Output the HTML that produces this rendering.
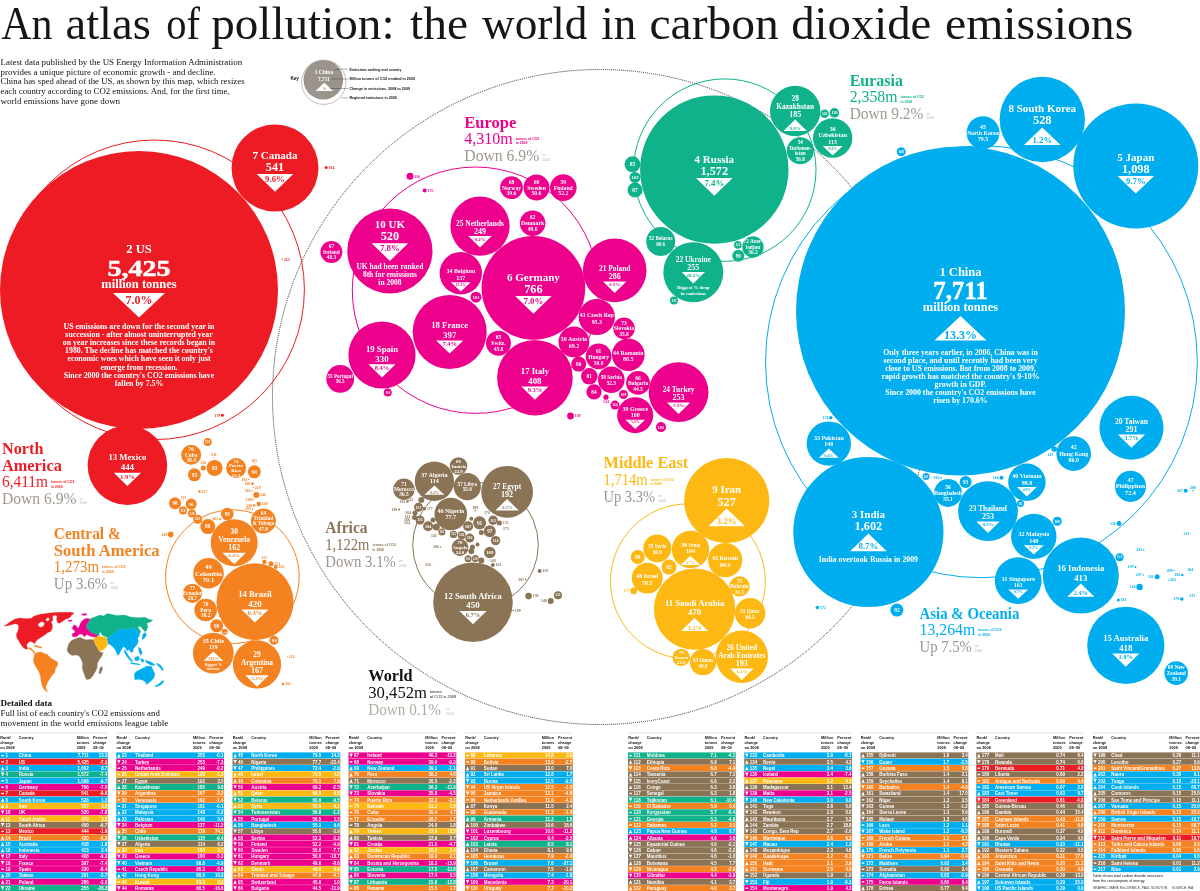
<!DOCTYPE html>
<html lang="en"><head><meta charset="utf-8"><title>An atlas of pollution: the world in carbon dioxide emissions</title>
<style>html,body{margin:0;padding:0;background:#fff}body{width:1200px;height:891px;overflow:hidden}svg{display:block;will-change:transform}text{font-family:"Liberation Serif",serif}.s text{font-family:"Liberation Sans",sans-serif}</style>
</head><body>
<svg width="1200" height="891" viewBox="0 0 1200 891">
<rect width="1200" height="891" fill="#fff"/>
<g fill="#fff">
<text y="38.7" font-size="47" fill="#161616"><tspan x="1.25" textLength="51.29" lengthAdjust="spacingAndGlyphs">An</tspan> <tspan x="65.5" textLength="85.28" lengthAdjust="spacingAndGlyphs">atlas</tspan> <tspan x="166.25" textLength="33.71" lengthAdjust="spacingAndGlyphs">of</tspan> <tspan x="211.25" textLength="183.24" lengthAdjust="spacingAndGlyphs">pollution:</tspan> <tspan x="410" textLength="58.02" lengthAdjust="spacingAndGlyphs">the</tspan> <tspan x="482" textLength="105.45" lengthAdjust="spacingAndGlyphs">world</tspan> <tspan x="601.25" textLength="34.96" lengthAdjust="spacingAndGlyphs">in</tspan> <tspan x="649.5" textLength="129.22" lengthAdjust="spacingAndGlyphs">carbon</tspan> <tspan x="791.25" textLength="139.98" lengthAdjust="spacingAndGlyphs">dioxide</tspan> <tspan x="945" textLength="188.31" lengthAdjust="spacingAndGlyphs">emissions</tspan></text>
<text x="0.6" y="65" font-size="8.9" fill="#111" textLength="241.5" lengthAdjust="spacingAndGlyphs">Latest data published by the US Energy Information Administration</text>
<text x="0.6" y="74.65" font-size="8.9" fill="#111" textLength="215" lengthAdjust="spacingAndGlyphs">provides a unique picture of economic growth - and decline.</text>
<text x="0.6" y="84.3" font-size="8.9" fill="#111" textLength="244" lengthAdjust="spacingAndGlyphs">China has sped ahead of the US, as shown by this map, which resizes</text>
<text x="0.6" y="93.95" font-size="8.9" fill="#111" textLength="229" lengthAdjust="spacingAndGlyphs">each country according to CO2 emissions. And, for the first time,</text>
<text x="0.6" y="103.6" font-size="8.9" fill="#111" textLength="119.5" lengthAdjust="spacingAndGlyphs">world emissions have gone down</text>
<circle cx="600" cy="397" r="327.5" fill="none" stroke="#111" stroke-width="0.95" stroke-dasharray="0.9 1.1"/>
<circle cx="154.6" cy="289.8" r="149.8" fill="none" stroke="#ed1c24" stroke-width="1"/>
<circle cx="475.5" cy="290.2" r="123.2" fill="none" stroke="#ec008c" stroke-width="1"/>
<circle cx="724.8" cy="170.1" r="91.2" fill="none" stroke="#10b28b" stroke-width="1"/>
<circle cx="981.4" cy="361.8" r="215.9" fill="none" stroke="#00aeef" stroke-width="1"/>
<circle cx="232.4" cy="576.7" r="66.8" fill="none" stroke="#f58220" stroke-width="1"/>
<circle cx="475.5" cy="545" r="62.8" fill="none" stroke="#8b7355" stroke-width="1"/>
<circle cx="687.9" cy="581.3" r="77.4" fill="none" stroke="#fdb813" stroke-width="1"/>
<g>
<circle cx="323.75" cy="82.2" r="22.2" fill="none" stroke="#9a948c" stroke-width="0.6"/>
<circle cx="323.3" cy="79.8" r="19.8" fill="#9a948c"/>
<text x="323.9" y="73.5" font-size="5.5" text-anchor="middle" font-weight="bold">1 China</text>
<text x="323.9" y="80.6" font-size="5.3" text-anchor="middle" font-weight="bold">7,711</text>
<polygon points="324.3,82.75 333.05,91 315.55,91" fill="#fff"/>
<text x="324.3" y="90.2" font-size="3.6" text-anchor="middle" font-weight="bold" fill="#8a847c">%</text>
<path d="M334.4 70.1L338 69.1H348.1M331.3 79H348.1M330 88.5H348.1M341.3 97.8H348.1" fill="none" stroke="#222" stroke-width="0.35"/>
<g class="s">
<text x="290.4" y="79.8" font-size="4.8" font-weight="bold" fill="#111" textLength="8.6" lengthAdjust="spacingAndGlyphs">Key</text>
<text x="349.4" y="70.6" font-size="4" font-weight="bold" fill="#111" textLength="52.1" lengthAdjust="spacingAndGlyphs">Emissions ranking and country</text>
<text x="349.4" y="80.1" font-size="4" font-weight="bold" fill="#111" textLength="65.6" lengthAdjust="spacingAndGlyphs">Million tonnes of CO2 emitted in 2009</text>
<text x="349.4" y="89.7" font-size="4" font-weight="bold" fill="#111" textLength="60.6" lengthAdjust="spacingAndGlyphs">Change in emissions, 2008 to 2009</text>
<text x="349.4" y="99.1" font-size="4" font-weight="bold" fill="#111" textLength="47.5" lengthAdjust="spacingAndGlyphs">Regional emissions in 2009</text>
</g></g>
<circle cx="960.5" cy="311" r="164.5" fill="#00aeef"/>
<circle cx="139" cy="290" r="139" fill="#ed1c24"/>
<circle cx="868.4" cy="532" r="75.1" fill="#00aeef"/>
<circle cx="714.3" cy="169.6" r="74.2" fill="#10b28b"/>
<circle cx="1135.8" cy="166" r="62.5" fill="#00aeef"/>
<circle cx="533.4" cy="287.9" r="51.8" fill="#ec008c"/>
<circle cx="275" cy="168" r="43.5" fill="#ed1c24"/>
<circle cx="1042.3" cy="119.5" r="42.7" fill="#00aeef"/>
<circle cx="389.9" cy="251" r="42.6" fill="#ec008c"/>
<circle cx="726.7" cy="500.6" r="42.6" fill="#fdb813"/>
<circle cx="694.6" cy="609.1" r="40.7" fill="#fdb813"/>
<circle cx="127.4" cy="465.3" r="39.8" fill="#ed1c24"/>
<circle cx="473" cy="602.3" r="39.8" fill="#8b7355"/>
<circle cx="1125.8" cy="645.4" r="38.6" fill="#00aeef"/>
<circle cx="255" cy="601.8" r="38.5" fill="#f58220"/>
<circle cx="1080.8" cy="575.6" r="38" fill="#00aeef"/>
<circle cx="534.9" cy="377.7" r="37.8" fill="#ec008c"/>
<circle cx="449.7" cy="332" r="37" fill="#ec008c"/>
<circle cx="382" cy="355" r="33.6" fill="#ec008c"/>
<circle cx="1131.5" cy="427.7" r="32" fill="#00aeef"/>
<circle cx="614.7" cy="270.4" r="31.8" fill="#ec008c"/>
<circle cx="693.3" cy="272.3" r="30" fill="#10b28b"/>
<circle cx="678.6" cy="392.2" r="29.9" fill="#ec008c"/>
<circle cx="988" cy="511.1" r="29.9" fill="#00aeef"/>
<circle cx="480" cy="226.2" r="29.6" fill="#ec008c"/>
<circle cx="741.8" cy="656.7" r="26.2" fill="#fdb813"/>
<circle cx="507.1" cy="491.8" r="25.9" fill="#8b7355"/>
<circle cx="795.2" cy="111" r="25.2" fill="#10b28b"/>
<circle cx="257" cy="664.4" r="24.1" fill="#f58220"/>
<circle cx="234.2" cy="542.8" r="23.5" fill="#f58220"/>
<circle cx="1018.2" cy="580.6" r="23.4" fill="#00aeef"/>
<circle cx="1033.8" cy="536.4" r="22.7" fill="#00aeef"/>
<circle cx="828.8" cy="443.6" r="22.2" fill="#00aeef"/>
<circle cx="460.8" cy="273.2" r="21.2" fill="#ec008c"/>
<circle cx="213.3" cy="653.1" r="20.4" fill="#f58220"/>
<circle cx="832.7" cy="138" r="19.7" fill="#10b28b"/>
<circle cx="434.4" cy="481.3" r="19.7" fill="#8b7355"/>
<circle cx="1026.9" cy="482.2" r="18.7" fill="#00aeef"/>
<circle cx="690.5" cy="549.5" r="18.7" fill="#fdb813"/>
<circle cx="596.8" cy="317" r="18.1" fill="#ec008c"/>
<circle cx="635.2" cy="415.2" r="18" fill="#ec008c"/>
<circle cx="1073.7" cy="453.6" r="17.3" fill="#00aeef"/>
<circle cx="725.2" cy="560.1" r="17.1" fill="#fdb813"/>
<circle cx="983" cy="132.7" r="16.5" fill="#00aeef"/>
<circle cx="628.3" cy="354.8" r="16.3" fill="#ec008c"/>
<circle cx="450.8" cy="514" r="16.3" fill="#8b7355"/>
<circle cx="1130.5" cy="486.3" r="15.6" fill="#00aeef"/>
<circle cx="573.9" cy="341.9" r="15.4" fill="#ec008c"/>
<circle cx="647.2" cy="578.1" r="15.4" fill="#fdb813"/>
<circle cx="208.5" cy="573.3" r="15.3" fill="#f58220"/>
<circle cx="750.1" cy="613.2" r="15.2" fill="#fdb813"/>
<circle cx="660.7" cy="241.5" r="14.5" fill="#10b28b"/>
<circle cx="657.3" cy="548.4" r="14" fill="#fdb813"/>
<circle cx="340.2" cy="378.8" r="13.9" fill="#ec008c"/>
<circle cx="948" cy="493" r="13.9" fill="#00aeef"/>
<circle cx="467.3" cy="486.7" r="13.6" fill="#8b7355"/>
<circle cx="800.3" cy="150.7" r="13.5" fill="#10b28b"/>
<circle cx="563.3" cy="187.6" r="13.3" fill="#ec008c"/>
<circle cx="611.3" cy="379.7" r="13.3" fill="#ec008c"/>
<circle cx="703" cy="662.2" r="13.1" fill="#fdb813"/>
<circle cx="536.5" cy="187.6" r="13" fill="#ec008c"/>
<circle cx="598.6" cy="356.3" r="12.9" fill="#ec008c"/>
<circle cx="532.6" cy="223.3" r="12.8" fill="#ec008c"/>
<circle cx="498.5" cy="343.2" r="12.5" fill="#ec008c"/>
<circle cx="263.4" cy="521" r="12.5" fill="#f58220"/>
<circle cx="638" cy="382.9" r="11.9" fill="#ec008c"/>
<circle cx="1176.2" cy="673.1" r="11.8" fill="#00aeef"/>
<circle cx="511.5" cy="187.6" r="11.4" fill="#ec008c"/>
<circle cx="205.7" cy="610" r="11.3" fill="#f58220"/>
<circle cx="331.4" cy="252" r="11" fill="#ec008c"/>
<circle cx="624" cy="328.3" r="10.8" fill="#ec008c"/>
<circle cx="753" cy="247" r="10.7" fill="#10b28b"/>
<circle cx="403.9" cy="489.2" r="10.7" fill="#8b7355"/>
<circle cx="739.5" cy="586.4" r="10.2" fill="#fdb813"/>
<circle cx="191.2" cy="454.8" r="10" fill="#f58220"/>
<circle cx="236.1" cy="468" r="10" fill="#f58220"/>
<circle cx="192.4" cy="593.3" r="9.6" fill="#f58220"/>
<circle cx="458.5" cy="466" r="8.8" fill="#8b7355"/>
<circle cx="681.2" cy="657.4" r="8.7" fill="#fdb813"/>
<circle cx="460" cy="547.5" r="8.4" fill="#8b7355"/>
<circle cx="589.3" cy="376.3" r="8.3" fill="#ec008c"/>
<circle cx="632.5" cy="164.3" r="8" fill="#10b28b"/>
<circle cx="214.6" cy="468" r="8" fill="#f58220"/>
<circle cx="594" cy="391.8" r="7.6" fill="#ec008c"/>
<circle cx="578.7" cy="364.1" r="7.5" fill="#ec008c"/>
<circle cx="635" cy="190" r="7.5" fill="#10b28b"/>
<circle cx="669" cy="567.1" r="7.5" fill="#fdb813"/>
<circle cx="207.8" cy="526.6" r="7.5" fill="#f58220"/>
<circle cx="637.7" cy="557" r="7" fill="#fdb813"/>
<circle cx="896.9" cy="610.1" r="6.5" fill="#00aeef"/>
<circle cx="254.3" cy="471.8" r="6.5" fill="#f58220"/>
<circle cx="194.4" cy="474.8" r="6.5" fill="#f58220"/>
<circle cx="216.7" cy="625.8" r="6.5" fill="#f58220"/>
<circle cx="479.6" cy="522.8" r="6.5" fill="#8b7355"/>
<circle cx="227.3" cy="514" r="6.3" fill="#f58220"/>
<circle cx="738.3" cy="255.8" r="6" fill="#10b28b"/>
<circle cx="965.6" cy="482" r="6" fill="#00aeef"/>
<circle cx="175" cy="503.3" r="6" fill="#f58220"/>
<circle cx="489.8" cy="531.3" r="6" fill="#8b7355"/>
<circle cx="489.8" cy="552.5" r="5.8" fill="#8b7355"/>
<circle cx="476" cy="297.2" r="5.5" fill="#ec008c"/>
<circle cx="635" cy="177.4" r="5.5" fill="#10b28b"/>
<circle cx="191.2" cy="504.1" r="5.5" fill="#f58220"/>
<circle cx="661" cy="427.1" r="5" fill="#ec008c"/>
<circle cx="428.1" cy="526.3" r="5" fill="#8b7355"/>
<circle cx="468.1" cy="526.3" r="5" fill="#8b7355"/>
<circle cx="834.4" cy="112.8" r="4.8" fill="#10b28b"/>
<circle cx="493.1" cy="520.3" r="4.7" fill="#8b7355"/>
<circle cx="495.6" cy="540.6" r="4.7" fill="#8b7355"/>
<circle cx="623.5" cy="394.5" r="4.5" fill="#ec008c"/>
<circle cx="615" cy="405.1" r="4.5" fill="#ec008c"/>
<circle cx="901.2" cy="151.8" r="4.5" fill="#00aeef"/>
<circle cx="1057.3" cy="521.3" r="4.5" fill="#00aeef"/>
<circle cx="197.7" cy="519.2" r="4.5" fill="#f58220"/>
<circle cx="273.9" cy="640.3" r="4.5" fill="#f58220"/>
<circle cx="418.5" cy="507.3" r="4.5" fill="#8b7355"/>
<circle cx="420" cy="520" r="4.5" fill="#8b7355"/>
<circle cx="469.8" cy="538.1" r="4.5" fill="#8b7355"/>
<circle cx="824.6" cy="113.8" r="4.3" fill="#10b28b"/>
<circle cx="387.7" cy="392.4" r="4" fill="#ec008c"/>
<circle cx="674" cy="300.5" r="4" fill="#10b28b"/>
<circle cx="1119.6" cy="557.3" r="4" fill="#00aeef"/>
<circle cx="207.6" cy="442" r="4" fill="#f58220"/>
<circle cx="183" cy="510.4" r="4" fill="#f58220"/>
<circle cx="192" cy="513.4" r="4" fill="#f58220"/>
<circle cx="461.6" cy="535.3" r="4" fill="#8b7355"/>
<circle cx="558" cy="595.2" r="4" fill="#8b7355"/>
<circle cx="737.8" cy="244.9" r="3.8" fill="#10b28b"/>
<circle cx="453.5" cy="534.4" r="3.7" fill="#8b7355"/>
<circle cx="926" cy="476.5" r="3.5" fill="#00aeef"/>
<circle cx="1020.5" cy="503.5" r="3.5" fill="#00aeef"/>
<circle cx="436.3" cy="526.9" r="3.5" fill="#8b7355"/>
<circle cx="441.9" cy="531.9" r="3.5" fill="#8b7355"/>
<circle cx="468.1" cy="558.8" r="3.5" fill="#8b7355"/>
<circle cx="475.3" cy="558.5" r="3.5" fill="#8b7355"/>
<circle cx="224.7" cy="631.8" r="3" fill="#f58220"/>
<circle cx="481.3" cy="560.6" r="3" fill="#8b7355"/>
<circle cx="421.3" cy="500" r="3" fill="#8b7355"/>
<circle cx="471.3" cy="551.3" r="3" fill="#8b7355"/>
<circle cx="433" cy="520" r="2.5" fill="#8b7355"/>
<circle cx="415" cy="513" r="2.5" fill="#8b7355"/>
<circle cx="414.5" cy="517.5" r="2.5" fill="#8b7355"/>
<circle cx="481.3" cy="532.5" r="2.5" fill="#8b7355"/>
<circle cx="472.5" cy="546.9" r="2.5" fill="#8b7355"/>
<circle cx="471.3" cy="518.8" r="2" fill="#8b7355"/>
<circle cx="477.5" cy="544.4" r="2" fill="#8b7355"/>
<circle cx="326.2" cy="167.6" r="1.5" fill="#ed1c24"/>
<circle cx="282.5" cy="259.2" r="0.6" fill="#ed1c24"/>
<circle cx="222.4" cy="415.3" r="1.5" fill="#ed1c24"/>
<circle cx="410" cy="176.2" r="3.5" fill="#ec008c"/>
<circle cx="424.7" cy="190.5" r="2" fill="#ec008c"/>
<circle cx="570.5" cy="416" r="3.4" fill="#ec008c"/>
<circle cx="606" cy="397.2" r="2.6" fill="#ec008c"/>
<circle cx="830.8" cy="417.7" r="1.7" fill="#00aeef"/>
<circle cx="941" cy="477.8" r="0.9" fill="#00aeef"/>
<circle cx="1001.5" cy="477.8" r="2" fill="#00aeef"/>
<circle cx="1054.2" cy="449" r="2.8" fill="#00aeef"/>
<circle cx="817.4" cy="607.6" r="1.8" fill="#00aeef"/>
<circle cx="1185.7" cy="490.8" r="2" fill="#00aeef"/>
<circle cx="1193" cy="490.8" r="0.7" fill="#00aeef"/>
<circle cx="1119" cy="523.5" r="2.4" fill="#00aeef"/>
<circle cx="1190.5" cy="533.5" r="0.4" fill="#00aeef"/>
<circle cx="1143.7" cy="550" r="0.8" fill="#00aeef"/>
<circle cx="1135.4" cy="567.1" r="1" fill="#00aeef"/>
<circle cx="1143.2" cy="575" r="0.7" fill="#00aeef"/>
<circle cx="1157.1" cy="576.8" r="2.5" fill="#00aeef"/>
<circle cx="1174" cy="570.3" r="0.7" fill="#00aeef"/>
<circle cx="1182.3" cy="575" r="1.2" fill="#00aeef"/>
<circle cx="1168.8" cy="580" r="0.7" fill="#00aeef"/>
<circle cx="1190.3" cy="573" r="0.5" fill="#00aeef"/>
<circle cx="1139.6" cy="586.9" r="3.2" fill="#00aeef"/>
<circle cx="1118.3" cy="600.1" r="1.5" fill="#00aeef"/>
<circle cx="1181.8" cy="599" r="1.8" fill="#00aeef"/>
<circle cx="1196.5" cy="595.4" r="0.4" fill="#00aeef"/>
<circle cx="633.7" cy="590.9" r="3.3" fill="#fdb813"/>
<circle cx="214" cy="457.9" r="0.5" fill="#f58220"/>
<circle cx="203.3" cy="468" r="2.5" fill="#f58220"/>
<circle cx="254.3" cy="463.5" r="0.5" fill="#f58220"/>
<circle cx="248.7" cy="479.3" r="0.7" fill="#f58220"/>
<circle cx="252.5" cy="483.6" r="1.4" fill="#f58220"/>
<circle cx="253.3" cy="487.2" r="0.7" fill="#f58220"/>
<circle cx="252" cy="490.7" r="0.7" fill="#f58220"/>
<circle cx="199.5" cy="491.5" r="1.2" fill="#f58220"/>
<circle cx="256.3" cy="495" r="3" fill="#f58220"/>
<circle cx="253.3" cy="499.5" r="0.8" fill="#f58220"/>
<circle cx="258.8" cy="504" r="2.2" fill="#f58220"/>
<circle cx="254.3" cy="505.4" r="1.2" fill="#f58220"/>
<circle cx="252.5" cy="509.1" r="0.8" fill="#f58220"/>
<circle cx="170.7" cy="534.4" r="2.8" fill="#f58220"/>
<circle cx="220" cy="519" r="1" fill="#f58220"/>
<circle cx="264.4" cy="561.9" r="2.2" fill="#f58220"/>
<circle cx="271" cy="563.7" r="2.5" fill="#f58220"/>
<circle cx="275.8" cy="567" r="2" fill="#f58220"/>
<circle cx="287.4" cy="656.6" r="0.5" fill="#f58220"/>
<circle cx="282.9" cy="684" r="1.2" fill="#f58220"/>
<circle cx="183.6" cy="500.5" r="0.5" fill="#f58220"/>
<circle cx="399.1" cy="509.4" r="1" fill="#8b7355"/>
<circle cx="424.4" cy="508.8" r="1.7" fill="#8b7355"/>
<circle cx="407.5" cy="501.5" r="1.2" fill="#8b7355"/>
<circle cx="440.6" cy="546.9" r="0.7" fill="#8b7355"/>
<circle cx="432" cy="564.4" r="0.4" fill="#8b7355"/>
<circle cx="525.6" cy="579.4" r="0.8" fill="#8b7355"/>
<circle cx="492.8" cy="565" r="2" fill="#8b7355"/>
<circle cx="499.4" cy="523.1" r="2.5" fill="#8b7355"/>
<circle cx="539.6" cy="570.9" r="2" fill="#8b7355"/>
<circle cx="528.6" cy="596.1" r="3.3" fill="#8b7355"/>
<circle cx="550.7" cy="600.9" r="3" fill="#8b7355"/>
<circle cx="513.2" cy="610.5" r="0.8" fill="#8b7355"/>
<circle cx="475.3" cy="510.6" r="0.8" fill="#8b7355"/>
<circle cx="488.8" cy="560.6" r="0.3" fill="#8b7355"/>
<circle cx="412" cy="513" r="0.3" fill="#8b7355"/>
<circle cx="411.5" cy="516.5" r="0.3" fill="#8b7355"/>
<circle cx="411" cy="519.5" r="0.3" fill="#8b7355"/>
<circle cx="411" cy="522.5" r="0.3" fill="#8b7355"/>
<circle cx="501.9" cy="528.5" r="0.3" fill="#8b7355"/>
<circle cx="486.9" cy="515.5" r="0.3" fill="#8b7355"/>
<circle cx="434" cy="532.9" r="0.3" fill="#8b7355"/>
<circle cx="414" cy="500" r="0.3" fill="#8b7355"/>
<text x="139" y="252.8" font-size="12.5" text-anchor="middle" font-weight="bold">2 US</text>
<text x="139" y="276.2" font-size="23.8" text-anchor="middle" font-weight="bold" stroke="#fff" stroke-width="0.45" textLength="63" lengthAdjust="spacingAndGlyphs">5,425</text>
<text x="139" y="288" font-size="12.5" text-anchor="middle" font-weight="bold">million tonnes</text>
<polygon points="113,293 165,293 139,317.5" fill="#fff"/>
<text x="139" y="304" font-size="12" text-anchor="middle" font-weight="bold" fill="#ed1c24">7.0%</text>
<text x="139" y="328.8" font-size="7.85" text-anchor="middle" font-weight="bold">US emissions are down for the second year in</text>
<text x="139" y="336.95" font-size="7.85" text-anchor="middle" font-weight="bold">succession - after almost uninterrupted year</text>
<text x="139" y="345.1" font-size="7.85" text-anchor="middle" font-weight="bold">on year increases since these records began in</text>
<text x="139" y="353.25" font-size="7.85" text-anchor="middle" font-weight="bold">1980. The decline has matched the country's</text>
<text x="139" y="361.4" font-size="7.85" text-anchor="middle" font-weight="bold">economic woes which have seen it only just</text>
<text x="139" y="369.55" font-size="7.85" text-anchor="middle" font-weight="bold">emerge from recession.</text>
<text x="139" y="377.7" font-size="7.85" text-anchor="middle" font-weight="bold">Since 2000 the country's CO2 emissions have</text>
<text x="139" y="385.85" font-size="7.85" text-anchor="middle" font-weight="bold">fallen by 7.5%</text>
<text x="960.5" y="275.6" font-size="12.5" text-anchor="middle" font-weight="bold">1 China</text>
<text x="960.5" y="299" font-size="24.6" text-anchor="middle" font-weight="bold" stroke="#fff" stroke-width="0.45" textLength="54.5" lengthAdjust="spacingAndGlyphs">7,711</text>
<text x="960.5" y="310.8" font-size="12.5" text-anchor="middle" font-weight="bold">million tonnes</text>
<polygon points="960.5,316 986.5,340.5 934.5,340.5" fill="#fff"/>
<text x="960.5" y="338.5" font-size="12" text-anchor="middle" font-weight="bold" fill="#00aeef">13.3%</text>
<text x="960.5" y="354.5" font-size="7.85" text-anchor="middle" font-weight="bold">Only three years earlier, in 2006, China was in</text>
<text x="960.5" y="362.65" font-size="7.85" text-anchor="middle" font-weight="bold">second place, and until recently had been very</text>
<text x="960.5" y="370.8" font-size="7.85" text-anchor="middle" font-weight="bold">close to US emissions. But from 2008 to 2009,</text>
<text x="960.5" y="378.95" font-size="7.85" text-anchor="middle" font-weight="bold">rapid growth has matched the country's 9-10%</text>
<text x="960.5" y="387.1" font-size="7.85" text-anchor="middle" font-weight="bold">growth in GDP.</text>
<text x="960.5" y="395.25" font-size="7.85" text-anchor="middle" font-weight="bold">Since 2000 the country's CO2 emissions have</text>
<text x="960.5" y="403.4" font-size="7.85" text-anchor="middle" font-weight="bold">risen by 170.6%</text>
<text x="275" y="158.8" font-size="11" text-anchor="middle" font-weight="bold">7 Canada</text>
<text x="275" y="171" font-size="12.3" text-anchor="middle" font-weight="bold">541</text>
<polygon points="256.7,174.1 293.3,174.1 275,191.8" fill="#fff"/>
<text x="275" y="181.7" font-size="8.8" text-anchor="middle" font-weight="bold" fill="#ed1c24">9.6%</text>
<text x="127.4" y="460.4" font-size="8.7" text-anchor="middle" font-weight="bold">13 Mexico</text>
<text x="127.4" y="470.1" font-size="8.9" text-anchor="middle" font-weight="bold">444</text>
<polygon points="113.8,472.8 141,472.8 127.4,486" fill="#fff"/>
<text x="127.4" y="478.5" font-size="6.4" text-anchor="middle" font-weight="bold" fill="#ed1c24">1.9%</text>
<text x="714.3" y="162.8" font-size="11" text-anchor="middle" font-weight="bold">4 Russia</text>
<text x="714.3" y="175" font-size="12.3" text-anchor="middle" font-weight="bold">1,572</text>
<polygon points="696,178.1 732.6,178.1 714.3,195.8" fill="#fff"/>
<text x="714.3" y="185.7" font-size="8.8" text-anchor="middle" font-weight="bold" fill="#10b28b">7.4%</text>
<text x="1042.3" y="112.1" font-size="11" text-anchor="middle" font-weight="bold">8 South Korea</text>
<text x="1042.3" y="124.3" font-size="12.3" text-anchor="middle" font-weight="bold">528</text>
<polygon points="1042.3,127.4 1060.6,145.1 1024,145.1" fill="#fff"/>
<text x="1042.3" y="142.9" font-size="8.8" text-anchor="middle" font-weight="bold" fill="#00aeef">1.2%</text>
<text x="1135.8" y="160.6" font-size="11" text-anchor="middle" font-weight="bold">5 Japan</text>
<text x="1135.8" y="172.8" font-size="12.3" text-anchor="middle" font-weight="bold">1,098</text>
<polygon points="1117.5,175.9 1154.1,175.9 1135.8,193.6" fill="#fff"/>
<text x="1135.8" y="183.5" font-size="8.8" text-anchor="middle" font-weight="bold" fill="#00aeef">9.7%</text>
<text x="533.4" y="280.8" font-size="11" text-anchor="middle" font-weight="bold">6 Germany</text>
<text x="533.4" y="293" font-size="12.3" text-anchor="middle" font-weight="bold">766</text>
<polygon points="515.1,296.1 551.7,296.1 533.4,313.8" fill="#fff"/>
<text x="533.4" y="303.7" font-size="8.8" text-anchor="middle" font-weight="bold" fill="#ec008c">7.0%</text>
<text x="389.9" y="227.9" font-size="11" text-anchor="middle" font-weight="bold">10 UK</text>
<text x="389.9" y="240.1" font-size="12.3" text-anchor="middle" font-weight="bold">520</text>
<polygon points="371.6,243.2 408.2,243.2 389.9,260.9" fill="#fff"/>
<text x="389.9" y="250.8" font-size="8.8" text-anchor="middle" font-weight="bold" fill="#ec008c">7.8%</text>
<text x="389.9" y="269.3" font-size="7.5" text-anchor="middle" font-weight="bold">UK had been ranked</text>
<text x="389.9" y="277.3" font-size="7.5" text-anchor="middle" font-weight="bold">8th for emissions</text>
<text x="389.9" y="285.3" font-size="7.5" text-anchor="middle" font-weight="bold">in 2008</text>
<text x="449.7" y="328" font-size="8.7" text-anchor="middle" font-weight="bold">18 France</text>
<text x="449.7" y="337.7" font-size="8.9" text-anchor="middle" font-weight="bold">397</text>
<polygon points="436.1,340.4 463.3,340.4 449.7,353.6" fill="#fff"/>
<text x="449.7" y="346.1" font-size="6.4" text-anchor="middle" font-weight="bold" fill="#ec008c">7.4%</text>
<text x="382" y="351.8" font-size="8.7" text-anchor="middle" font-weight="bold">19 Spain</text>
<text x="382" y="361.5" font-size="8.9" text-anchor="middle" font-weight="bold">330</text>
<polygon points="368.4,364.2 395.6,364.2 382,377.4" fill="#fff"/>
<text x="382" y="369.9" font-size="6.4" text-anchor="middle" font-weight="bold" fill="#ec008c">8.4%</text>
<text x="534.9" y="374.2" font-size="8.7" text-anchor="middle" font-weight="bold">17 Italy</text>
<text x="534.9" y="383.9" font-size="8.9" text-anchor="middle" font-weight="bold">408</text>
<polygon points="521.3,386.6 548.5,386.6 534.9,399.8" fill="#fff"/>
<text x="534.9" y="392.3" font-size="6.4" text-anchor="middle" font-weight="bold" fill="#ec008c">9.3%</text>
<text x="868.4" y="518.2" font-size="11" text-anchor="middle" font-weight="bold">3 India</text>
<text x="868.4" y="530.4" font-size="12.3" text-anchor="middle" font-weight="bold">1,602</text>
<polygon points="868.4,533.5 886.7,551.2 850.1,551.2" fill="#fff"/>
<text x="868.4" y="549" font-size="8.8" text-anchor="middle" font-weight="bold" fill="#00aeef">8.7%</text>
<text x="868.4" y="561.6" font-size="7.8" text-anchor="middle" font-weight="bold">India overtook Russia in 2009</text>
<text x="1080.8" y="571.2" font-size="8.7" text-anchor="middle" font-weight="bold">16 Indonesia</text>
<text x="1080.8" y="580.9" font-size="8.9" text-anchor="middle" font-weight="bold">413</text>
<polygon points="1080.8,583.6 1094.4,596.8 1067.2,596.8" fill="#fff"/>
<text x="1080.8" y="595.2" font-size="6.4" text-anchor="middle" font-weight="bold" fill="#00aeef">2.4%</text>
<text x="1125.8" y="641.2" font-size="8.7" text-anchor="middle" font-weight="bold">15 Australia</text>
<text x="1125.8" y="650.9" font-size="8.9" text-anchor="middle" font-weight="bold">418</text>
<polygon points="1112.2,653.6 1139.4,653.6 1125.8,666.8" fill="#fff"/>
<text x="1125.8" y="659.3" font-size="6.4" text-anchor="middle" font-weight="bold" fill="#00aeef">1.8%</text>
<text x="726.7" y="493.3" font-size="11" text-anchor="middle" font-weight="bold">9 Iran</text>
<text x="726.7" y="505.5" font-size="12.3" text-anchor="middle" font-weight="bold">527</text>
<polygon points="726.7,508.6 745,526.3 708.4,526.3" fill="#fff"/>
<text x="726.7" y="524.1" font-size="8.8" text-anchor="middle" font-weight="bold" fill="#fdb813">3.2%</text>
<text x="694.6" y="605.5" font-size="8.7" text-anchor="middle" font-weight="bold">11 Saudi Arabia</text>
<text x="694.6" y="615.2" font-size="8.9" text-anchor="middle" font-weight="bold">470</text>
<polygon points="694.6,617.9 708.2,631.1 681,631.1" fill="#fff"/>
<text x="694.6" y="629.5" font-size="6.4" text-anchor="middle" font-weight="bold" fill="#fdb813">3.2%</text>
<text x="473" y="598.6" font-size="8.7" text-anchor="middle" font-weight="bold">12 South Africa</text>
<text x="473" y="608.3" font-size="8.9" text-anchor="middle" font-weight="bold">450</text>
<polygon points="459.4,611 486.6,611 473,624.2" fill="#fff"/>
<text x="473" y="616.7" font-size="6.4" text-anchor="middle" font-weight="bold" fill="#8b7355">6.7%</text>
<text x="255" y="597" font-size="8.7" text-anchor="middle" font-weight="bold">14 Brazil</text>
<text x="255" y="606.7" font-size="8.9" text-anchor="middle" font-weight="bold">420</text>
<polygon points="241.4,609.4 268.6,609.4 255,622.6" fill="#fff"/>
<text x="255" y="615.1" font-size="6.4" text-anchor="middle" font-weight="bold" fill="#f58220">0.3%</text>
<text x="1131.5" y="423.8" font-size="7.6" text-anchor="middle" font-weight="bold">20 Taiwan</text>
<text x="1131.5" y="431.8" font-size="8" text-anchor="middle" font-weight="bold">291</text>
<polygon points="1117.9,434.5 1145.1,434.5 1131.5,447.7" fill="#fff"/>
<text x="1131.5" y="440.2" font-size="6.4" text-anchor="middle" font-weight="bold" fill="#00aeef">3.7%</text>
<text x="480" y="225.6" font-size="7.4" text-anchor="middle" font-weight="bold">25 Netherlands</text>
<text x="480" y="233.6" font-size="8.1" text-anchor="middle" font-weight="bold">249</text>
<polygon points="468.3,236.1 491.7,236.1 480,247.6" fill="#fff"/>
<text x="480" y="240.7" font-size="5" text-anchor="middle" font-weight="bold" fill="#ec008c">0.2%</text>
<text x="614.7" y="270.9" font-size="7.4" text-anchor="middle" font-weight="bold">21 Poland</text>
<text x="614.7" y="278.9" font-size="8.1" text-anchor="middle" font-weight="bold">286</text>
<polygon points="603,281.4 626.4,281.4 614.7,292.9" fill="#fff"/>
<text x="614.7" y="286" font-size="5" text-anchor="middle" font-weight="bold" fill="#ec008c">3.5%</text>
<text x="693.3" y="261.5" font-size="7.4" text-anchor="middle" font-weight="bold">22 Ukraine</text>
<text x="693.3" y="269.5" font-size="8.1" text-anchor="middle" font-weight="bold">255</text>
<polygon points="681.6,272 705,272 693.3,283.5" fill="#fff"/>
<text x="693.3" y="276.6" font-size="5" text-anchor="middle" font-weight="bold" fill="#10b28b">28.2%</text>
<text x="693.3" y="289" font-size="4.9" text-anchor="middle" font-weight="bold">Biggest % drop</text>
<text x="693.3" y="294.6" font-size="4.9" text-anchor="middle" font-weight="bold">in emissions</text>
<text x="678.6" y="392.1" font-size="7.4" text-anchor="middle" font-weight="bold">24 Turkey</text>
<text x="678.6" y="400.1" font-size="8.1" text-anchor="middle" font-weight="bold">253</text>
<polygon points="666.9,402.6 690.3,402.6 678.6,414.1" fill="#fff"/>
<text x="678.6" y="407.2" font-size="5" text-anchor="middle" font-weight="bold" fill="#ec008c">7.3%</text>
<text x="988" y="511.1" font-size="7.4" text-anchor="middle" font-weight="bold">23 Thailand</text>
<text x="988" y="519.1" font-size="8.1" text-anchor="middle" font-weight="bold">253</text>
<polygon points="976.3,521.6 999.7,521.6 988,533.1" fill="#fff"/>
<text x="988" y="526.2" font-size="5" text-anchor="middle" font-weight="bold" fill="#00aeef">0.3%</text>
<text x="507.1" y="488.5" font-size="7.4" text-anchor="middle" font-weight="bold">27 Egypt</text>
<text x="507.1" y="496.5" font-size="8.1" text-anchor="middle" font-weight="bold">192</text>
<polygon points="507.1,499 518.8,510.5 495.4,510.5" fill="#fff"/>
<text x="507.1" y="509.1" font-size="5" text-anchor="middle" font-weight="bold" fill="#8b7355">3.5%</text>
<text x="795.2" y="101" font-size="7.4" text-anchor="middle" font-weight="bold">28</text>
<text x="795.2" y="109.1" font-size="7.4" text-anchor="middle" font-weight="bold">Kazakhstan</text>
<text x="795.2" y="117.1" font-size="8.1" text-anchor="middle" font-weight="bold">185</text>
<polygon points="795.2,119.6 806.9,131.1 783.5,131.1" fill="#fff"/>
<text x="795.2" y="129.7" font-size="5" text-anchor="middle" font-weight="bold" fill="#10b28b">9.8%</text>
<text x="741.8" y="649.8" font-size="7.4" text-anchor="middle" font-weight="bold">26 United</text>
<text x="741.8" y="657.9" font-size="7.4" text-anchor="middle" font-weight="bold">Arab Emirates</text>
<text x="741.8" y="665.9" font-size="8.1" text-anchor="middle" font-weight="bold">193</text>
<polygon points="730.1,668.4 753.5,668.4 741.8,679.9" fill="#fff"/>
<text x="741.8" y="673" font-size="5" text-anchor="middle" font-weight="bold" fill="#fdb813">1.2%</text>
<text x="257" y="656.6" font-size="7.4" text-anchor="middle" font-weight="bold">29</text>
<text x="257" y="664.7" font-size="7.4" text-anchor="middle" font-weight="bold">Argentina</text>
<text x="257" y="672.7" font-size="8.1" text-anchor="middle" font-weight="bold">167</text>
<polygon points="245.3,675.2 268.7,675.2 257,686.7" fill="#fff"/>
<text x="257" y="679.8" font-size="5" text-anchor="middle" font-weight="bold" fill="#f58220">5.3%</text>
<text x="234.2" y="534.1" font-size="7.4" text-anchor="middle" font-weight="bold">30</text>
<text x="234.2" y="542.2" font-size="7.4" text-anchor="middle" font-weight="bold">Venezuela</text>
<text x="234.2" y="550.2" font-size="8.1" text-anchor="middle" font-weight="bold">162</text>
<polygon points="222.5,552.7 245.9,552.7 234.2,564.2" fill="#fff"/>
<text x="234.2" y="557.3" font-size="5" text-anchor="middle" font-weight="bold" fill="#f58220">1.4%</text>
<text x="460.8" y="273.4" font-size="6" text-anchor="middle" font-weight="bold">34 Belgium</text>
<text x="460.8" y="279.9" font-size="6" text-anchor="middle" font-weight="bold">137</text>
<polygon points="450.9,282.2 470.7,282.2 460.8,291.6" fill="#fff"/>
<text x="460.8" y="285.8" font-size="3.8" text-anchor="middle" font-weight="bold" fill="#ec008c">11.2%</text>
<text x="635.2" y="410.9" font-size="6" text-anchor="middle" font-weight="bold">39 Greece</text>
<text x="635.2" y="417.4" font-size="6" text-anchor="middle" font-weight="bold">100</text>
<polygon points="625.3,419.7 645.1,419.7 635.2,429.1" fill="#fff"/>
<text x="635.2" y="423.3" font-size="3.8" text-anchor="middle" font-weight="bold" fill="#ec008c">5.3%</text>
<text x="832.7" y="130.6" font-size="6" text-anchor="middle" font-weight="bold">36</text>
<text x="832.7" y="137.3" font-size="6" text-anchor="middle" font-weight="bold">Uzbekistan</text>
<text x="832.7" y="143.8" font-size="6" text-anchor="middle" font-weight="bold">115</text>
<polygon points="822.8,146.1 842.6,146.1 832.7,155.5" fill="#fff"/>
<text x="832.7" y="149.7" font-size="3.8" text-anchor="middle" font-weight="bold" fill="#10b28b">9.4%</text>
<text x="1033.8" y="536.4" font-size="6" text-anchor="middle" font-weight="bold">32 Malaysia</text>
<text x="1033.8" y="542.9" font-size="6" text-anchor="middle" font-weight="bold">148</text>
<polygon points="1023.9,545.2 1043.7,545.2 1033.8,554.6" fill="#fff"/>
<text x="1033.8" y="548.8" font-size="3.8" text-anchor="middle" font-weight="bold" fill="#00aeef">0.2%</text>
<text x="1018.2" y="580.6" font-size="6" text-anchor="middle" font-weight="bold">31 Singapore</text>
<text x="1018.2" y="587.1" font-size="6" text-anchor="middle" font-weight="bold">161</text>
<polygon points="1008.3,589.4 1028.1,589.4 1018.2,598.8" fill="#fff"/>
<text x="1018.2" y="593" font-size="3.8" text-anchor="middle" font-weight="bold" fill="#00aeef">0.7%</text>
<text x="1026.9" y="478.3" font-size="6" text-anchor="middle" font-weight="bold">40 Vietnam</text>
<text x="1026.9" y="484.8" font-size="6" text-anchor="middle" font-weight="bold">98.8</text>
<polygon points="1017,487.1 1036.8,487.1 1026.9,496.5" fill="#fff"/>
<text x="1026.9" y="490.7" font-size="3.8" text-anchor="middle" font-weight="bold" fill="#00aeef">4.9%</text>
<text x="828.8" y="439.6" font-size="6" text-anchor="middle" font-weight="bold">33 Pakistan</text>
<text x="828.8" y="446.1" font-size="6" text-anchor="middle" font-weight="bold">140</text>
<polygon points="828.8,448.4 838.7,457.8 818.9,457.8" fill="#fff"/>
<text x="828.8" y="456.6" font-size="3.8" text-anchor="middle" font-weight="bold" fill="#00aeef">0.4%</text>
<text x="434.4" y="476.6" font-size="6" text-anchor="middle" font-weight="bold">37 Algeria</text>
<text x="434.4" y="483.1" font-size="6" text-anchor="middle" font-weight="bold">114</text>
<polygon points="434.4,485.4 444.3,494.8 424.5,494.8" fill="#fff"/>
<text x="434.4" y="493.6" font-size="3.8" text-anchor="middle" font-weight="bold" fill="#8b7355">6.2%</text>
<text x="690.5" y="546.9" font-size="6" text-anchor="middle" font-weight="bold">38 Iraq</text>
<text x="690.5" y="553.4" font-size="6" text-anchor="middle" font-weight="bold">104</text>
<polygon points="690.5,555.7 700.4,565.1 680.6,565.1" fill="#fff"/>
<text x="690.5" y="563.9" font-size="3.8" text-anchor="middle" font-weight="bold" fill="#fdb813">2.7%</text>
<text x="213.3" y="642.6" font-size="6" text-anchor="middle" font-weight="bold">35 Chile</text>
<text x="213.3" y="649.1" font-size="6" text-anchor="middle" font-weight="bold">119</text>
<polygon points="213.3,651.4 223.2,660.8 203.4,660.8" fill="#fff"/>
<text x="213.3" y="659.6" font-size="3.8" text-anchor="middle" font-weight="bold" fill="#f58220">74.1%</text>
<text x="213.3" y="665.7" font-size="3.9" text-anchor="middle" font-weight="bold">Biggest %</text>
<text x="213.3" y="670.3" font-size="3.9" text-anchor="middle" font-weight="bold">increase</text>
<text x="331.4" y="248.35" font-size="5.34" text-anchor="middle" font-weight="bold">67</text>
<text x="331.4" y="253.81" font-size="5.34" text-anchor="middle" font-weight="bold">Ireland</text>
<text x="331.4" y="259.28" font-size="5.34" text-anchor="middle" font-weight="bold">40.3</text>
<text x="511.5" y="183.72" font-size="5.68" text-anchor="middle" font-weight="bold">68</text>
<text x="511.5" y="189.53" font-size="5.68" text-anchor="middle" font-weight="bold">Norway</text>
<text x="511.5" y="195.35" font-size="5.68" text-anchor="middle" font-weight="bold">39.6</text>
<text x="536.5" y="183.72" font-size="5.68" text-anchor="middle" font-weight="bold">60</text>
<text x="536.5" y="189.53" font-size="5.68" text-anchor="middle" font-weight="bold">Sweden</text>
<text x="536.5" y="195.35" font-size="5.68" text-anchor="middle" font-weight="bold">50.6</text>
<text x="563.3" y="183.72" font-size="5.68" text-anchor="middle" font-weight="bold">59</text>
<text x="563.3" y="189.53" font-size="5.68" text-anchor="middle" font-weight="bold">Finland</text>
<text x="563.3" y="195.35" font-size="5.68" text-anchor="middle" font-weight="bold">52.2</text>
<text x="532.6" y="219.42" font-size="5.68" text-anchor="middle" font-weight="bold">62</text>
<text x="532.6" y="225.23" font-size="5.68" text-anchor="middle" font-weight="bold">Denmark</text>
<text x="532.6" y="231.05" font-size="5.68" text-anchor="middle" font-weight="bold">49.6</text>
<text x="340.2" y="377.89" font-size="5.08" text-anchor="middle" font-weight="bold">55 Portugal</text>
<text x="340.2" y="383.16" font-size="5.08" text-anchor="middle" font-weight="bold">56.5</text>
<text x="498.5" y="339.39" font-size="5.57" text-anchor="middle" font-weight="bold">65</text>
<text x="498.5" y="345.09" font-size="5.57" text-anchor="middle" font-weight="bold">Switz.</text>
<text x="498.5" y="350.79" font-size="5.57" text-anchor="middle" font-weight="bold">45.8</text>
<text x="573.9" y="341.22" font-size="5.94" text-anchor="middle" font-weight="bold">50 Austria</text>
<text x="573.9" y="347.82" font-size="5.94" text-anchor="middle" font-weight="bold">69.2</text>
<text x="596.8" y="317.28" font-size="5.83" text-anchor="middle" font-weight="bold">41 Czech Rep</text>
<text x="596.8" y="323.88" font-size="5.83" text-anchor="middle" font-weight="bold">95.3</text>
<text x="624" y="324.57" font-size="5.45" text-anchor="middle" font-weight="bold">73</text>
<text x="624" y="330.15" font-size="5.45" text-anchor="middle" font-weight="bold">Slovakia</text>
<text x="624" y="335.73" font-size="5.45" text-anchor="middle" font-weight="bold">35.8</text>
<text x="598.6" y="353.37" font-size="5.45" text-anchor="middle" font-weight="bold">61</text>
<text x="598.6" y="358.95" font-size="5.45" text-anchor="middle" font-weight="bold">Hungary</text>
<text x="598.6" y="364.53" font-size="5.45" text-anchor="middle" font-weight="bold">50.0</text>
<text x="628.3" y="354.82" font-size="5.94" text-anchor="middle" font-weight="bold">44 Romania</text>
<text x="628.3" y="361.42" font-size="5.94" text-anchor="middle" font-weight="bold">80.5</text>
<text x="611.3" y="379.4" font-size="5.29" text-anchor="middle" font-weight="bold">58 Serbia</text>
<text x="611.3" y="385.2" font-size="5.29" text-anchor="middle" font-weight="bold">52.3</text>
<text x="638" y="379.77" font-size="5.45" text-anchor="middle" font-weight="bold">66</text>
<text x="638" y="385.35" font-size="5.45" text-anchor="middle" font-weight="bold">Bulgaria</text>
<text x="638" y="390.93" font-size="5.45" text-anchor="middle" font-weight="bold">44.5</text>
<text x="660.7" y="240.36" font-size="5.18" text-anchor="middle" font-weight="bold">52 Belarus</text>
<text x="660.7" y="246.16" font-size="5.18" text-anchor="middle" font-weight="bold">60.6</text>
<text x="800.3" y="143.92" font-size="5.22" text-anchor="middle" font-weight="bold">54</text>
<text x="800.3" y="149.62" font-size="5.22" text-anchor="middle" font-weight="bold">Turkmen-</text>
<text x="800.3" y="155.32" font-size="5.22" text-anchor="middle" font-weight="bold">istan</text>
<text x="800.3" y="161.02" font-size="5.22" text-anchor="middle" font-weight="bold">56.8</text>
<text x="753" y="243.35" font-size="5.34" text-anchor="middle" font-weight="bold">72 Azer-</text>
<text x="753" y="248.81" font-size="5.34" text-anchor="middle" font-weight="bold">baijan</text>
<text x="753" y="254.28" font-size="5.34" text-anchor="middle" font-weight="bold">36.2</text>
<text x="983" y="128.74" font-size="5.8" text-anchor="middle" font-weight="bold">45</text>
<text x="983" y="134.67" font-size="5.8" text-anchor="middle" font-weight="bold">North Korea</text>
<text x="983" y="140.61" font-size="5.8" text-anchor="middle" font-weight="bold">79.5</text>
<text x="1073.7" y="448.81" font-size="5.92" text-anchor="middle" font-weight="bold">42</text>
<text x="1073.7" y="455.61" font-size="5.92" text-anchor="middle" font-weight="bold">Hong Kong</text>
<text x="1073.7" y="462.41" font-size="5.92" text-anchor="middle" font-weight="bold">86.0</text>
<text x="1130.5" y="481.61" font-size="6.21" text-anchor="middle" font-weight="bold">47</text>
<text x="1130.5" y="488.41" font-size="6.21" text-anchor="middle" font-weight="bold">Philippines</text>
<text x="1130.5" y="495.21" font-size="6.21" text-anchor="middle" font-weight="bold">72.4</text>
<text x="948" y="489.19" font-size="5.57" text-anchor="middle" font-weight="bold">56</text>
<text x="948" y="494.89" font-size="5.57" text-anchor="middle" font-weight="bold">Bangladesh</text>
<text x="948" y="500.59" font-size="5.57" text-anchor="middle" font-weight="bold">55.1</text>
<text x="1176.2" y="669.37" font-size="5.45" text-anchor="middle" font-weight="bold">69 New</text>
<text x="1176.2" y="674.95" font-size="5.45" text-anchor="middle" font-weight="bold">Zealand</text>
<text x="1176.2" y="680.53" font-size="5.45" text-anchor="middle" font-weight="bold">39.1</text>
<text x="403.9" y="485.55" font-size="5.34" text-anchor="middle" font-weight="bold">71</text>
<text x="403.9" y="491.01" font-size="5.34" text-anchor="middle" font-weight="bold">Morocco</text>
<text x="403.9" y="496.48" font-size="5.34" text-anchor="middle" font-weight="bold">36.5</text>
<text x="458.5" y="462.59" font-size="4.99" text-anchor="middle" font-weight="bold">80</text>
<text x="458.5" y="467.7" font-size="4.99" text-anchor="middle" font-weight="bold">Tunisia</text>
<text x="458.5" y="472.8" font-size="4.99" text-anchor="middle" font-weight="bold">22.9</text>
<text x="467.3" y="485.56" font-size="5.18" text-anchor="middle" font-weight="bold">57 Libya</text>
<text x="467.3" y="491.36" font-size="5.18" text-anchor="middle" font-weight="bold">55.0</text>
<text x="450.8" y="512.76" font-size="6.05" text-anchor="middle" font-weight="bold">46 Nigeria</text>
<text x="450.8" y="519.36" font-size="6.05" text-anchor="middle" font-weight="bold">77.7</text>
<text x="460" y="544.09" font-size="4.99" text-anchor="middle" font-weight="bold">78</text>
<text x="460" y="549.2" font-size="4.99" text-anchor="middle" font-weight="bold">Angola</text>
<text x="460" y="554.3" font-size="4.99" text-anchor="middle" font-weight="bold">24.0</text>
<text x="657.3" y="548.46" font-size="5.18" text-anchor="middle" font-weight="bold">53 Syria</text>
<text x="657.3" y="554.26" font-size="5.18" text-anchor="middle" font-weight="bold">56.9</text>
<text x="725.2" y="559.97" font-size="5.94" text-anchor="middle" font-weight="bold">43 Kuwait</text>
<text x="725.2" y="566.67" font-size="5.94" text-anchor="middle" font-weight="bold">84.9</text>
<text x="647.2" y="578.17" font-size="5.94" text-anchor="middle" font-weight="bold">48 Israel</text>
<text x="647.2" y="584.67" font-size="5.94" text-anchor="middle" font-weight="bold">70.5</text>
<text x="739.5" y="582.83" font-size="5.22" text-anchor="middle" font-weight="bold">75</text>
<text x="739.5" y="588.17" font-size="5.22" text-anchor="middle" font-weight="bold">Bahrain</text>
<text x="739.5" y="593.52" font-size="5.22" text-anchor="middle" font-weight="bold">31.1</text>
<text x="750.1" y="612.86" font-size="5.18" text-anchor="middle" font-weight="bold">51 Qatar</text>
<text x="750.1" y="618.66" font-size="5.18" text-anchor="middle" font-weight="bold">66.5</text>
<text x="681.2" y="653.99" font-size="4.99" text-anchor="middle" font-weight="bold">79</text>
<text x="681.2" y="659.1" font-size="4.99" text-anchor="middle" font-weight="bold">Yemen</text>
<text x="681.2" y="664.2" font-size="4.99" text-anchor="middle" font-weight="bold">22.9</text>
<text x="703" y="661.83" font-size="5.08" text-anchor="middle" font-weight="bold">63 Oman</text>
<text x="703" y="667.63" font-size="5.08" text-anchor="middle" font-weight="bold">49.0</text>
<text x="191.2" y="451.23" font-size="5.22" text-anchor="middle" font-weight="bold">76</text>
<text x="191.2" y="456.57" font-size="5.22" text-anchor="middle" font-weight="bold">Cuba</text>
<text x="191.2" y="461.92" font-size="5.22" text-anchor="middle" font-weight="bold">30.4</text>
<text x="236.1" y="462.76" font-size="4.87" text-anchor="middle" font-weight="bold">74</text>
<text x="236.1" y="467.36" font-size="4.87" text-anchor="middle" font-weight="bold">Puerto</text>
<text x="236.1" y="471.96" font-size="4.87" text-anchor="middle" font-weight="bold">Rico</text>
<text x="236.1" y="476.56" font-size="4.87" text-anchor="middle" font-weight="bold">33.3</text>
<text x="263.4" y="514.97" font-size="5.22" text-anchor="middle" font-weight="bold">64</text>
<text x="263.4" y="520.17" font-size="5.22" text-anchor="middle" font-weight="bold">Trinidad</text>
<text x="263.4" y="525.37" font-size="5.22" text-anchor="middle" font-weight="bold">&amp; Tobago</text>
<text x="263.4" y="530.57" font-size="5.22" text-anchor="middle" font-weight="bold">47.8</text>
<text x="208.5" y="568.91" font-size="6.5" text-anchor="middle" font-weight="bold">49</text>
<text x="208.5" y="575.51" font-size="6.5" text-anchor="middle" font-weight="bold">Colombia</text>
<text x="208.5" y="582.11" font-size="6.5" text-anchor="middle" font-weight="bold">70.1</text>
<text x="192.4" y="589.73" font-size="5.22" text-anchor="middle" font-weight="bold">77</text>
<text x="192.4" y="595.07" font-size="5.22" text-anchor="middle" font-weight="bold">Ecuador</text>
<text x="192.4" y="600.42" font-size="5.22" text-anchor="middle" font-weight="bold">28.7</text>
<text x="205.7" y="606.35" font-size="5.34" text-anchor="middle" font-weight="bold">70</text>
<text x="205.7" y="611.81" font-size="5.34" text-anchor="middle" font-weight="bold">Peru</text>
<text x="205.7" y="617.28" font-size="5.34" text-anchor="middle" font-weight="bold">38.2</text>
<text x="476" y="298.77" font-size="4.62" text-anchor="middle" font-weight="bold">101</text>
<text x="387.7" y="393.54" font-size="3.36" text-anchor="middle" font-weight="bold">110</text>
<text x="578.7" y="365.94" font-size="5.4" text-anchor="middle" font-weight="bold">86</text>
<text x="589.3" y="378.14" font-size="5.4" text-anchor="middle" font-weight="bold">81</text>
<text x="594" y="393.64" font-size="5.4" text-anchor="middle" font-weight="bold">84</text>
<text x="623.5" y="395.79" font-size="3.78" text-anchor="middle" font-weight="bold">109</text>
<text x="615" y="406.39" font-size="3.78" text-anchor="middle" font-weight="bold">114</text>
<text x="661" y="428.53" font-size="4.2" text-anchor="middle" font-weight="bold">102</text>
<text x="632.5" y="166.14" font-size="5.4" text-anchor="middle" font-weight="bold">85</text>
<text x="635" y="178.97" font-size="4.62" text-anchor="middle" font-weight="bold">103</text>
<text x="635" y="191.84" font-size="5.4" text-anchor="middle" font-weight="bold">87</text>
<text x="824.6" y="115.03" font-size="3.61" text-anchor="middle" font-weight="bold">120</text>
<text x="834.4" y="114.17" font-size="4.03" text-anchor="middle" font-weight="bold">130</text>
<text x="737.8" y="245.99" font-size="3.19" text-anchor="middle" font-weight="bold">121</text>
<text x="738.3" y="257.51" font-size="5.04" text-anchor="middle" font-weight="bold">99</text>
<text x="674" y="301.64" font-size="3.36" text-anchor="middle" font-weight="bold">135</text>
<text x="901.2" y="153.09" font-size="3.78" text-anchor="middle" font-weight="bold">108</text>
<text x="926" y="477.5" font-size="2.94" text-anchor="middle" font-weight="bold">105</text>
<text x="965.6" y="483.71" font-size="5.04" text-anchor="middle" font-weight="bold">93</text>
<text x="1020.5" y="504.5" font-size="2.94" text-anchor="middle" font-weight="bold">111</text>
<text x="1057.3" y="522.59" font-size="3.78" text-anchor="middle" font-weight="bold">106</text>
<text x="896.9" y="611.94" font-size="5.4" text-anchor="middle" font-weight="bold">92</text>
<text x="1119.6" y="558.44" font-size="3.36" text-anchor="middle" font-weight="bold">121</text>
<text x="637.7" y="558.84" font-size="5.4" text-anchor="middle" font-weight="bold">89</text>
<text x="669" y="568.94" font-size="5.4" text-anchor="middle" font-weight="bold">82</text>
<text x="207.6" y="443.14" font-size="3.36" text-anchor="middle" font-weight="bold">133</text>
<text x="214.6" y="469.84" font-size="5.4" text-anchor="middle" font-weight="bold">83</text>
<text x="254.3" y="473.64" font-size="5.4" text-anchor="middle" font-weight="bold">94</text>
<text x="194.4" y="476.64" font-size="5.4" text-anchor="middle" font-weight="bold">95</text>
<text x="175" y="505.01" font-size="5.04" text-anchor="middle" font-weight="bold">98</text>
<text x="191.2" y="505.67" font-size="4.62" text-anchor="middle" font-weight="bold">96</text>
<text x="183" y="511.54" font-size="3.36" text-anchor="middle" font-weight="bold">119</text>
<text x="192" y="514.54" font-size="3.36" text-anchor="middle" font-weight="bold">120</text>
<text x="197.7" y="520.49" font-size="3.78" text-anchor="middle" font-weight="bold">113</text>
<text x="207.8" y="528.44" font-size="5.4" text-anchor="middle" font-weight="bold">88</text>
<text x="227.3" y="515.8" font-size="5.29" text-anchor="middle" font-weight="bold">98</text>
<text x="216.7" y="627.64" font-size="5.4" text-anchor="middle" font-weight="bold">90</text>
<text x="224.7" y="632.75" font-size="2.8" text-anchor="middle" font-weight="bold">132</text>
<text x="273.9" y="641.59" font-size="3.78" text-anchor="middle" font-weight="bold">110</text>
<text x="418.5" y="508.59" font-size="3.78" text-anchor="middle" font-weight="bold">137</text>
<text x="420" y="521.29" font-size="3.78" text-anchor="middle" font-weight="bold">115</text>
<text x="428.1" y="527.73" font-size="4.2" text-anchor="middle" font-weight="bold">104</text>
<text x="441.9" y="532.9" font-size="2.94" text-anchor="middle" font-weight="bold">118</text>
<text x="453.5" y="535.46" font-size="3.11" text-anchor="middle" font-weight="bold">125</text>
<text x="461.6" y="536.44" font-size="3.36" text-anchor="middle" font-weight="bold">126</text>
<text x="469.8" y="539.39" font-size="3.78" text-anchor="middle" font-weight="bold">116</text>
<text x="468.1" y="527.73" font-size="4.2" text-anchor="middle" font-weight="bold">107</text>
<text x="479.6" y="524.64" font-size="5.4" text-anchor="middle" font-weight="bold">91</text>
<text x="493.1" y="521.64" font-size="3.95" text-anchor="middle" font-weight="bold">112</text>
<text x="489.8" y="533.01" font-size="5.04" text-anchor="middle" font-weight="bold">97</text>
<text x="495.6" y="541.94" font-size="3.95" text-anchor="middle" font-weight="bold">114</text>
<text x="489.8" y="554.16" font-size="4.87" text-anchor="middle" font-weight="bold">109</text>
<text x="468.1" y="559.8" font-size="2.94" text-anchor="middle" font-weight="bold">131</text>
<text x="475.3" y="559.5" font-size="2.94" text-anchor="middle" font-weight="bold">128</text>
<text x="558" y="596.34" font-size="3.36" text-anchor="middle" font-weight="bold">123</text>
<text x="328.5" y="168.93" font-size="3.9" font-weight="bold" fill="#ed1c24">104</text>
<text x="283.9" y="260.53" font-size="3.9" font-weight="bold" fill="#ed1c24">213</text>
<text x="220.1" y="416.63" font-size="3.9" text-anchor="end" font-weight="bold" fill="#ed1c24">179</text>
<text x="414.3" y="177.53" font-size="3.9" font-weight="bold" fill="#ec008c">116</text>
<text x="427.5" y="191.83" font-size="3.9" font-weight="bold" fill="#ec008c">175</text>
<text x="574.7" y="417.33" font-size="3.9" font-weight="bold" fill="#ec008c">139</text>
<text x="606" y="403.33" font-size="3.9" text-anchor="middle" font-weight="bold" fill="#ec008c">134</text>
<text x="828.3" y="419.03" font-size="3.9" text-anchor="end" font-weight="bold" fill="#00aeef">174</text>
<text x="939.3" y="479.13" font-size="3.9" text-anchor="end" font-weight="bold" fill="#00aeef">183</text>
<text x="998.7" y="479.13" font-size="3.9" text-anchor="end" font-weight="bold" fill="#00aeef">166</text>
<text x="1050.6" y="455.83" font-size="3.9" text-anchor="middle" font-weight="bold" fill="#00aeef">147</text>
<text x="820" y="608.93" font-size="3.9" font-weight="bold" fill="#00aeef">172</text>
<text x="1182.9" y="492.13" font-size="3.9" text-anchor="end" font-weight="bold" fill="#00aeef">167</text>
<text x="1193" y="489" font-size="3.9" text-anchor="middle" font-weight="bold" fill="#00aeef">208</text>
<text x="1115.8" y="524.83" font-size="3.9" text-anchor="end" font-weight="bold" fill="#00aeef">156</text>
<text x="1189.3" y="534.83" font-size="3.9" text-anchor="end" font-weight="bold" fill="#00aeef">215</text>
<text x="1142.1" y="551.33" font-size="3.9" text-anchor="end" font-weight="bold" fill="#00aeef">203</text>
<text x="1133.6" y="568.43" font-size="3.9" text-anchor="end" font-weight="bold" fill="#00aeef">197</text>
<text x="1141.7" y="576.33" font-size="3.9" text-anchor="end" font-weight="bold" fill="#00aeef">207</text>
<text x="1153.8" y="578.13" font-size="3.9" text-anchor="end" font-weight="bold" fill="#00aeef">161</text>
<text x="1172.5" y="571.63" font-size="3.9" text-anchor="end" font-weight="bold" fill="#00aeef">209</text>
<text x="1180.3" y="576.33" font-size="3.9" text-anchor="end" font-weight="bold" fill="#00aeef">182</text>
<text x="1170.3" y="581.33" font-size="3.9" font-weight="bold" fill="#00aeef">202</text>
<text x="1190.3" y="571.4" font-size="3.9" text-anchor="middle" font-weight="bold" fill="#00aeef">204</text>
<text x="1135.6" y="588.23" font-size="3.9" text-anchor="end" font-weight="bold" fill="#00aeef">146</text>
<text x="1120.6" y="601.43" font-size="3.9" font-weight="bold" fill="#00aeef">181</text>
<text x="1179.2" y="600.33" font-size="3.9" text-anchor="end" font-weight="bold" fill="#00aeef">179</text>
<text x="1195.3" y="596.73" font-size="3.9" text-anchor="end" font-weight="bold" fill="#00aeef">217</text>
<text x="629.6" y="592.23" font-size="3.9" text-anchor="end" font-weight="bold" fill="#fdb813">177</text>
<text x="214" y="456.3" font-size="3.9" text-anchor="middle" font-weight="bold" fill="#f58220">211</text>
<text x="203.3" y="464.4" font-size="3.9" text-anchor="middle" font-weight="bold" fill="#f58220">210</text>
<text x="254.3" y="461.9" font-size="3.9" text-anchor="middle" font-weight="bold" fill="#f58220">205</text>
<text x="247.2" y="480.63" font-size="3.9" text-anchor="end" font-weight="bold" fill="#f58220">194</text>
<text x="250.3" y="484.93" font-size="3.9" text-anchor="end" font-weight="bold" fill="#f58220">180</text>
<text x="254.8" y="488.53" font-size="3.9" font-weight="bold" fill="#f58220">219</text>
<text x="250.5" y="492.03" font-size="3.9" text-anchor="end" font-weight="bold" fill="#f58220">216</text>
<text x="201.5" y="492.83" font-size="3.9" font-weight="bold" fill="#f58220">127</text>
<text x="260.1" y="496.33" font-size="3.9" font-weight="bold" fill="#f58220">146</text>
<text x="251.7" y="500.83" font-size="3.9" text-anchor="end" font-weight="bold" fill="#f58220">188</text>
<text x="261.8" y="505.33" font-size="3.9" font-weight="bold" fill="#f58220">160</text>
<text x="252.3" y="506.73" font-size="3.9" text-anchor="end" font-weight="bold" fill="#f58220">200</text>
<text x="250.9" y="510.43" font-size="3.9" text-anchor="end" font-weight="bold" fill="#f58220">195</text>
<text x="167.1" y="535.73" font-size="3.9" text-anchor="end" font-weight="bold" fill="#f58220">149</text>
<text x="218.2" y="520.33" font-size="3.9" text-anchor="end" font-weight="bold" fill="#f58220">165</text>
<text x="264.4" y="558.6" font-size="3.9" text-anchor="middle" font-weight="bold" fill="#f58220">157</text>
<text x="274.3" y="565.03" font-size="3.9" font-weight="bold" fill="#f58220">151</text>
<text x="278.6" y="568.33" font-size="3.9" font-weight="bold" fill="#f58220">162</text>
<text x="288.7" y="657.93" font-size="3.9" font-weight="bold" fill="#f58220">214</text>
<text x="284.9" y="685.33" font-size="3.9" font-weight="bold" fill="#f58220">192</text>
<text x="183.6" y="498.9" font-size="3.9" text-anchor="middle" font-weight="bold" fill="#f58220">171</text>
<text x="397.3" y="510.73" font-size="3.9" text-anchor="end" font-weight="bold" fill="#8b7355">190</text>
<text x="426.9" y="510.13" font-size="3.9" font-weight="bold" fill="#8b7355">177</text>
<text x="405.5" y="502.83" font-size="3.9" text-anchor="end" font-weight="bold" fill="#8b7355">102</text>
<text x="439.1" y="548.23" font-size="3.9" text-anchor="end" font-weight="bold" fill="#8b7355">206</text>
<text x="430.8" y="565.73" font-size="3.9" text-anchor="end" font-weight="bold" fill="#8b7355">216</text>
<text x="524" y="580.73" font-size="3.9" text-anchor="end" font-weight="bold" fill="#8b7355">201</text>
<text x="495.6" y="566.33" font-size="3.9" font-weight="bold" fill="#8b7355">163</text>
<text x="502.7" y="524.43" font-size="3.9" font-weight="bold" fill="#8b7355">155</text>
<text x="542.4" y="572.23" font-size="3.9" font-weight="bold" fill="#8b7355">159</text>
<text x="532.7" y="597.43" font-size="3.9" font-weight="bold" fill="#8b7355">138</text>
<text x="546.9" y="602.23" font-size="3.9" text-anchor="end" font-weight="bold" fill="#8b7355">140</text>
<text x="514.8" y="611.83" font-size="3.9" font-weight="bold" fill="#8b7355">199</text>
<text x="475.3" y="508.7" font-size="3.9" text-anchor="middle" font-weight="bold" fill="#8b7355">189</text>
<text x="489.9" y="561.93" font-size="3.9" font-weight="bold" fill="#8b7355">148</text>
<text x="410.9" y="514.33" font-size="3.9" text-anchor="end" font-weight="bold" fill="#8b7355">184</text>
<text x="410.4" y="517.83" font-size="3.9" text-anchor="end" font-weight="bold" fill="#8b7355">181</text>
<text x="409.9" y="520.83" font-size="3.9" text-anchor="end" font-weight="bold" fill="#8b7355">186</text>
<text x="409.9" y="523.83" font-size="3.9" text-anchor="end" font-weight="bold" fill="#8b7355">164</text>
<text x="503" y="529.83" font-size="3.9" font-weight="bold" fill="#8b7355">173</text>
<text x="486.9" y="514.1" font-size="3.9" text-anchor="middle" font-weight="bold" fill="#8b7355">176</text>
<text x="434" y="536.73" font-size="3.9" text-anchor="middle" font-weight="bold" fill="#8b7355">141</text>
<text x="412.9" y="501.33" font-size="3.9" text-anchor="end" font-weight="bold" fill="#8b7355">142</text>
<text x="2" y="454.1" font-size="16" font-weight="bold" fill="#ed1c24" textLength="41.4" lengthAdjust="spacingAndGlyphs">North</text>
<text x="2" y="470.5" font-size="16" font-weight="bold" fill="#ed1c24" textLength="59.8" lengthAdjust="spacingAndGlyphs">America</text>
<text x="2" y="487.2" font-size="16" fill="#ed1c24" textLength="46" lengthAdjust="spacingAndGlyphs">6,411m</text>
<g class="s">
<text transform="translate(51 482.8) scale(0.78 1)" font-size="4.4" font-weight="bold" fill="#ed1c24">tonnes of CO2</text>
<text transform="translate(51 487.6) scale(0.78 1)" font-size="4.4" font-weight="bold" fill="#ed1c24">in 2009</text>
</g>
<text x="2" y="504.1" font-size="15.8" fill="#9e978f" textLength="74.5" lengthAdjust="spacingAndGlyphs">Down 6.9%</text>
<g class="s">
<text transform="translate(79.5 499.5) scale(0.8 1)" font-size="4.3" fill="#bdb7b0">on</text>
<text transform="translate(79.5 504.4) scale(0.8 1)" font-size="4.3" fill="#bdb7b0">2008</text>
</g>
<text x="464.3" y="127.7" font-size="16" font-weight="bold" fill="#ec008c" textLength="52" lengthAdjust="spacingAndGlyphs">Europe</text>
<text x="464.3" y="144" font-size="16" fill="#ec008c" textLength="48.5" lengthAdjust="spacingAndGlyphs">4,310m</text>
<g class="s">
<text transform="translate(515.8 139.6) scale(0.78 1)" font-size="4.4" font-weight="bold" fill="#ec008c">tonnes of CO2</text>
<text transform="translate(515.8 144.4) scale(0.78 1)" font-size="4.4" font-weight="bold" fill="#ec008c">in 2009</text>
</g>
<text x="464.3" y="160.5" font-size="15.8" fill="#9e978f" textLength="75" lengthAdjust="spacingAndGlyphs">Down 6.9%</text>
<g class="s">
<text transform="translate(542.3 155.9) scale(0.8 1)" font-size="4.3" fill="#bdb7b0">on</text>
<text transform="translate(542.3 160.8) scale(0.8 1)" font-size="4.3" fill="#bdb7b0">2008</text>
</g>
<text x="849.7" y="85.8" font-size="16" font-weight="bold" fill="#10b28b" textLength="53.3" lengthAdjust="spacingAndGlyphs">Eurasia</text>
<text x="849.7" y="102.4" font-size="16" fill="#10b28b" textLength="47.9" lengthAdjust="spacingAndGlyphs">2,358m</text>
<g class="s">
<text transform="translate(900.6 98) scale(0.78 1)" font-size="4.4" font-weight="bold" fill="#10b28b">tonnes of CO2</text>
<text transform="translate(900.6 102.8) scale(0.78 1)" font-size="4.4" font-weight="bold" fill="#10b28b">in 2009</text>
</g>
<text x="849.7" y="119.1" font-size="15.8" fill="#9e978f" textLength="73.6" lengthAdjust="spacingAndGlyphs">Down 9.2%</text>
<g class="s">
<text transform="translate(926.3 114.5) scale(0.8 1)" font-size="4.3" fill="#bdb7b0">on</text>
<text transform="translate(926.3 119.4) scale(0.8 1)" font-size="4.3" fill="#bdb7b0">2008</text>
</g>
<text x="53.8" y="538.7" font-size="16" font-weight="bold" fill="#f58220" textLength="66.9" lengthAdjust="spacingAndGlyphs">Central &amp;</text>
<text x="53.8" y="555.6" font-size="16" font-weight="bold" fill="#f58220" textLength="105.8" lengthAdjust="spacingAndGlyphs">South America</text>
<text x="53.8" y="572.3" font-size="16" fill="#f58220" textLength="45.2" lengthAdjust="spacingAndGlyphs">1,273m</text>
<g class="s">
<text transform="translate(102 567.9) scale(0.78 1)" font-size="4.4" font-weight="bold" fill="#f58220">tonnes of CO2</text>
<text transform="translate(102 572.7) scale(0.78 1)" font-size="4.4" font-weight="bold" fill="#f58220">in 2009</text>
</g>
<text x="53.8" y="588.7" font-size="15.8" fill="#9e978f" textLength="53.5" lengthAdjust="spacingAndGlyphs">Up 3.6%</text>
<g class="s">
<text transform="translate(110.3 584.1) scale(0.8 1)" font-size="4.3" fill="#bdb7b0">on</text>
<text transform="translate(110.3 589) scale(0.8 1)" font-size="4.3" fill="#bdb7b0">2008</text>
</g>
<text x="325.2" y="533.4" font-size="16" font-weight="bold" fill="#8b7355" textLength="42.4" lengthAdjust="spacingAndGlyphs">Africa</text>
<text x="325.2" y="550.4" font-size="16" fill="#8b7355" textLength="44.2" lengthAdjust="spacingAndGlyphs">1,122m</text>
<g class="s">
<text transform="translate(372.4 546) scale(0.78 1)" font-size="4.4" font-weight="bold" fill="#8b7355">tonnes of CO2</text>
<text transform="translate(372.4 550.8) scale(0.78 1)" font-size="4.4" font-weight="bold" fill="#8b7355">in 2009</text>
</g>
<text x="325.2" y="566.8" font-size="15.8" fill="#9e978f" textLength="70.7" lengthAdjust="spacingAndGlyphs">Down 3.1%</text>
<g class="s">
<text transform="translate(398.9 562.2) scale(0.8 1)" font-size="4.3" fill="#bdb7b0">on</text>
<text transform="translate(398.9 567.1) scale(0.8 1)" font-size="4.3" fill="#bdb7b0">2008</text>
</g>
<text x="603.5" y="468" font-size="16" font-weight="bold" fill="#fdb813" textLength="84.7" lengthAdjust="spacingAndGlyphs">Middle East</text>
<text x="603.5" y="484.9" font-size="16" fill="#fdb813" textLength="44" lengthAdjust="spacingAndGlyphs">1,714m</text>
<g class="s">
<text transform="translate(650.5 480.5) scale(0.78 1)" font-size="4.4" font-weight="bold" fill="#fdb813">tonnes of CO2</text>
<text transform="translate(650.5 485.3) scale(0.78 1)" font-size="4.4" font-weight="bold" fill="#fdb813">in 2009</text>
</g>
<text x="603.5" y="501.7" font-size="15.8" fill="#9e978f" textLength="51.6" lengthAdjust="spacingAndGlyphs">Up 3.3%</text>
<g class="s">
<text transform="translate(658.1 497.1) scale(0.8 1)" font-size="4.3" fill="#bdb7b0">on</text>
<text transform="translate(658.1 502) scale(0.8 1)" font-size="4.3" fill="#bdb7b0">2008</text>
</g>
<text x="919.6" y="618.7" font-size="16" font-weight="bold" fill="#00aeef" textLength="99.7" lengthAdjust="spacingAndGlyphs">Asia &amp; Oceania</text>
<text x="919.6" y="635.4" font-size="16" fill="#00aeef" textLength="55.6" lengthAdjust="spacingAndGlyphs">13,264m</text>
<g class="s">
<text transform="translate(978.2 631) scale(0.78 1)" font-size="4.4" font-weight="bold" fill="#00aeef">tonnes of CO2</text>
<text transform="translate(978.2 635.8) scale(0.78 1)" font-size="4.4" font-weight="bold" fill="#00aeef">in 2009</text>
</g>
<text x="919.6" y="652" font-size="15.8" fill="#9e978f" textLength="52.2" lengthAdjust="spacingAndGlyphs">Up 7.5%</text>
<g class="s">
<text transform="translate(974.8 647.4) scale(0.8 1)" font-size="4.3" fill="#bdb7b0">on</text>
<text transform="translate(974.8 652.3) scale(0.8 1)" font-size="4.3" fill="#bdb7b0">2008</text>
</g>
<text x="368.3" y="681.3" font-size="16" font-weight="bold" fill="#111" textLength="44.2" lengthAdjust="spacingAndGlyphs">World</text>
<text x="368.3" y="698.3" font-size="16" fill="#111" textLength="58.7" lengthAdjust="spacingAndGlyphs">30,452m</text>
<g class="s">
<text x="430" y="693.4" font-size="3.9" fill="#111">tonnes</text>
<text x="430" y="698.2" font-size="3.9" fill="#111">of CO2 in 2009</text>
<text x="445.8" y="710" font-size="3.6" fill="#c4bfb8">on</text>
<text x="445.8" y="715" font-size="3.6" fill="#c4bfb8">2008</text>
</g>
<text x="368.3" y="715" font-size="15.8" fill="#b3aca4" textLength="72.5" lengthAdjust="spacingAndGlyphs">Down 0.1%</text>
<polygon points="4.24,626.41 7.58,623.69 11.11,621.16 15.15,618.94 20.2,617.93 26.26,618.64 31.31,618.13 34.34,615.91 40.4,614.29 47.47,613.28 54.55,612.58 62.63,612.27 70.71,612.27 74.24,613.08 71.72,615.1 69.7,617.63 65.66,619.14 62.63,621.16 59.6,623.18 57.58,622.68 56.57,619.14 57.07,616.11 54.55,615.1 52.53,616.62 53.03,620.15 51.01,621.67 52.53,625.2 52.02,629.24 50.51,631.46 47.47,632.78 44.44,635.3 40.4,637.83 37.37,639.85 35.56,641.87 34.85,643.89 33.33,642.58 30.3,641.36 27.78,642.88 26.46,645.4 27.78,647.93 26.46,649.44 23.74,647.93 21.21,644.9 18.69,640.86 16.67,637.32 16.36,634.29 17.68,631.46 18.69,627.73 18.18,624.7 15.15,623.69 11.11,624.7 7.58,625.71" fill="#ed1c24" stroke="#ed1c24" stroke-width="0.25" stroke-linejoin="round"/>
<polygon points="38.18,624.19 40.4,622.37 42.93,621.97 44.44,623.69 42.93,626.21 40.4,627.22 38.89,626.21" fill="#fff" stroke="#fff" stroke-width="0.25" stroke-linejoin="round"/>
<polygon points="45.96,619.14 47.98,617.63 49.49,618.64 48.48,620.66 46.67,620.96" fill="#fff" stroke="#fff" stroke-width="0.25" stroke-linejoin="round"/>
<polygon points="27.47,648.94 28.79,647.93 30.3,647.42 31.82,648.94 33.33,650.45 34.85,652.47 35.35,653.99 33.84,653.48 32.83,651.46 30.81,649.95 29.29,648.64" fill="#f58220" stroke="#f58220" stroke-width="0.25" stroke-linejoin="round"/>
<polygon points="33.84,645.61 36.36,645.2 38.89,646.21 41.92,647.22 41.62,648.23 38.38,647.42 35.86,646.62 33.84,646.41" fill="#f58220" stroke="#f58220" stroke-width="0.25" stroke-linejoin="round"/>
<polygon points="34.85,653.69 37.88,652.27 41.41,651.97 44.44,653.48 47.47,654.49 50,657.53 54.04,660.05 57.78,662.37 57.58,665.61 55.35,668.64 55.05,672.17 52.53,674.7 50.51,677.73 48.48,680.76 46.67,684.8 45.66,687.83 46.67,690.35 48.28,691.67 45.96,691.36 43.64,688.84 41.92,685.3 40.91,680.76 40.4,675.71 38.89,671.67 36.36,667.63 34.34,664.09 33.33,660.56 33.84,657.02" fill="#f58220" stroke="#f58220" stroke-width="0.25" stroke-linejoin="round"/>
<polygon points="86.06,625.71 87.27,623.69 89.29,620.15 90.3,618.64 97.37,616.11 99.9,615.1 103.43,615.91 107.47,613.59 112.53,614.6 116.57,615.61 124.65,615.1 130.71,616.92 138.79,617.63 144.85,617.32 148.89,619.14 152.93,620.35 149.9,622.17 146.87,623.18 147.88,626.72 146.87,630.25 144.85,631.77 142.83,629.24 140.81,626.72 137.78,626.21 138.79,628.74 140.81,631.46 139.8,633.28 136.77,630.76 133.74,628.03 130.71,628.74 126.67,629.24 122.63,628.74 118.59,629.75 115.56,631.77 113.54,634.29 110.51,636.31 107.47,637.53 104.95,636.31 102.42,635.3 100.4,632.27 98.89,633.28 99.9,635.81 97.88,635.3 94.85,634.29 91.31,632.78 88.79,630.76 86.77,628.23" fill="#10b28b" stroke="#10b28b" stroke-width="0.25" stroke-linejoin="round"/>
<polygon points="72.12,627.73 74.14,624.7 76.16,625.71 77.68,628.23 79.19,626.72 80.2,623.69 81.72,621.16 84.24,619.14 86.77,618.13 89.29,618.64 89.29,620.15 87.27,623.69 86.06,625.71 86.77,628.23 88.79,630.76 91.31,632.78 94.85,634.29 97.88,635.3 97.37,636.82 93.84,637.12 90.3,636.31 88.28,635.3 86.46,634.29 85.76,635.81 84.24,636.82 82.73,634.8 80.2,633.79 78.18,635.3 76.67,636.82 72.63,636.82 72.12,633.79 74.65,632.78 75.15,630.76 73.13,629.75" fill="#ec008c" stroke="#ec008c" stroke-width="0.25" stroke-linejoin="round"/>
<polygon points="81.72,613.89 86.46,613.48 86.46,614.9 84.24,615.51 82.02,614.9" fill="#ec008c" stroke="#ec008c" stroke-width="0.25" stroke-linejoin="round"/>
<polygon points="68.08,620.15 71.92,619.95 71.92,621.16 68.59,621.46" fill="#ec008c" stroke="#ec008c" stroke-width="0.25" stroke-linejoin="round"/>
<polygon points="67.27,648.43 68.59,643.89 71.11,640.86 75.15,638.84 80.2,637.32 82.73,638.84 85.76,639.85 90.3,639.55 93.84,639.85 94.85,643.38 96.87,646.92 98.89,650.45 100.4,652.27 103.23,652.47 101.92,656.01 99.39,659.55 97.37,663.59 97.17,667.63 95.35,671.67 92.83,675.71 90.3,678.74 86.77,679.75 85.25,677.22 83.74,672.68 82.22,668.13 82.73,663.59 81.21,659.55 79.19,656.01 76.16,655 72.12,655.51 69.09,653.48 67.27,650.96" fill="#8b7355" stroke="#8b7355" stroke-width="0.25" stroke-linejoin="round"/>
<polygon points="99.9,668.13 102.22,666.11 102.42,669.14 100.91,673.18 98.89,673.69" fill="#8b7355" stroke="#8b7355" stroke-width="0.25" stroke-linejoin="round"/>
<polygon points="106.97,639.85 107.47,637.53 110.51,636.31 113.54,634.29 115.56,631.77 118.59,629.75 122.63,628.74 126.67,629.24 130.71,628.74 133.74,628.03 136.77,630.76 139.8,633.28 139.29,635.81 137.78,638.33 138.28,641.87 136.77,644.9 134.75,646.92 133.23,649.44 132.73,652.47 130.71,651.97 128.69,649.44 127.17,650.96 125.66,648.43 123.64,646.41 122.12,648.43 120.61,650.96 119.09,654.49 117.58,655.3 116.57,652.47 115.05,649.44 113.03,646.92 110.51,644.9 108.28,643.89" fill="#00aeef" stroke="#00aeef" stroke-width="0.25" stroke-linejoin="round"/>
<polygon points="142.83,634.29 145.35,632.27 146.36,635.3 144.34,638.33 141.82,639.85" fill="#00aeef" stroke="#00aeef" stroke-width="0.25" stroke-linejoin="round"/>
<polygon points="124.65,649.44 126.67,652.47 129.7,657.53 132.73,661.06 131.92,662.07 128.69,659.04 125.66,654.49 124.14,651.46" fill="#00aeef" stroke="#00aeef" stroke-width="0.25" stroke-linejoin="round"/>
<polygon points="134.75,657.53 138.28,656.01 139.8,659.04 137.27,661.06 134.75,660.05" fill="#00aeef" stroke="#00aeef" stroke-width="0.25" stroke-linejoin="round"/>
<polygon points="138.28,647.42 140.3,647.93 142.32,652.47 140.81,655.51 139.29,652.47" fill="#00aeef" stroke="#00aeef" stroke-width="0.25" stroke-linejoin="round"/>
<polygon points="130.71,662.58 139.8,664.09 139.8,665.1 130.71,663.79" fill="#00aeef" stroke="#00aeef" stroke-width="0.25" stroke-linejoin="round"/>
<polygon points="140.81,658.54 143.84,659.55 143.33,662.58 141.31,661.57" fill="#00aeef" stroke="#00aeef" stroke-width="0.25" stroke-linejoin="round"/>
<polygon points="145.35,660.35 150.91,662.07 154.95,664.6 153.94,665.61 149.39,664.6 145.66,662.07" fill="#00aeef" stroke="#00aeef" stroke-width="0.25" stroke-linejoin="round"/>
<polygon points="156.97,663.08 161.01,665.61 163.54,669.65 162.53,670.66 159.49,667.12 156.46,664.09" fill="#00aeef" stroke="#00aeef" stroke-width="0.25" stroke-linejoin="round"/>
<polygon points="134.24,674.7 135.76,671.67 139.8,669.65 143.84,667.63 146.87,666.11 149.39,666.62 150.91,665.61 152.42,668.64 154.95,673.69 153.94,677.73 151.41,680.76 148.89,682.78 146.67,684.8 145.86,682.27 142.83,680.25 138.79,679.24 134.75,679.75" fill="#00aeef" stroke="#00aeef" stroke-width="0.25" stroke-linejoin="round"/>
<polygon points="154.95,686.31 159.49,683.28 163.03,680.25 164.04,681.26 161.01,684.8 155.96,687.02" fill="#00aeef" stroke="#00aeef" stroke-width="0.25" stroke-linejoin="round"/>
<polygon points="93.84,637.83 97.88,636.52 102.42,636.82 105.96,637.12 106.97,639.85 107.68,643.38 106.97,645.91 104.95,648.43 102.42,649.95 99.9,651.46 98.38,649.44 96.87,646.41 94.85,642.88 94.14,640.35" fill="#fdb813" stroke="#fdb813" stroke-width="0.25" stroke-linejoin="round"/>
<text x="0.5" y="706.4" font-size="9" font-weight="bold" fill="#111" textLength="51.5" lengthAdjust="spacingAndGlyphs">Detailed data</text>
<text x="0.5" y="716.2" font-size="8.9" fill="#111" textLength="159.3" lengthAdjust="spacingAndGlyphs">Full list of each country's CO2 emissions and</text>
<text x="0.5" y="725.6" font-size="8.9" fill="#111" textLength="167.7" lengthAdjust="spacingAndGlyphs">movement in the world emissions league table</text>
<g class="s">
<rect x="0" y="732.8" width="107.8" height="0.5" fill="#c9c2ba"/>
<text transform="translate(0.2 738.8) scale(0.88 1)" font-size="4.4" font-weight="bold" fill="#111">Rank/</text>
<text transform="translate(0.2 743.65) scale(0.88 1)" font-size="4.4" font-weight="bold" fill="#111">change</text>
<text transform="translate(0.2 748.5) scale(0.88 1)" font-size="4.4" font-weight="bold" fill="#111">on 2008</text>
<text transform="translate(18.8 738.8) scale(0.88 1)" font-size="4.4" font-weight="bold" fill="#111">Country</text>
<text transform="translate(76.8 738.8) scale(0.88 1)" font-size="4.4" font-weight="bold" fill="#111">Million</text>
<text transform="translate(76.8 743.65) scale(0.88 1)" font-size="4.4" font-weight="bold" fill="#111">tonnes</text>
<text transform="translate(76.8 748.5) scale(0.88 1)" font-size="4.4" font-weight="bold" fill="#111">2009</text>
<text transform="translate(93 738.8) scale(0.88 1)" font-size="4.4" font-weight="bold" fill="#111">Percent</text>
<text transform="translate(93 743.65) scale(0.88 1)" font-size="4.4" font-weight="bold" fill="#111">change</text>
<text transform="translate(93 748.5) scale(0.88 1)" font-size="4.4" font-weight="bold" fill="#111">08–09</text>
<rect x="0" y="752.4" width="107.8" height="6.04" fill="#00aeef"/>
<rect x="1.3" y="754.9" width="2.6" height="1.4" fill="#fff"/>
<text transform="translate(5.6 757.4) scale(0.74 1)" font-size="6" font-weight="bold">1</text>
<text transform="translate(18.8 757.4) scale(0.74 1)" font-size="6" font-weight="bold">China</text>
<text transform="translate(88.7 757.4) scale(0.74 1)" font-size="6" text-anchor="end" font-weight="bold">7,711</text>
<text transform="translate(107.2 757.4) scale(0.78 1)" font-size="5.6" text-anchor="end" font-weight="bold">13.3</text>
<rect x="0" y="758.72" width="107.8" height="6.04" fill="#ed1c24"/>
<rect x="1.3" y="761.22" width="2.6" height="1.4" fill="#fff"/>
<text transform="translate(5.6 763.72) scale(0.74 1)" font-size="6" font-weight="bold">2</text>
<text transform="translate(18.8 763.72) scale(0.74 1)" font-size="6" font-weight="bold">US</text>
<text transform="translate(88.7 763.72) scale(0.74 1)" font-size="6" text-anchor="end" font-weight="bold">5,425</text>
<text transform="translate(107.2 763.72) scale(0.78 1)" font-size="5.6" text-anchor="end" font-weight="bold">-7.0</text>
<rect x="0" y="765.04" width="107.8" height="6.04" fill="#00aeef"/>
<polygon points="0.9,770.14 4.3,770.14 2.6,766.24" fill="#fff"/>
<text transform="translate(5.6 770.04) scale(0.74 1)" font-size="6" font-weight="bold">3</text>
<text transform="translate(18.8 770.04) scale(0.74 1)" font-size="6" font-weight="bold">India</text>
<text transform="translate(88.7 770.04) scale(0.74 1)" font-size="6" text-anchor="end" font-weight="bold">1,602</text>
<text transform="translate(107.2 770.04) scale(0.78 1)" font-size="5.6" text-anchor="end" font-weight="bold">8.7</text>
<rect x="0" y="771.35" width="107.8" height="6.04" fill="#10b28b"/>
<polygon points="0.9,772.55 4.3,772.55 2.6,776.45" fill="#fff"/>
<text transform="translate(5.6 776.35) scale(0.74 1)" font-size="6" font-weight="bold">4</text>
<text transform="translate(18.8 776.35) scale(0.74 1)" font-size="6" font-weight="bold">Russia</text>
<text transform="translate(88.7 776.35) scale(0.74 1)" font-size="6" text-anchor="end" font-weight="bold">1,572</text>
<text transform="translate(107.2 776.35) scale(0.78 1)" font-size="5.6" text-anchor="end" font-weight="bold">-7.4</text>
<rect x="0" y="777.67" width="107.8" height="6.04" fill="#00aeef"/>
<rect x="1.3" y="780.17" width="2.6" height="1.4" fill="#fff"/>
<text transform="translate(5.6 782.67) scale(0.74 1)" font-size="6" font-weight="bold">5</text>
<text transform="translate(18.8 782.67) scale(0.74 1)" font-size="6" font-weight="bold">Japan</text>
<text transform="translate(88.7 782.67) scale(0.74 1)" font-size="6" text-anchor="end" font-weight="bold">1,098</text>
<text transform="translate(107.2 782.67) scale(0.78 1)" font-size="5.6" text-anchor="end" font-weight="bold">-9.7</text>
<rect x="0" y="783.99" width="107.8" height="6.04" fill="#ec008c"/>
<rect x="1.3" y="786.49" width="2.6" height="1.4" fill="#fff"/>
<text transform="translate(5.6 788.99) scale(0.74 1)" font-size="6" font-weight="bold">6</text>
<text transform="translate(18.8 788.99) scale(0.74 1)" font-size="6" font-weight="bold">Germany</text>
<text transform="translate(88.7 788.99) scale(0.74 1)" font-size="6" text-anchor="end" font-weight="bold">766</text>
<text transform="translate(107.2 788.99) scale(0.78 1)" font-size="5.6" text-anchor="end" font-weight="bold">-7.0</text>
<rect x="0" y="790.31" width="107.8" height="6.04" fill="#ed1c24"/>
<rect x="1.3" y="792.81" width="2.6" height="1.4" fill="#fff"/>
<text transform="translate(5.6 795.31) scale(0.74 1)" font-size="6" font-weight="bold">7</text>
<text transform="translate(18.8 795.31) scale(0.74 1)" font-size="6" font-weight="bold">Canada</text>
<text transform="translate(88.7 795.31) scale(0.74 1)" font-size="6" text-anchor="end" font-weight="bold">541</text>
<text transform="translate(107.2 795.31) scale(0.78 1)" font-size="5.6" text-anchor="end" font-weight="bold">-9.6</text>
<rect x="0" y="796.63" width="107.8" height="6.04" fill="#00aeef"/>
<polygon points="0.9,801.73 4.3,801.73 2.6,797.83" fill="#fff"/>
<text transform="translate(5.6 801.63) scale(0.74 1)" font-size="6" font-weight="bold">8</text>
<text transform="translate(18.8 801.63) scale(0.74 1)" font-size="6" font-weight="bold">South Korea</text>
<text transform="translate(88.7 801.63) scale(0.74 1)" font-size="6" text-anchor="end" font-weight="bold">528</text>
<text transform="translate(107.2 801.63) scale(0.78 1)" font-size="5.6" text-anchor="end" font-weight="bold">1.2</text>
<rect x="0" y="802.94" width="107.8" height="6.04" fill="#fdb813"/>
<polygon points="0.9,808.04 4.3,808.04 2.6,804.14" fill="#fff"/>
<text transform="translate(5.6 807.94) scale(0.74 1)" font-size="6" font-weight="bold">9</text>
<text transform="translate(18.8 807.94) scale(0.74 1)" font-size="6" font-weight="bold">Iran</text>
<text transform="translate(88.7 807.94) scale(0.74 1)" font-size="6" text-anchor="end" font-weight="bold">527</text>
<text transform="translate(107.2 807.94) scale(0.78 1)" font-size="5.6" text-anchor="end" font-weight="bold">3.2</text>
<rect x="0" y="809.26" width="107.8" height="6.04" fill="#ec008c"/>
<polygon points="0.9,810.46 4.3,810.46 2.6,814.36" fill="#fff"/>
<text transform="translate(5.6 814.26) scale(0.74 1)" font-size="6" font-weight="bold">10</text>
<text transform="translate(18.8 814.26) scale(0.74 1)" font-size="6" font-weight="bold">UK</text>
<text transform="translate(88.7 814.26) scale(0.74 1)" font-size="6" text-anchor="end" font-weight="bold">520</text>
<text transform="translate(107.2 814.26) scale(0.78 1)" font-size="5.6" text-anchor="end" font-weight="bold">-7.8</text>
<rect x="0" y="815.58" width="107.8" height="6.04" fill="#fdb813"/>
<polygon points="0.9,820.68 4.3,820.68 2.6,816.78" fill="#fff"/>
<text transform="translate(5.6 820.58) scale(0.74 1)" font-size="6" font-weight="bold">11</text>
<text transform="translate(18.8 820.58) scale(0.74 1)" font-size="6" font-weight="bold">Saudi Arabia</text>
<text transform="translate(88.7 820.58) scale(0.74 1)" font-size="6" text-anchor="end" font-weight="bold">470</text>
<text transform="translate(107.2 820.58) scale(0.78 1)" font-size="5.6" text-anchor="end" font-weight="bold">3.2</text>
<rect x="0" y="821.9" width="107.8" height="6.04" fill="#8b7355"/>
<polygon points="0.9,823.1 4.3,823.1 2.6,827" fill="#fff"/>
<text transform="translate(5.6 826.9) scale(0.74 1)" font-size="6" font-weight="bold">12</text>
<text transform="translate(18.8 826.9) scale(0.74 1)" font-size="6" font-weight="bold">South Africa</text>
<text transform="translate(88.7 826.9) scale(0.74 1)" font-size="6" text-anchor="end" font-weight="bold">450</text>
<text transform="translate(107.2 826.9) scale(0.78 1)" font-size="5.6" text-anchor="end" font-weight="bold">-6.7</text>
<rect x="0" y="828.22" width="107.8" height="6.04" fill="#ed1c24"/>
<rect x="1.3" y="830.72" width="2.6" height="1.4" fill="#fff"/>
<text transform="translate(5.6 833.22) scale(0.74 1)" font-size="6" font-weight="bold">13</text>
<text transform="translate(18.8 833.22) scale(0.74 1)" font-size="6" font-weight="bold">Mexico</text>
<text transform="translate(88.7 833.22) scale(0.74 1)" font-size="6" text-anchor="end" font-weight="bold">444</text>
<text transform="translate(107.2 833.22) scale(0.78 1)" font-size="5.6" text-anchor="end" font-weight="bold">-1.9</text>
<rect x="0" y="834.53" width="107.8" height="6.04" fill="#f58220"/>
<polygon points="0.9,839.63 4.3,839.63 2.6,835.73" fill="#fff"/>
<text transform="translate(5.6 839.53) scale(0.74 1)" font-size="6" font-weight="bold">14</text>
<text transform="translate(18.8 839.53) scale(0.74 1)" font-size="6" font-weight="bold">Brazil</text>
<text transform="translate(88.7 839.53) scale(0.74 1)" font-size="6" text-anchor="end" font-weight="bold">420</text>
<text transform="translate(107.2 839.53) scale(0.78 1)" font-size="5.6" text-anchor="end" font-weight="bold">-0.3</text>
<rect x="0" y="840.85" width="107.8" height="6.04" fill="#00aeef"/>
<polygon points="0.9,845.95 4.3,845.95 2.6,842.05" fill="#fff"/>
<text transform="translate(5.6 845.85) scale(0.74 1)" font-size="6" font-weight="bold">15</text>
<text transform="translate(18.8 845.85) scale(0.74 1)" font-size="6" font-weight="bold">Australia</text>
<text transform="translate(88.7 845.85) scale(0.74 1)" font-size="6" text-anchor="end" font-weight="bold">418</text>
<text transform="translate(107.2 845.85) scale(0.78 1)" font-size="5.6" text-anchor="end" font-weight="bold">-1.8</text>
<rect x="0" y="847.17" width="107.8" height="6.04" fill="#00aeef"/>
<polygon points="0.9,852.27 4.3,852.27 2.6,848.37" fill="#fff"/>
<text transform="translate(5.6 852.17) scale(0.74 1)" font-size="6" font-weight="bold">16</text>
<text transform="translate(18.8 852.17) scale(0.74 1)" font-size="6" font-weight="bold">Indonesia</text>
<text transform="translate(88.7 852.17) scale(0.74 1)" font-size="6" text-anchor="end" font-weight="bold">413</text>
<text transform="translate(107.2 852.17) scale(0.78 1)" font-size="5.6" text-anchor="end" font-weight="bold">2.4</text>
<rect x="0" y="853.49" width="107.8" height="6.04" fill="#ec008c"/>
<polygon points="0.9,854.69 4.3,854.69 2.6,858.59" fill="#fff"/>
<text transform="translate(5.6 858.49) scale(0.74 1)" font-size="6" font-weight="bold">17</text>
<text transform="translate(18.8 858.49) scale(0.74 1)" font-size="6" font-weight="bold">Italy</text>
<text transform="translate(88.7 858.49) scale(0.74 1)" font-size="6" text-anchor="end" font-weight="bold">408</text>
<text transform="translate(107.2 858.49) scale(0.78 1)" font-size="5.6" text-anchor="end" font-weight="bold">-9.3</text>
<rect x="0" y="859.81" width="107.8" height="6.04" fill="#ec008c"/>
<polygon points="0.9,861.01 4.3,861.01 2.6,864.91" fill="#fff"/>
<text transform="translate(5.6 864.81) scale(0.74 1)" font-size="6" font-weight="bold">18</text>
<text transform="translate(18.8 864.81) scale(0.74 1)" font-size="6" font-weight="bold">France</text>
<text transform="translate(88.7 864.81) scale(0.74 1)" font-size="6" text-anchor="end" font-weight="bold">397</text>
<text transform="translate(107.2 864.81) scale(0.78 1)" font-size="5.6" text-anchor="end" font-weight="bold">-7.4</text>
<rect x="0" y="866.12" width="107.8" height="6.04" fill="#ec008c"/>
<rect x="1.3" y="868.62" width="2.6" height="1.4" fill="#fff"/>
<text transform="translate(5.6 871.12) scale(0.74 1)" font-size="6" font-weight="bold">19</text>
<text transform="translate(18.8 871.12) scale(0.74 1)" font-size="6" font-weight="bold">Spain</text>
<text transform="translate(88.7 871.12) scale(0.74 1)" font-size="6" text-anchor="end" font-weight="bold">330</text>
<text transform="translate(107.2 871.12) scale(0.78 1)" font-size="5.6" text-anchor="end" font-weight="bold">-8.4</text>
<rect x="0" y="872.44" width="107.8" height="6.04" fill="#00aeef"/>
<polygon points="0.9,877.54 4.3,877.54 2.6,873.64" fill="#fff"/>
<text transform="translate(5.6 877.44) scale(0.74 1)" font-size="6" font-weight="bold">20</text>
<text transform="translate(18.8 877.44) scale(0.74 1)" font-size="6" font-weight="bold">Taiwan</text>
<text transform="translate(88.7 877.44) scale(0.74 1)" font-size="6" text-anchor="end" font-weight="bold">291</text>
<text transform="translate(107.2 877.44) scale(0.78 1)" font-size="5.6" text-anchor="end" font-weight="bold">-3.7</text>
<rect x="0" y="878.76" width="107.8" height="6.04" fill="#ec008c"/>
<polygon points="0.9,883.86 4.3,883.86 2.6,879.96" fill="#fff"/>
<text transform="translate(5.6 883.76) scale(0.74 1)" font-size="6" font-weight="bold">21</text>
<text transform="translate(18.8 883.76) scale(0.74 1)" font-size="6" font-weight="bold">Poland</text>
<text transform="translate(88.7 883.76) scale(0.74 1)" font-size="6" text-anchor="end" font-weight="bold">286</text>
<text transform="translate(107.2 883.76) scale(0.78 1)" font-size="5.6" text-anchor="end" font-weight="bold">-3.0</text>
<rect x="0" y="885.08" width="107.8" height="6.04" fill="#10b28b"/>
<polygon points="0.9,886.28 4.3,886.28 2.6,890.18" fill="#fff"/>
<text transform="translate(5.6 890.08) scale(0.74 1)" font-size="6" font-weight="bold">22</text>
<text transform="translate(18.8 890.08) scale(0.74 1)" font-size="6" font-weight="bold">Ukraine</text>
<text transform="translate(88.7 890.08) scale(0.74 1)" font-size="6" text-anchor="end" font-weight="bold">255</text>
<text transform="translate(107.2 890.08) scale(0.78 1)" font-size="5.6" text-anchor="end" font-weight="bold">-28.2</text>
<rect x="116.25" y="732.8" width="107.8" height="0.5" fill="#c9c2ba"/>
<text transform="translate(116.45 738.8) scale(0.88 1)" font-size="4.4" font-weight="bold" fill="#111">Rank/</text>
<text transform="translate(116.45 743.65) scale(0.88 1)" font-size="4.4" font-weight="bold" fill="#111">change</text>
<text transform="translate(116.45 748.5) scale(0.88 1)" font-size="4.4" font-weight="bold" fill="#111">on 2008</text>
<text transform="translate(135.05 738.8) scale(0.88 1)" font-size="4.4" font-weight="bold" fill="#111">Country</text>
<text transform="translate(193.05 738.8) scale(0.88 1)" font-size="4.4" font-weight="bold" fill="#111">Million</text>
<text transform="translate(193.05 743.65) scale(0.88 1)" font-size="4.4" font-weight="bold" fill="#111">tonnes</text>
<text transform="translate(193.05 748.5) scale(0.88 1)" font-size="4.4" font-weight="bold" fill="#111">2009</text>
<text transform="translate(209.25 738.8) scale(0.88 1)" font-size="4.4" font-weight="bold" fill="#111">Percent</text>
<text transform="translate(209.25 743.65) scale(0.88 1)" font-size="4.4" font-weight="bold" fill="#111">change</text>
<text transform="translate(209.25 748.5) scale(0.88 1)" font-size="4.4" font-weight="bold" fill="#111">08–09</text>
<rect x="116.25" y="752.4" width="107.8" height="6.04" fill="#00aeef"/>
<polygon points="117.15,757.5 120.55,757.5 118.85,753.6" fill="#fff"/>
<text transform="translate(121.85 757.4) scale(0.74 1)" font-size="6" font-weight="bold">23</text>
<text transform="translate(135.05 757.4) scale(0.74 1)" font-size="6" font-weight="bold">Thailand</text>
<text transform="translate(204.95 757.4) scale(0.74 1)" font-size="6" text-anchor="end" font-weight="bold">253</text>
<text transform="translate(223.45 757.4) scale(0.78 1)" font-size="5.6" text-anchor="end" font-weight="bold">-0.1</text>
<rect x="116.25" y="758.72" width="107.8" height="6.04" fill="#ec008c"/>
<polygon points="117.15,759.92 120.55,759.92 118.85,763.82" fill="#fff"/>
<text transform="translate(121.85 763.72) scale(0.74 1)" font-size="6" font-weight="bold">24</text>
<text transform="translate(135.05 763.72) scale(0.74 1)" font-size="6" font-weight="bold">Turkey</text>
<text transform="translate(204.95 763.72) scale(0.74 1)" font-size="6" text-anchor="end" font-weight="bold">253</text>
<text transform="translate(223.45 763.72) scale(0.78 1)" font-size="5.6" text-anchor="end" font-weight="bold">-7.3</text>
<rect x="116.25" y="765.04" width="107.8" height="6.04" fill="#ec008c"/>
<rect x="117.55" y="767.54" width="2.6" height="1.4" fill="#fff"/>
<text transform="translate(121.85 770.04) scale(0.74 1)" font-size="6" font-weight="bold">25</text>
<text transform="translate(135.05 770.04) scale(0.74 1)" font-size="6" font-weight="bold">Netherlands</text>
<text transform="translate(204.95 770.04) scale(0.74 1)" font-size="6" text-anchor="end" font-weight="bold">249</text>
<text transform="translate(223.45 770.04) scale(0.78 1)" font-size="5.6" text-anchor="end" font-weight="bold">-0.2</text>
<rect x="116.25" y="771.35" width="107.8" height="6.04" fill="#fdb813"/>
<rect x="117.55" y="773.85" width="2.6" height="1.4" fill="#fff"/>
<text transform="translate(121.85 776.35) scale(0.74 1)" font-size="6" font-weight="bold">26</text>
<text transform="translate(135.05 776.35) scale(0.74 1)" font-size="6" font-weight="bold">United Arab Emirates</text>
<text transform="translate(204.95 776.35) scale(0.74 1)" font-size="6" text-anchor="end" font-weight="bold">193</text>
<text transform="translate(223.45 776.35) scale(0.78 1)" font-size="5.6" text-anchor="end" font-weight="bold">-1.2</text>
<rect x="116.25" y="777.67" width="107.8" height="6.04" fill="#8b7355"/>
<rect x="117.55" y="780.17" width="2.6" height="1.4" fill="#fff"/>
<text transform="translate(121.85 782.67) scale(0.74 1)" font-size="6" font-weight="bold">27</text>
<text transform="translate(135.05 782.67) scale(0.74 1)" font-size="6" font-weight="bold">Egypt</text>
<text transform="translate(204.95 782.67) scale(0.74 1)" font-size="6" text-anchor="end" font-weight="bold">192</text>
<text transform="translate(223.45 782.67) scale(0.78 1)" font-size="5.6" text-anchor="end" font-weight="bold">3.5</text>
<rect x="116.25" y="783.99" width="107.8" height="6.04" fill="#10b28b"/>
<polygon points="117.15,789.09 120.55,789.09 118.85,785.19" fill="#fff"/>
<text transform="translate(121.85 788.99) scale(0.74 1)" font-size="6" font-weight="bold">28</text>
<text transform="translate(135.05 788.99) scale(0.74 1)" font-size="6" font-weight="bold">Kazakhstan</text>
<text transform="translate(204.95 788.99) scale(0.74 1)" font-size="6" text-anchor="end" font-weight="bold">185</text>
<text transform="translate(223.45 788.99) scale(0.78 1)" font-size="5.6" text-anchor="end" font-weight="bold">9.8</text>
<rect x="116.25" y="790.31" width="107.8" height="6.04" fill="#f58220"/>
<polygon points="117.15,791.51 120.55,791.51 118.85,795.41" fill="#fff"/>
<text transform="translate(121.85 795.31) scale(0.74 1)" font-size="6" font-weight="bold">29</text>
<text transform="translate(135.05 795.31) scale(0.74 1)" font-size="6" font-weight="bold">Argentina</text>
<text transform="translate(204.95 795.31) scale(0.74 1)" font-size="6" text-anchor="end" font-weight="bold">167</text>
<text transform="translate(223.45 795.31) scale(0.78 1)" font-size="5.6" text-anchor="end" font-weight="bold">-3.2</text>
<rect x="116.25" y="796.63" width="107.8" height="6.04" fill="#f58220"/>
<rect x="117.55" y="799.13" width="2.6" height="1.4" fill="#fff"/>
<text transform="translate(121.85 801.63) scale(0.74 1)" font-size="6" font-weight="bold">30</text>
<text transform="translate(135.05 801.63) scale(0.74 1)" font-size="6" font-weight="bold">Venezuela</text>
<text transform="translate(204.95 801.63) scale(0.74 1)" font-size="6" text-anchor="end" font-weight="bold">162</text>
<text transform="translate(223.45 801.63) scale(0.78 1)" font-size="5.6" text-anchor="end" font-weight="bold">-1.4</text>
<rect x="116.25" y="802.94" width="107.8" height="6.04" fill="#00aeef"/>
<rect x="117.55" y="805.44" width="2.6" height="1.4" fill="#fff"/>
<text transform="translate(121.85 807.94) scale(0.74 1)" font-size="6" font-weight="bold">31</text>
<text transform="translate(135.05 807.94) scale(0.74 1)" font-size="6" font-weight="bold">Singapore</text>
<text transform="translate(204.95 807.94) scale(0.74 1)" font-size="6" text-anchor="end" font-weight="bold">161</text>
<text transform="translate(223.45 807.94) scale(0.78 1)" font-size="5.6" text-anchor="end" font-weight="bold">-0.1</text>
<rect x="116.25" y="809.26" width="107.8" height="6.04" fill="#00aeef"/>
<polygon points="117.15,814.36 120.55,814.36 118.85,810.46" fill="#fff"/>
<text transform="translate(121.85 814.26) scale(0.74 1)" font-size="6" font-weight="bold">32</text>
<text transform="translate(135.05 814.26) scale(0.74 1)" font-size="6" font-weight="bold">Malaysia</text>
<text transform="translate(204.95 814.26) scale(0.74 1)" font-size="6" text-anchor="end" font-weight="bold">148</text>
<text transform="translate(223.45 814.26) scale(0.78 1)" font-size="5.6" text-anchor="end" font-weight="bold">-0.2</text>
<rect x="116.25" y="815.58" width="107.8" height="6.04" fill="#00aeef"/>
<polygon points="117.15,820.68 120.55,820.68 118.85,816.78" fill="#fff"/>
<text transform="translate(121.85 820.58) scale(0.74 1)" font-size="6" font-weight="bold">33</text>
<text transform="translate(135.05 820.58) scale(0.74 1)" font-size="6" font-weight="bold">Pakistan</text>
<text transform="translate(204.95 820.58) scale(0.74 1)" font-size="6" text-anchor="end" font-weight="bold">140</text>
<text transform="translate(223.45 820.58) scale(0.78 1)" font-size="5.6" text-anchor="end" font-weight="bold">0.4</text>
<rect x="116.25" y="821.9" width="107.8" height="6.04" fill="#ec008c"/>
<polygon points="117.15,823.1 120.55,823.1 118.85,827" fill="#fff"/>
<text transform="translate(121.85 826.9) scale(0.74 1)" font-size="6" font-weight="bold">34</text>
<text transform="translate(135.05 826.9) scale(0.74 1)" font-size="6" font-weight="bold">Belgium</text>
<text transform="translate(204.95 826.9) scale(0.74 1)" font-size="6" text-anchor="end" font-weight="bold">137</text>
<text transform="translate(223.45 826.9) scale(0.78 1)" font-size="5.6" text-anchor="end" font-weight="bold">-11.2</text>
<rect x="116.25" y="828.22" width="107.8" height="6.04" fill="#f58220"/>
<polygon points="117.15,833.32 120.55,833.32 118.85,829.42" fill="#fff"/>
<text transform="translate(121.85 833.22) scale(0.74 1)" font-size="6" font-weight="bold">35</text>
<text transform="translate(135.05 833.22) scale(0.74 1)" font-size="6" font-weight="bold">Chile</text>
<text transform="translate(204.95 833.22) scale(0.74 1)" font-size="6" text-anchor="end" font-weight="bold">119</text>
<text transform="translate(223.45 833.22) scale(0.78 1)" font-size="5.6" text-anchor="end" font-weight="bold">74.1</text>
<rect x="116.25" y="834.53" width="107.8" height="6.04" fill="#10b28b"/>
<polygon points="117.15,835.73 120.55,835.73 118.85,839.63" fill="#fff"/>
<text transform="translate(121.85 839.53) scale(0.74 1)" font-size="6" font-weight="bold">36</text>
<text transform="translate(135.05 839.53) scale(0.74 1)" font-size="6" font-weight="bold">Uzbekistan</text>
<text transform="translate(204.95 839.53) scale(0.74 1)" font-size="6" text-anchor="end" font-weight="bold">115</text>
<text transform="translate(223.45 839.53) scale(0.78 1)" font-size="5.6" text-anchor="end" font-weight="bold">-9.4</text>
<rect x="116.25" y="840.85" width="107.8" height="6.04" fill="#8b7355"/>
<polygon points="117.15,842.05 120.55,842.05 118.85,845.95" fill="#fff"/>
<text transform="translate(121.85 845.85) scale(0.74 1)" font-size="6" font-weight="bold">37</text>
<text transform="translate(135.05 845.85) scale(0.74 1)" font-size="6" font-weight="bold">Algeria</text>
<text transform="translate(204.95 845.85) scale(0.74 1)" font-size="6" text-anchor="end" font-weight="bold">114</text>
<text transform="translate(223.45 845.85) scale(0.78 1)" font-size="5.6" text-anchor="end" font-weight="bold">6.2</text>
<rect x="116.25" y="847.17" width="107.8" height="6.04" fill="#fdb813"/>
<polygon points="117.15,852.27 120.55,852.27 118.85,848.37" fill="#fff"/>
<text transform="translate(121.85 852.17) scale(0.74 1)" font-size="6" font-weight="bold">38</text>
<text transform="translate(135.05 852.17) scale(0.74 1)" font-size="6" font-weight="bold">Iraq</text>
<text transform="translate(204.95 852.17) scale(0.74 1)" font-size="6" text-anchor="end" font-weight="bold">104</text>
<text transform="translate(223.45 852.17) scale(0.78 1)" font-size="5.6" text-anchor="end" font-weight="bold">3.7</text>
<rect x="116.25" y="853.49" width="107.8" height="6.04" fill="#ec008c"/>
<polygon points="117.15,854.69 120.55,854.69 118.85,858.59" fill="#fff"/>
<text transform="translate(121.85 858.49) scale(0.74 1)" font-size="6" font-weight="bold">39</text>
<text transform="translate(135.05 858.49) scale(0.74 1)" font-size="6" font-weight="bold">Greece</text>
<text transform="translate(204.95 858.49) scale(0.74 1)" font-size="6" text-anchor="end" font-weight="bold">100</text>
<text transform="translate(223.45 858.49) scale(0.78 1)" font-size="5.6" text-anchor="end" font-weight="bold">-5.3</text>
<rect x="116.25" y="859.81" width="107.8" height="6.04" fill="#00aeef"/>
<polygon points="117.15,861.01 120.55,861.01 118.85,864.91" fill="#fff"/>
<text transform="translate(121.85 864.81) scale(0.74 1)" font-size="6" font-weight="bold">40</text>
<text transform="translate(135.05 864.81) scale(0.74 1)" font-size="6" font-weight="bold">Vietnam</text>
<text transform="translate(204.95 864.81) scale(0.74 1)" font-size="6" text-anchor="end" font-weight="bold">98.8</text>
<text transform="translate(223.45 864.81) scale(0.78 1)" font-size="5.6" text-anchor="end" font-weight="bold">-4.9</text>
<rect x="116.25" y="866.12" width="107.8" height="6.04" fill="#ec008c"/>
<rect x="117.55" y="868.62" width="2.6" height="1.4" fill="#fff"/>
<text transform="translate(121.85 871.12) scale(0.74 1)" font-size="6" font-weight="bold">41</text>
<text transform="translate(135.05 871.12) scale(0.74 1)" font-size="6" font-weight="bold">Czech Republic</text>
<text transform="translate(204.95 871.12) scale(0.74 1)" font-size="6" text-anchor="end" font-weight="bold">95.3</text>
<text transform="translate(223.45 871.12) scale(0.78 1)" font-size="5.6" text-anchor="end" font-weight="bold">-3.8</text>
<rect x="116.25" y="872.44" width="107.8" height="6.04" fill="#00aeef"/>
<polygon points="117.15,877.54 120.55,877.54 118.85,873.64" fill="#fff"/>
<text transform="translate(121.85 877.44) scale(0.74 1)" font-size="6" font-weight="bold">42</text>
<text transform="translate(135.05 877.44) scale(0.74 1)" font-size="6" font-weight="bold">Hong Kong</text>
<text transform="translate(204.95 877.44) scale(0.74 1)" font-size="6" text-anchor="end" font-weight="bold">86.0</text>
<text transform="translate(223.45 877.44) scale(0.78 1)" font-size="5.6" text-anchor="end" font-weight="bold">10.3</text>
<rect x="116.25" y="878.76" width="107.8" height="6.04" fill="#fdb813"/>
<rect x="117.55" y="881.26" width="2.6" height="1.4" fill="#fff"/>
<text transform="translate(121.85 883.76) scale(0.74 1)" font-size="6" font-weight="bold">43</text>
<text transform="translate(135.05 883.76) scale(0.74 1)" font-size="6" font-weight="bold">Kuwait</text>
<text transform="translate(204.95 883.76) scale(0.74 1)" font-size="6" text-anchor="end" font-weight="bold">84.9</text>
<text transform="translate(223.45 883.76) scale(0.78 1)" font-size="5.6" text-anchor="end" font-weight="bold">6.3</text>
<rect x="116.25" y="885.08" width="107.8" height="6.04" fill="#ec008c"/>
<polygon points="117.15,886.28 120.55,886.28 118.85,890.18" fill="#fff"/>
<text transform="translate(121.85 890.08) scale(0.74 1)" font-size="6" font-weight="bold">44</text>
<text transform="translate(135.05 890.08) scale(0.74 1)" font-size="6" font-weight="bold">Romania</text>
<text transform="translate(204.95 890.08) scale(0.74 1)" font-size="6" text-anchor="end" font-weight="bold">80.5</text>
<text transform="translate(223.45 890.08) scale(0.78 1)" font-size="5.6" text-anchor="end" font-weight="bold">-16.6</text>
<rect x="232.5" y="732.8" width="107.8" height="0.5" fill="#c9c2ba"/>
<text transform="translate(232.7 738.8) scale(0.88 1)" font-size="4.4" font-weight="bold" fill="#111">Rank/</text>
<text transform="translate(232.7 743.65) scale(0.88 1)" font-size="4.4" font-weight="bold" fill="#111">change</text>
<text transform="translate(232.7 748.5) scale(0.88 1)" font-size="4.4" font-weight="bold" fill="#111">on 2008</text>
<text transform="translate(251.3 738.8) scale(0.88 1)" font-size="4.4" font-weight="bold" fill="#111">Country</text>
<text transform="translate(309.3 738.8) scale(0.88 1)" font-size="4.4" font-weight="bold" fill="#111">Million</text>
<text transform="translate(309.3 743.65) scale(0.88 1)" font-size="4.4" font-weight="bold" fill="#111">tonnes</text>
<text transform="translate(309.3 748.5) scale(0.88 1)" font-size="4.4" font-weight="bold" fill="#111">2009</text>
<text transform="translate(325.5 738.8) scale(0.88 1)" font-size="4.4" font-weight="bold" fill="#111">Percent</text>
<text transform="translate(325.5 743.65) scale(0.88 1)" font-size="4.4" font-weight="bold" fill="#111">change</text>
<text transform="translate(325.5 748.5) scale(0.88 1)" font-size="4.4" font-weight="bold" fill="#111">08–09</text>
<rect x="232.5" y="752.4" width="107.8" height="6.04" fill="#00aeef"/>
<polygon points="233.4,757.5 236.8,757.5 235.1,753.6" fill="#fff"/>
<text transform="translate(238.1 757.4) scale(0.74 1)" font-size="6" font-weight="bold">45</text>
<text transform="translate(251.3 757.4) scale(0.74 1)" font-size="6" font-weight="bold">North Korea</text>
<text transform="translate(321.2 757.4) scale(0.74 1)" font-size="6" text-anchor="end" font-weight="bold">79.5</text>
<text transform="translate(339.7 757.4) scale(0.78 1)" font-size="5.6" text-anchor="end" font-weight="bold">14.3</text>
<rect x="232.5" y="758.72" width="107.8" height="6.04" fill="#8b7355"/>
<polygon points="233.4,759.92 236.8,759.92 235.1,763.82" fill="#fff"/>
<text transform="translate(238.1 763.72) scale(0.74 1)" font-size="6" font-weight="bold">46</text>
<text transform="translate(251.3 763.72) scale(0.74 1)" font-size="6" font-weight="bold">Nigeria</text>
<text transform="translate(321.2 763.72) scale(0.74 1)" font-size="6" text-anchor="end" font-weight="bold">77.7</text>
<text transform="translate(339.7 763.72) scale(0.78 1)" font-size="5.6" text-anchor="end" font-weight="bold">-22.4</text>
<rect x="232.5" y="765.04" width="107.8" height="6.04" fill="#00aeef"/>
<polygon points="233.4,766.24 236.8,766.24 235.1,770.14" fill="#fff"/>
<text transform="translate(238.1 770.04) scale(0.74 1)" font-size="6" font-weight="bold">47</text>
<text transform="translate(251.3 770.04) scale(0.74 1)" font-size="6" font-weight="bold">Philippines</text>
<text transform="translate(321.2 770.04) scale(0.74 1)" font-size="6" text-anchor="end" font-weight="bold">72.4</text>
<text transform="translate(339.7 770.04) scale(0.78 1)" font-size="5.6" text-anchor="end" font-weight="bold">-2.9</text>
<rect x="232.5" y="771.35" width="107.8" height="6.04" fill="#fdb813"/>
<polygon points="233.4,776.45 236.8,776.45 235.1,772.55" fill="#fff"/>
<text transform="translate(238.1 776.35) scale(0.74 1)" font-size="6" font-weight="bold">48</text>
<text transform="translate(251.3 776.35) scale(0.74 1)" font-size="6" font-weight="bold">Israel</text>
<text transform="translate(321.2 776.35) scale(0.74 1)" font-size="6" text-anchor="end" font-weight="bold">70.5</text>
<text transform="translate(339.7 776.35) scale(0.78 1)" font-size="5.6" text-anchor="end" font-weight="bold">4.8</text>
<rect x="232.5" y="777.67" width="107.8" height="6.04" fill="#f58220"/>
<polygon points="233.4,782.77 236.8,782.77 235.1,778.87" fill="#fff"/>
<text transform="translate(238.1 782.67) scale(0.74 1)" font-size="6" font-weight="bold">49</text>
<text transform="translate(251.3 782.67) scale(0.74 1)" font-size="6" font-weight="bold">Colombia</text>
<text transform="translate(321.2 782.67) scale(0.74 1)" font-size="6" text-anchor="end" font-weight="bold">70.1</text>
<text transform="translate(339.7 782.67) scale(0.78 1)" font-size="5.6" text-anchor="end" font-weight="bold">7.9</text>
<rect x="232.5" y="783.99" width="107.8" height="6.04" fill="#ec008c"/>
<polygon points="233.4,785.19 236.8,785.19 235.1,789.09" fill="#fff"/>
<text transform="translate(238.1 788.99) scale(0.74 1)" font-size="6" font-weight="bold">50</text>
<text transform="translate(251.3 788.99) scale(0.74 1)" font-size="6" font-weight="bold">Austria</text>
<text transform="translate(321.2 788.99) scale(0.74 1)" font-size="6" text-anchor="end" font-weight="bold">69.2</text>
<text transform="translate(339.7 788.99) scale(0.78 1)" font-size="5.6" text-anchor="end" font-weight="bold">-2.5</text>
<rect x="232.5" y="790.31" width="107.8" height="6.04" fill="#fdb813"/>
<polygon points="233.4,795.41 236.8,795.41 235.1,791.51" fill="#fff"/>
<text transform="translate(238.1 795.31) scale(0.74 1)" font-size="6" font-weight="bold">51</text>
<text transform="translate(251.3 795.31) scale(0.74 1)" font-size="6" font-weight="bold">Qatar</text>
<text transform="translate(321.2 795.31) scale(0.74 1)" font-size="6" text-anchor="end" font-weight="bold">66.5</text>
<text transform="translate(339.7 795.31) scale(0.78 1)" font-size="5.6" text-anchor="end" font-weight="bold">6.8</text>
<rect x="232.5" y="796.63" width="107.8" height="6.04" fill="#10b28b"/>
<polygon points="233.4,797.83 236.8,797.83 235.1,801.73" fill="#fff"/>
<text transform="translate(238.1 801.63) scale(0.74 1)" font-size="6" font-weight="bold">52</text>
<text transform="translate(251.3 801.63) scale(0.74 1)" font-size="6" font-weight="bold">Belarus</text>
<text transform="translate(321.2 801.63) scale(0.74 1)" font-size="6" text-anchor="end" font-weight="bold">60.6</text>
<text transform="translate(339.7 801.63) scale(0.78 1)" font-size="5.6" text-anchor="end" font-weight="bold">-9.5</text>
<rect x="232.5" y="802.94" width="107.8" height="6.04" fill="#fdb813"/>
<polygon points="233.4,808.04 236.8,808.04 235.1,804.14" fill="#fff"/>
<text transform="translate(238.1 807.94) scale(0.74 1)" font-size="6" font-weight="bold">53</text>
<text transform="translate(251.3 807.94) scale(0.74 1)" font-size="6" font-weight="bold">Syria</text>
<text transform="translate(321.2 807.94) scale(0.74 1)" font-size="6" text-anchor="end" font-weight="bold">56.9</text>
<text transform="translate(339.7 807.94) scale(0.78 1)" font-size="5.6" text-anchor="end" font-weight="bold">6.1</text>
<rect x="232.5" y="809.26" width="107.8" height="6.04" fill="#10b28b"/>
<polygon points="233.4,810.46 236.8,810.46 235.1,814.36" fill="#fff"/>
<text transform="translate(238.1 814.26) scale(0.74 1)" font-size="6" font-weight="bold">54</text>
<text transform="translate(251.3 814.26) scale(0.74 1)" font-size="6" font-weight="bold">Turkmenistan</text>
<text transform="translate(321.2 814.26) scale(0.74 1)" font-size="6" text-anchor="end" font-weight="bold">56.8</text>
<text transform="translate(339.7 814.26) scale(0.78 1)" font-size="5.6" text-anchor="end" font-weight="bold">-1.2</text>
<rect x="232.5" y="815.58" width="107.8" height="6.04" fill="#ec008c"/>
<polygon points="233.4,820.68 236.8,820.68 235.1,816.78" fill="#fff"/>
<text transform="translate(238.1 820.58) scale(0.74 1)" font-size="6" font-weight="bold">55</text>
<text transform="translate(251.3 820.58) scale(0.74 1)" font-size="6" font-weight="bold">Portugal</text>
<text transform="translate(321.2 820.58) scale(0.74 1)" font-size="6" text-anchor="end" font-weight="bold">56.5</text>
<text transform="translate(339.7 820.58) scale(0.78 1)" font-size="5.6" text-anchor="end" font-weight="bold">1.5</text>
<rect x="232.5" y="821.9" width="107.8" height="6.04" fill="#00aeef"/>
<polygon points="233.4,827 236.8,827 235.1,823.1" fill="#fff"/>
<text transform="translate(238.1 826.9) scale(0.74 1)" font-size="6" font-weight="bold">56</text>
<text transform="translate(251.3 826.9) scale(0.74 1)" font-size="6" font-weight="bold">Bangladesh</text>
<text transform="translate(321.2 826.9) scale(0.74 1)" font-size="6" text-anchor="end" font-weight="bold">55.1</text>
<text transform="translate(339.7 826.9) scale(0.78 1)" font-size="5.6" text-anchor="end" font-weight="bold">9.4</text>
<rect x="232.5" y="828.22" width="107.8" height="6.04" fill="#8b7355"/>
<polygon points="233.4,829.42 236.8,829.42 235.1,833.32" fill="#fff"/>
<text transform="translate(238.1 833.22) scale(0.74 1)" font-size="6" font-weight="bold">57</text>
<text transform="translate(251.3 833.22) scale(0.74 1)" font-size="6" font-weight="bold">Libya</text>
<text transform="translate(321.2 833.22) scale(0.74 1)" font-size="6" text-anchor="end" font-weight="bold">55.0</text>
<text transform="translate(339.7 833.22) scale(0.78 1)" font-size="5.6" text-anchor="end" font-weight="bold">-3.9</text>
<rect x="232.5" y="834.53" width="107.8" height="6.04" fill="#ec008c"/>
<polygon points="233.4,839.63 236.8,839.63 235.1,835.73" fill="#fff"/>
<text transform="translate(238.1 839.53) scale(0.74 1)" font-size="6" font-weight="bold">58</text>
<text transform="translate(251.3 839.53) scale(0.74 1)" font-size="6" font-weight="bold">Serbia</text>
<text transform="translate(321.2 839.53) scale(0.74 1)" font-size="6" text-anchor="end" font-weight="bold">52.3</text>
<text transform="translate(339.7 839.53) scale(0.78 1)" font-size="5.6" text-anchor="end" font-weight="bold">-3.3</text>
<rect x="232.5" y="840.85" width="107.8" height="6.04" fill="#ec008c"/>
<polygon points="233.4,842.05 236.8,842.05 235.1,845.95" fill="#fff"/>
<text transform="translate(238.1 845.85) scale(0.74 1)" font-size="6" font-weight="bold">59</text>
<text transform="translate(251.3 845.85) scale(0.74 1)" font-size="6" font-weight="bold">Finland</text>
<text transform="translate(321.2 845.85) scale(0.74 1)" font-size="6" text-anchor="end" font-weight="bold">52.2</text>
<text transform="translate(339.7 845.85) scale(0.78 1)" font-size="5.6" text-anchor="end" font-weight="bold">-4.9</text>
<rect x="232.5" y="847.17" width="107.8" height="6.04" fill="#ec008c"/>
<polygon points="233.4,848.37 236.8,848.37 235.1,852.27" fill="#fff"/>
<text transform="translate(238.1 852.17) scale(0.74 1)" font-size="6" font-weight="bold">60</text>
<text transform="translate(251.3 852.17) scale(0.74 1)" font-size="6" font-weight="bold">Sweden</text>
<text transform="translate(321.2 852.17) scale(0.74 1)" font-size="6" text-anchor="end" font-weight="bold">50.6</text>
<text transform="translate(339.7 852.17) scale(0.78 1)" font-size="5.6" text-anchor="end" font-weight="bold">-7.7</text>
<rect x="232.5" y="853.49" width="107.8" height="6.04" fill="#ec008c"/>
<polygon points="233.4,854.69 236.8,854.69 235.1,858.59" fill="#fff"/>
<text transform="translate(238.1 858.49) scale(0.74 1)" font-size="6" font-weight="bold">61</text>
<text transform="translate(251.3 858.49) scale(0.74 1)" font-size="6" font-weight="bold">Hungary</text>
<text transform="translate(321.2 858.49) scale(0.74 1)" font-size="6" text-anchor="end" font-weight="bold">50.0</text>
<text transform="translate(339.7 858.49) scale(0.78 1)" font-size="5.6" text-anchor="end" font-weight="bold">-10.7</text>
<rect x="232.5" y="859.81" width="107.8" height="6.04" fill="#ec008c"/>
<polygon points="233.4,861.01 236.8,861.01 235.1,864.91" fill="#fff"/>
<text transform="translate(238.1 864.81) scale(0.74 1)" font-size="6" font-weight="bold">62</text>
<text transform="translate(251.3 864.81) scale(0.74 1)" font-size="6" font-weight="bold">Denmark</text>
<text transform="translate(321.2 864.81) scale(0.74 1)" font-size="6" text-anchor="end" font-weight="bold">49.6</text>
<text transform="translate(339.7 864.81) scale(0.78 1)" font-size="5.6" text-anchor="end" font-weight="bold">-8.6</text>
<rect x="232.5" y="866.12" width="107.8" height="6.04" fill="#fdb813"/>
<polygon points="233.4,871.22 236.8,871.22 235.1,867.32" fill="#fff"/>
<text transform="translate(238.1 871.12) scale(0.74 1)" font-size="6" font-weight="bold">63</text>
<text transform="translate(251.3 871.12) scale(0.74 1)" font-size="6" font-weight="bold">Oman</text>
<text transform="translate(321.2 871.12) scale(0.74 1)" font-size="6" text-anchor="end" font-weight="bold">49.0</text>
<text transform="translate(339.7 871.12) scale(0.78 1)" font-size="5.6" text-anchor="end" font-weight="bold">9.9</text>
<rect x="232.5" y="872.44" width="107.8" height="6.04" fill="#f58220"/>
<rect x="233.8" y="874.94" width="2.6" height="1.4" fill="#fff"/>
<text transform="translate(238.1 877.44) scale(0.74 1)" font-size="6" font-weight="bold">64</text>
<text transform="translate(251.3 877.44) scale(0.74 1)" font-size="6" font-weight="bold">Trinidad and Tobago</text>
<text transform="translate(321.2 877.44) scale(0.74 1)" font-size="6" text-anchor="end" font-weight="bold">47.8</text>
<text transform="translate(339.7 877.44) scale(0.78 1)" font-size="5.6" text-anchor="end" font-weight="bold">-4.1</text>
<rect x="232.5" y="878.76" width="107.8" height="6.04" fill="#ec008c"/>
<polygon points="233.4,883.86 236.8,883.86 235.1,879.96" fill="#fff"/>
<text transform="translate(238.1 883.76) scale(0.74 1)" font-size="6" font-weight="bold">65</text>
<text transform="translate(251.3 883.76) scale(0.74 1)" font-size="6" font-weight="bold">Switzerland</text>
<text transform="translate(321.2 883.76) scale(0.74 1)" font-size="6" text-anchor="end" font-weight="bold">45.8</text>
<text transform="translate(339.7 883.76) scale(0.78 1)" font-size="5.6" text-anchor="end" font-weight="bold">1.0</text>
<rect x="232.5" y="885.08" width="107.8" height="6.04" fill="#ec008c"/>
<polygon points="233.4,886.28 236.8,886.28 235.1,890.18" fill="#fff"/>
<text transform="translate(238.1 890.08) scale(0.74 1)" font-size="6" font-weight="bold">66</text>
<text transform="translate(251.3 890.08) scale(0.74 1)" font-size="6" font-weight="bold">Bulgaria</text>
<text transform="translate(321.2 890.08) scale(0.74 1)" font-size="6" text-anchor="end" font-weight="bold">44.5</text>
<text transform="translate(339.7 890.08) scale(0.78 1)" font-size="5.6" text-anchor="end" font-weight="bold">-11.9</text>
<rect x="348.5" y="732.8" width="107.8" height="0.5" fill="#c9c2ba"/>
<text transform="translate(348.7 738.8) scale(0.88 1)" font-size="4.4" font-weight="bold" fill="#111">Rank/</text>
<text transform="translate(348.7 743.65) scale(0.88 1)" font-size="4.4" font-weight="bold" fill="#111">change</text>
<text transform="translate(348.7 748.5) scale(0.88 1)" font-size="4.4" font-weight="bold" fill="#111">on 2008</text>
<text transform="translate(367.3 738.8) scale(0.88 1)" font-size="4.4" font-weight="bold" fill="#111">Country</text>
<text transform="translate(425.3 738.8) scale(0.88 1)" font-size="4.4" font-weight="bold" fill="#111">Million</text>
<text transform="translate(425.3 743.65) scale(0.88 1)" font-size="4.4" font-weight="bold" fill="#111">tonnes</text>
<text transform="translate(425.3 748.5) scale(0.88 1)" font-size="4.4" font-weight="bold" fill="#111">2009</text>
<text transform="translate(441.5 738.8) scale(0.88 1)" font-size="4.4" font-weight="bold" fill="#111">Percent</text>
<text transform="translate(441.5 743.65) scale(0.88 1)" font-size="4.4" font-weight="bold" fill="#111">change</text>
<text transform="translate(441.5 748.5) scale(0.88 1)" font-size="4.4" font-weight="bold" fill="#111">08–09</text>
<rect x="348.5" y="752.4" width="107.8" height="6.04" fill="#ec008c"/>
<polygon points="349.4,753.6 352.8,753.6 351.1,757.5" fill="#fff"/>
<text transform="translate(354.1 757.4) scale(0.74 1)" font-size="6" font-weight="bold">67</text>
<text transform="translate(367.3 757.4) scale(0.74 1)" font-size="6" font-weight="bold">Ireland</text>
<text transform="translate(437.2 757.4) scale(0.74 1)" font-size="6" text-anchor="end" font-weight="bold">40.3</text>
<text transform="translate(455.7 757.4) scale(0.78 1)" font-size="5.6" text-anchor="end" font-weight="bold">-11.2</text>
<rect x="348.5" y="758.72" width="107.8" height="6.04" fill="#ec008c"/>
<rect x="349.8" y="761.22" width="2.6" height="1.4" fill="#fff"/>
<text transform="translate(354.1 763.72) scale(0.74 1)" font-size="6" font-weight="bold">68</text>
<text transform="translate(367.3 763.72) scale(0.74 1)" font-size="6" font-weight="bold">Norway</text>
<text transform="translate(437.2 763.72) scale(0.74 1)" font-size="6" text-anchor="end" font-weight="bold">39.6</text>
<text transform="translate(455.7 763.72) scale(0.78 1)" font-size="5.6" text-anchor="end" font-weight="bold">-0.3</text>
<rect x="348.5" y="765.04" width="107.8" height="6.04" fill="#00aeef"/>
<polygon points="349.4,770.14 352.8,770.14 351.1,766.24" fill="#fff"/>
<text transform="translate(354.1 770.04) scale(0.74 1)" font-size="6" font-weight="bold">69</text>
<text transform="translate(367.3 770.04) scale(0.74 1)" font-size="6" font-weight="bold">New Zealand</text>
<text transform="translate(437.2 770.04) scale(0.74 1)" font-size="6" text-anchor="end" font-weight="bold">39.1</text>
<text transform="translate(455.7 770.04) scale(0.78 1)" font-size="5.6" text-anchor="end" font-weight="bold">-1.1</text>
<rect x="348.5" y="771.35" width="107.8" height="6.04" fill="#f58220"/>
<polygon points="349.4,776.45 352.8,776.45 351.1,772.55" fill="#fff"/>
<text transform="translate(354.1 776.35) scale(0.74 1)" font-size="6" font-weight="bold">70</text>
<text transform="translate(367.3 776.35) scale(0.74 1)" font-size="6" font-weight="bold">Peru</text>
<text transform="translate(437.2 776.35) scale(0.74 1)" font-size="6" text-anchor="end" font-weight="bold">38.2</text>
<text transform="translate(455.7 776.35) scale(0.78 1)" font-size="5.6" text-anchor="end" font-weight="bold">4.0</text>
<rect x="348.5" y="777.67" width="107.8" height="6.04" fill="#8b7355"/>
<polygon points="349.4,782.77 352.8,782.77 351.1,778.87" fill="#fff"/>
<text transform="translate(354.1 782.67) scale(0.74 1)" font-size="6" font-weight="bold">71</text>
<text transform="translate(367.3 782.67) scale(0.74 1)" font-size="6" font-weight="bold">Morocco</text>
<text transform="translate(437.2 782.67) scale(0.74 1)" font-size="6" text-anchor="end" font-weight="bold">36.5</text>
<text transform="translate(455.7 782.67) scale(0.78 1)" font-size="5.6" text-anchor="end" font-weight="bold">-2.2</text>
<rect x="348.5" y="783.99" width="107.8" height="6.04" fill="#10b28b"/>
<polygon points="349.4,785.19 352.8,785.19 351.1,789.09" fill="#fff"/>
<text transform="translate(354.1 788.99) scale(0.74 1)" font-size="6" font-weight="bold">72</text>
<text transform="translate(367.3 788.99) scale(0.74 1)" font-size="6" font-weight="bold">Azerbaijan</text>
<text transform="translate(437.2 788.99) scale(0.74 1)" font-size="6" text-anchor="end" font-weight="bold">36.2</text>
<text transform="translate(455.7 788.99) scale(0.78 1)" font-size="5.6" text-anchor="end" font-weight="bold">-11.9</text>
<rect x="348.5" y="790.31" width="107.8" height="6.04" fill="#ec008c"/>
<polygon points="349.4,791.51 352.8,791.51 351.1,795.41" fill="#fff"/>
<text transform="translate(354.1 795.31) scale(0.74 1)" font-size="6" font-weight="bold">73</text>
<text transform="translate(367.3 795.31) scale(0.74 1)" font-size="6" font-weight="bold">Slovakia</text>
<text transform="translate(437.2 795.31) scale(0.74 1)" font-size="6" text-anchor="end" font-weight="bold">35.8</text>
<text transform="translate(455.7 795.31) scale(0.78 1)" font-size="5.6" text-anchor="end" font-weight="bold">-4.5</text>
<rect x="348.5" y="796.63" width="107.8" height="6.04" fill="#f58220"/>
<rect x="349.8" y="799.13" width="2.6" height="1.4" fill="#fff"/>
<text transform="translate(354.1 801.63) scale(0.74 1)" font-size="6" font-weight="bold">74</text>
<text transform="translate(367.3 801.63) scale(0.74 1)" font-size="6" font-weight="bold">Puerto Rico</text>
<text transform="translate(437.2 801.63) scale(0.74 1)" font-size="6" text-anchor="end" font-weight="bold">33.3</text>
<text transform="translate(455.7 801.63) scale(0.78 1)" font-size="5.6" text-anchor="end" font-weight="bold">-3.2</text>
<rect x="348.5" y="802.94" width="107.8" height="6.04" fill="#fdb813"/>
<rect x="349.8" y="805.44" width="2.6" height="1.4" fill="#fff"/>
<text transform="translate(354.1 807.94) scale(0.74 1)" font-size="6" font-weight="bold">75</text>
<text transform="translate(367.3 807.94) scale(0.74 1)" font-size="6" font-weight="bold">Bahrain</text>
<text transform="translate(437.2 807.94) scale(0.74 1)" font-size="6" text-anchor="end" font-weight="bold">31.1</text>
<text transform="translate(455.7 807.94) scale(0.78 1)" font-size="5.6" text-anchor="end" font-weight="bold">1.6</text>
<rect x="348.5" y="809.26" width="107.8" height="6.04" fill="#f58220"/>
<rect x="349.8" y="811.76" width="2.6" height="1.4" fill="#fff"/>
<text transform="translate(354.1 814.26) scale(0.74 1)" font-size="6" font-weight="bold">76</text>
<text transform="translate(367.3 814.26) scale(0.74 1)" font-size="6" font-weight="bold">Cuba</text>
<text transform="translate(437.2 814.26) scale(0.74 1)" font-size="6" text-anchor="end" font-weight="bold">30.4</text>
<text transform="translate(455.7 814.26) scale(0.78 1)" font-size="5.6" text-anchor="end" font-weight="bold">4.7</text>
<rect x="348.5" y="815.58" width="107.8" height="6.04" fill="#f58220"/>
<rect x="349.8" y="818.08" width="2.6" height="1.4" fill="#fff"/>
<text transform="translate(354.1 820.58) scale(0.74 1)" font-size="6" font-weight="bold">77</text>
<text transform="translate(367.3 820.58) scale(0.74 1)" font-size="6" font-weight="bold">Ecuador</text>
<text transform="translate(437.2 820.58) scale(0.74 1)" font-size="6" text-anchor="end" font-weight="bold">28.7</text>
<text transform="translate(455.7 820.58) scale(0.78 1)" font-size="5.6" text-anchor="end" font-weight="bold">1.7</text>
<rect x="348.5" y="821.9" width="107.8" height="6.04" fill="#8b7355"/>
<rect x="349.8" y="824.4" width="2.6" height="1.4" fill="#fff"/>
<text transform="translate(354.1 826.9) scale(0.74 1)" font-size="6" font-weight="bold">78</text>
<text transform="translate(367.3 826.9) scale(0.74 1)" font-size="6" font-weight="bold">Angola</text>
<text transform="translate(437.2 826.9) scale(0.74 1)" font-size="6" text-anchor="end" font-weight="bold">24.0</text>
<text transform="translate(455.7 826.9) scale(0.78 1)" font-size="5.6" text-anchor="end" font-weight="bold">1.8</text>
<rect x="348.5" y="828.22" width="107.8" height="6.04" fill="#fdb813"/>
<polygon points="349.4,833.32 352.8,833.32 351.1,829.42" fill="#fff"/>
<text transform="translate(354.1 833.22) scale(0.74 1)" font-size="6" font-weight="bold">79</text>
<text transform="translate(367.3 833.22) scale(0.74 1)" font-size="6" font-weight="bold">Yemen</text>
<text transform="translate(437.2 833.22) scale(0.74 1)" font-size="6" text-anchor="end" font-weight="bold">22.9</text>
<text transform="translate(455.7 833.22) scale(0.78 1)" font-size="5.6" text-anchor="end" font-weight="bold">13.5</text>
<rect x="348.5" y="834.53" width="107.8" height="6.04" fill="#8b7355"/>
<polygon points="349.4,839.63 352.8,839.63 351.1,835.73" fill="#fff"/>
<text transform="translate(354.1 839.53) scale(0.74 1)" font-size="6" font-weight="bold">80</text>
<text transform="translate(367.3 839.53) scale(0.74 1)" font-size="6" font-weight="bold">Tunisia</text>
<text transform="translate(437.2 839.53) scale(0.74 1)" font-size="6" text-anchor="end" font-weight="bold">22.9</text>
<text transform="translate(455.7 839.53) scale(0.78 1)" font-size="5.6" text-anchor="end" font-weight="bold">5.7</text>
<rect x="348.5" y="840.85" width="107.8" height="6.04" fill="#ec008c"/>
<polygon points="349.4,842.05 352.8,842.05 351.1,845.95" fill="#fff"/>
<text transform="translate(354.1 845.85) scale(0.74 1)" font-size="6" font-weight="bold">81</text>
<text transform="translate(367.3 845.85) scale(0.74 1)" font-size="6" font-weight="bold">Croatia</text>
<text transform="translate(437.2 845.85) scale(0.74 1)" font-size="6" text-anchor="end" font-weight="bold">21.5</text>
<text transform="translate(455.7 845.85) scale(0.78 1)" font-size="5.6" text-anchor="end" font-weight="bold">-4.7</text>
<rect x="348.5" y="847.17" width="107.8" height="6.04" fill="#fdb813"/>
<polygon points="349.4,852.27 352.8,852.27 351.1,848.37" fill="#fff"/>
<text transform="translate(354.1 852.17) scale(0.74 1)" font-size="6" font-weight="bold">82</text>
<text transform="translate(367.3 852.17) scale(0.74 1)" font-size="6" font-weight="bold">Jordan</text>
<text transform="translate(437.2 852.17) scale(0.74 1)" font-size="6" text-anchor="end" font-weight="bold">20.0</text>
<text transform="translate(455.7 852.17) scale(0.78 1)" font-size="5.6" text-anchor="end" font-weight="bold">2.4</text>
<rect x="348.5" y="853.49" width="107.8" height="6.04" fill="#f58220"/>
<polygon points="349.4,858.59 352.8,858.59 351.1,854.69" fill="#fff"/>
<text transform="translate(354.1 858.49) scale(0.74 1)" font-size="6" font-weight="bold">83</text>
<text transform="translate(367.3 858.49) scale(0.74 1)" font-size="6" font-weight="bold">Dominican Republic</text>
<text transform="translate(437.2 858.49) scale(0.74 1)" font-size="6" text-anchor="end" font-weight="bold">19.9</text>
<text transform="translate(455.7 858.49) scale(0.78 1)" font-size="5.6" text-anchor="end" font-weight="bold">2.1</text>
<rect x="348.5" y="859.81" width="107.8" height="6.04" fill="#ec008c"/>
<polygon points="349.4,861.01 352.8,861.01 351.1,864.91" fill="#fff"/>
<text transform="translate(354.1 864.81) scale(0.74 1)" font-size="6" font-weight="bold">84</text>
<text transform="translate(367.3 864.81) scale(0.74 1)" font-size="6" font-weight="bold">Bosnia and Herzegovina</text>
<text transform="translate(437.2 864.81) scale(0.74 1)" font-size="6" text-anchor="end" font-weight="bold">18.3</text>
<text transform="translate(455.7 864.81) scale(0.78 1)" font-size="5.6" text-anchor="end" font-weight="bold">-15.9</text>
<rect x="348.5" y="866.12" width="107.8" height="6.04" fill="#10b28b"/>
<polygon points="349.4,867.32 352.8,867.32 351.1,871.22" fill="#fff"/>
<text transform="translate(354.1 871.12) scale(0.74 1)" font-size="6" font-weight="bold">85</text>
<text transform="translate(367.3 871.12) scale(0.74 1)" font-size="6" font-weight="bold">Estonia</text>
<text transform="translate(437.2 871.12) scale(0.74 1)" font-size="6" text-anchor="end" font-weight="bold">17.5</text>
<text transform="translate(455.7 871.12) scale(0.78 1)" font-size="5.6" text-anchor="end" font-weight="bold">-11.8</text>
<rect x="348.5" y="872.44" width="107.8" height="6.04" fill="#ec008c"/>
<polygon points="349.4,877.54 352.8,877.54 351.1,873.64" fill="#fff"/>
<text transform="translate(354.1 877.44) scale(0.74 1)" font-size="6" font-weight="bold">86</text>
<text transform="translate(367.3 877.44) scale(0.74 1)" font-size="6" font-weight="bold">Slovenia</text>
<text transform="translate(437.2 877.44) scale(0.74 1)" font-size="6" text-anchor="end" font-weight="bold">17.4</text>
<text transform="translate(455.7 877.44) scale(0.78 1)" font-size="5.6" text-anchor="end" font-weight="bold">0.5</text>
<rect x="348.5" y="878.76" width="107.8" height="6.04" fill="#10b28b"/>
<polygon points="349.4,879.96 352.8,879.96 351.1,883.86" fill="#fff"/>
<text transform="translate(354.1 883.76) scale(0.74 1)" font-size="6" font-weight="bold">87</text>
<text transform="translate(367.3 883.76) scale(0.74 1)" font-size="6" font-weight="bold">Lithuania</text>
<text transform="translate(437.2 883.76) scale(0.74 1)" font-size="6" text-anchor="end" font-weight="bold">15.8</text>
<text transform="translate(455.7 883.76) scale(0.78 1)" font-size="5.6" text-anchor="end" font-weight="bold">-12.8</text>
<rect x="348.5" y="885.08" width="107.8" height="6.04" fill="#f58220"/>
<rect x="349.8" y="887.58" width="2.6" height="1.4" fill="#fff"/>
<text transform="translate(354.1 890.08) scale(0.74 1)" font-size="6" font-weight="bold">88</text>
<text transform="translate(367.3 890.08) scale(0.74 1)" font-size="6" font-weight="bold">Panama</text>
<text transform="translate(437.2 890.08) scale(0.74 1)" font-size="6" text-anchor="end" font-weight="bold">15.5</text>
<text transform="translate(455.7 890.08) scale(0.78 1)" font-size="5.6" text-anchor="end" font-weight="bold">1.7</text>
<rect x="465" y="732.8" width="107.8" height="0.5" fill="#c9c2ba"/>
<text transform="translate(465.2 738.8) scale(0.88 1)" font-size="4.4" font-weight="bold" fill="#111">Rank/</text>
<text transform="translate(465.2 743.65) scale(0.88 1)" font-size="4.4" font-weight="bold" fill="#111">change</text>
<text transform="translate(465.2 748.5) scale(0.88 1)" font-size="4.4" font-weight="bold" fill="#111">on 2008</text>
<text transform="translate(483.8 738.8) scale(0.88 1)" font-size="4.4" font-weight="bold" fill="#111">Country</text>
<text transform="translate(541.8 738.8) scale(0.88 1)" font-size="4.4" font-weight="bold" fill="#111">Million</text>
<text transform="translate(541.8 743.65) scale(0.88 1)" font-size="4.4" font-weight="bold" fill="#111">tonnes</text>
<text transform="translate(541.8 748.5) scale(0.88 1)" font-size="4.4" font-weight="bold" fill="#111">2009</text>
<text transform="translate(558 738.8) scale(0.88 1)" font-size="4.4" font-weight="bold" fill="#111">Percent</text>
<text transform="translate(558 743.65) scale(0.88 1)" font-size="4.4" font-weight="bold" fill="#111">change</text>
<text transform="translate(558 748.5) scale(0.88 1)" font-size="4.4" font-weight="bold" fill="#111">08–09</text>
<rect x="465" y="752.4" width="107.8" height="6.04" fill="#fdb813"/>
<rect x="466.3" y="754.9" width="2.6" height="1.4" fill="#fff"/>
<text transform="translate(470.6 757.4) scale(0.74 1)" font-size="6" font-weight="bold">89</text>
<text transform="translate(483.8 757.4) scale(0.74 1)" font-size="6" font-weight="bold">Lebanon</text>
<text transform="translate(553.7 757.4) scale(0.74 1)" font-size="6" text-anchor="end" font-weight="bold">14.8</text>
<text transform="translate(572.2 757.4) scale(0.78 1)" font-size="5.6" text-anchor="end" font-weight="bold">3.6</text>
<rect x="465" y="758.72" width="107.8" height="6.04" fill="#f58220"/>
<rect x="466.3" y="761.22" width="2.6" height="1.4" fill="#fff"/>
<text transform="translate(470.6 763.72) scale(0.74 1)" font-size="6" font-weight="bold">90</text>
<text transform="translate(483.8 763.72) scale(0.74 1)" font-size="6" font-weight="bold">Bolivia</text>
<text transform="translate(553.7 763.72) scale(0.74 1)" font-size="6" text-anchor="end" font-weight="bold">13.9</text>
<text transform="translate(572.2 763.72) scale(0.78 1)" font-size="5.6" text-anchor="end" font-weight="bold">-2.7</text>
<rect x="465" y="765.04" width="107.8" height="6.04" fill="#8b7355"/>
<polygon points="465.9,770.14 469.3,770.14 467.6,766.24" fill="#fff"/>
<text transform="translate(470.6 770.04) scale(0.74 1)" font-size="6" font-weight="bold">91</text>
<text transform="translate(483.8 770.04) scale(0.74 1)" font-size="6" font-weight="bold">Sudan</text>
<text transform="translate(553.7 770.04) scale(0.74 1)" font-size="6" text-anchor="end" font-weight="bold">13.0</text>
<text transform="translate(572.2 770.04) scale(0.78 1)" font-size="5.6" text-anchor="end" font-weight="bold">7.0</text>
<rect x="465" y="771.35" width="107.8" height="6.04" fill="#00aeef"/>
<polygon points="465.9,776.45 469.3,776.45 467.6,772.55" fill="#fff"/>
<text transform="translate(470.6 776.35) scale(0.74 1)" font-size="6" font-weight="bold">92</text>
<text transform="translate(483.8 776.35) scale(0.74 1)" font-size="6" font-weight="bold">Sri Lanka</text>
<text transform="translate(553.7 776.35) scale(0.74 1)" font-size="6" text-anchor="end" font-weight="bold">12.8</text>
<text transform="translate(572.2 776.35) scale(0.78 1)" font-size="5.6" text-anchor="end" font-weight="bold">1.7</text>
<rect x="465" y="777.67" width="107.8" height="6.04" fill="#00aeef"/>
<polygon points="465.9,778.87 469.3,778.87 467.6,782.77" fill="#fff"/>
<text transform="translate(470.6 782.67) scale(0.74 1)" font-size="6" font-weight="bold">93</text>
<text transform="translate(483.8 782.67) scale(0.74 1)" font-size="6" font-weight="bold">Burma</text>
<text transform="translate(553.7 782.67) scale(0.74 1)" font-size="6" text-anchor="end" font-weight="bold">12.5</text>
<text transform="translate(572.2 782.67) scale(0.78 1)" font-size="5.6" text-anchor="end" font-weight="bold">-9.5</text>
<rect x="465" y="783.99" width="107.8" height="6.04" fill="#f58220"/>
<polygon points="465.9,785.19 469.3,785.19 467.6,789.09" fill="#fff"/>
<text transform="translate(470.6 788.99) scale(0.74 1)" font-size="6" font-weight="bold">94</text>
<text transform="translate(483.8 788.99) scale(0.74 1)" font-size="6" font-weight="bold">US Virgin Islands</text>
<text transform="translate(553.7 788.99) scale(0.74 1)" font-size="6" text-anchor="end" font-weight="bold">12.5</text>
<text transform="translate(572.2 788.99) scale(0.78 1)" font-size="5.6" text-anchor="end" font-weight="bold">-3.5</text>
<rect x="465" y="790.31" width="107.8" height="6.04" fill="#f58220"/>
<polygon points="465.9,791.51 469.3,791.51 467.6,795.41" fill="#fff"/>
<text transform="translate(470.6 795.31) scale(0.74 1)" font-size="6" font-weight="bold">95</text>
<text transform="translate(483.8 795.31) scale(0.74 1)" font-size="6" font-weight="bold">Jamaica</text>
<text transform="translate(553.7 795.31) scale(0.74 1)" font-size="6" text-anchor="end" font-weight="bold">12.1</text>
<text transform="translate(572.2 795.31) scale(0.78 1)" font-size="5.6" text-anchor="end" font-weight="bold">-4.6</text>
<rect x="465" y="796.63" width="107.8" height="6.04" fill="#f58220"/>
<rect x="466.3" y="799.13" width="2.6" height="1.4" fill="#fff"/>
<text transform="translate(470.6 801.63) scale(0.74 1)" font-size="6" font-weight="bold">96</text>
<text transform="translate(483.8 801.63) scale(0.74 1)" font-size="6" font-weight="bold">Netherlands Antilles</text>
<text transform="translate(553.7 801.63) scale(0.74 1)" font-size="6" text-anchor="end" font-weight="bold">11.6</text>
<text transform="translate(572.2 801.63) scale(0.78 1)" font-size="5.6" text-anchor="end" font-weight="bold">-4.1</text>
<rect x="465" y="802.94" width="107.8" height="6.04" fill="#8b7355"/>
<polygon points="465.9,808.04 469.3,808.04 467.6,804.14" fill="#fff"/>
<text transform="translate(470.6 807.94) scale(0.74 1)" font-size="6" font-weight="bold">97</text>
<text transform="translate(483.8 807.94) scale(0.74 1)" font-size="6" font-weight="bold">Kenya</text>
<text transform="translate(553.7 807.94) scale(0.74 1)" font-size="6" text-anchor="end" font-weight="bold">11.5</text>
<text transform="translate(572.2 807.94) scale(0.78 1)" font-size="5.6" text-anchor="end" font-weight="bold">2.4</text>
<rect x="465" y="809.26" width="107.8" height="6.04" fill="#f58220"/>
<rect x="466.3" y="811.76" width="2.6" height="1.4" fill="#fff"/>
<text transform="translate(470.6 814.26) scale(0.74 1)" font-size="6" font-weight="bold">98</text>
<text transform="translate(483.8 814.26) scale(0.74 1)" font-size="6" font-weight="bold">Guatemala</text>
<text transform="translate(553.7 814.26) scale(0.74 1)" font-size="6" text-anchor="end" font-weight="bold">11.3</text>
<text transform="translate(572.2 814.26) scale(0.78 1)" font-size="5.6" text-anchor="end" font-weight="bold">-1.4</text>
<rect x="465" y="815.58" width="107.8" height="6.04" fill="#10b28b"/>
<polygon points="465.9,820.68 469.3,820.68 467.6,816.78" fill="#fff"/>
<text transform="translate(470.6 820.58) scale(0.74 1)" font-size="6" font-weight="bold">99</text>
<text transform="translate(483.8 820.58) scale(0.74 1)" font-size="6" font-weight="bold">Armenia</text>
<text transform="translate(553.7 820.58) scale(0.74 1)" font-size="6" text-anchor="end" font-weight="bold">11.2</text>
<text transform="translate(572.2 820.58) scale(0.78 1)" font-size="5.6" text-anchor="end" font-weight="bold">1.5</text>
<rect x="465" y="821.9" width="107.8" height="6.04" fill="#8b7355"/>
<polygon points="465.9,827 469.3,827 467.6,823.1" fill="#fff"/>
<text transform="translate(470.6 826.9) scale(0.74 1)" font-size="6" font-weight="bold">100</text>
<text transform="translate(483.8 826.9) scale(0.74 1)" font-size="6" font-weight="bold">Zimbabwe</text>
<text transform="translate(553.7 826.9) scale(0.74 1)" font-size="6" text-anchor="end" font-weight="bold">10.6</text>
<text transform="translate(572.2 826.9) scale(0.78 1)" font-size="5.6" text-anchor="end" font-weight="bold">18.6</text>
<rect x="465" y="828.22" width="107.8" height="6.04" fill="#ec008c"/>
<polygon points="465.9,829.42 469.3,829.42 467.6,833.32" fill="#fff"/>
<text transform="translate(470.6 833.22) scale(0.74 1)" font-size="6" font-weight="bold">101</text>
<text transform="translate(483.8 833.22) scale(0.74 1)" font-size="6" font-weight="bold">Luxembourg</text>
<text transform="translate(553.7 833.22) scale(0.74 1)" font-size="6" text-anchor="end" font-weight="bold">10.6</text>
<text transform="translate(572.2 833.22) scale(0.78 1)" font-size="5.6" text-anchor="end" font-weight="bold">-11.2</text>
<rect x="465" y="834.53" width="107.8" height="6.04" fill="#ec008c"/>
<rect x="466.3" y="837.03" width="2.6" height="1.4" fill="#fff"/>
<text transform="translate(470.6 839.53) scale(0.74 1)" font-size="6" font-weight="bold">102</text>
<text transform="translate(483.8 839.53) scale(0.74 1)" font-size="6" font-weight="bold">Cyprus</text>
<text transform="translate(553.7 839.53) scale(0.74 1)" font-size="6" text-anchor="end" font-weight="bold">9.4</text>
<text transform="translate(572.2 839.53) scale(0.78 1)" font-size="5.6" text-anchor="end" font-weight="bold">-3.5</text>
<rect x="465" y="840.85" width="107.8" height="6.04" fill="#10b28b"/>
<polygon points="465.9,845.95 469.3,845.95 467.6,842.05" fill="#fff"/>
<text transform="translate(470.6 845.85) scale(0.74 1)" font-size="6" font-weight="bold">103</text>
<text transform="translate(483.8 845.85) scale(0.74 1)" font-size="6" font-weight="bold">Latvia</text>
<text transform="translate(553.7 845.85) scale(0.74 1)" font-size="6" text-anchor="end" font-weight="bold">8.5</text>
<text transform="translate(572.2 845.85) scale(0.78 1)" font-size="5.6" text-anchor="end" font-weight="bold">8.1</text>
<rect x="465" y="847.17" width="107.8" height="6.04" fill="#8b7355"/>
<polygon points="465.9,852.27 469.3,852.27 467.6,848.37" fill="#fff"/>
<text transform="translate(470.6 852.17) scale(0.74 1)" font-size="6" font-weight="bold">104</text>
<text transform="translate(483.8 852.17) scale(0.74 1)" font-size="6" font-weight="bold">Ghana</text>
<text transform="translate(553.7 852.17) scale(0.74 1)" font-size="6" text-anchor="end" font-weight="bold">8.1</text>
<text transform="translate(572.2 852.17) scale(0.78 1)" font-size="5.6" text-anchor="end" font-weight="bold">9.6</text>
<rect x="465" y="853.49" width="107.8" height="6.04" fill="#f58220"/>
<rect x="466.3" y="855.99" width="2.6" height="1.4" fill="#fff"/>
<text transform="translate(470.6 858.49) scale(0.74 1)" font-size="6" font-weight="bold">105</text>
<text transform="translate(483.8 858.49) scale(0.74 1)" font-size="6" font-weight="bold">Honduras</text>
<text transform="translate(553.7 858.49) scale(0.74 1)" font-size="6" text-anchor="end" font-weight="bold">7.9</text>
<text transform="translate(572.2 858.49) scale(0.78 1)" font-size="5.6" text-anchor="end" font-weight="bold">-2.4</text>
<rect x="465" y="859.81" width="107.8" height="6.04" fill="#00aeef"/>
<polygon points="465.9,861.01 469.3,861.01 467.6,864.91" fill="#fff"/>
<text transform="translate(470.6 864.81) scale(0.74 1)" font-size="6" font-weight="bold">106</text>
<text transform="translate(483.8 864.81) scale(0.74 1)" font-size="6" font-weight="bold">Brunei</text>
<text transform="translate(553.7 864.81) scale(0.74 1)" font-size="6" text-anchor="end" font-weight="bold">7.6</text>
<text transform="translate(572.2 864.81) scale(0.78 1)" font-size="5.6" text-anchor="end" font-weight="bold">-27.1</text>
<rect x="465" y="866.12" width="107.8" height="6.04" fill="#8b7355"/>
<polygon points="465.9,871.22 469.3,871.22 467.6,867.32" fill="#fff"/>
<text transform="translate(470.6 871.12) scale(0.74 1)" font-size="6" font-weight="bold">107</text>
<text transform="translate(483.8 871.12) scale(0.74 1)" font-size="6" font-weight="bold">Cameroon</text>
<text transform="translate(553.7 871.12) scale(0.74 1)" font-size="6" text-anchor="end" font-weight="bold">7.5</text>
<text transform="translate(572.2 871.12) scale(0.78 1)" font-size="5.6" text-anchor="end" font-weight="bold">-1.9</text>
<rect x="465" y="872.44" width="107.8" height="6.04" fill="#00aeef"/>
<rect x="466.3" y="874.94" width="2.6" height="1.4" fill="#fff"/>
<text transform="translate(470.6 877.44) scale(0.74 1)" font-size="6" font-weight="bold">108</text>
<text transform="translate(483.8 877.44) scale(0.74 1)" font-size="6" font-weight="bold">Mongolia</text>
<text transform="translate(553.7 877.44) scale(0.74 1)" font-size="6" text-anchor="end" font-weight="bold">7.4</text>
<text transform="translate(572.2 877.44) scale(0.78 1)" font-size="5.6" text-anchor="end" font-weight="bold">-1.8</text>
<rect x="465" y="878.76" width="107.8" height="6.04" fill="#ec008c"/>
<polygon points="465.9,879.96 469.3,879.96 467.6,883.86" fill="#fff"/>
<text transform="translate(470.6 883.76) scale(0.74 1)" font-size="6" font-weight="bold">109</text>
<text transform="translate(483.8 883.76) scale(0.74 1)" font-size="6" font-weight="bold">Macedonia</text>
<text transform="translate(553.7 883.76) scale(0.74 1)" font-size="6" text-anchor="end" font-weight="bold">7.3</text>
<text transform="translate(572.2 883.76) scale(0.78 1)" font-size="5.6" text-anchor="end" font-weight="bold">-20.1</text>
<rect x="465" y="885.08" width="107.8" height="6.04" fill="#f58220"/>
<polygon points="465.9,886.28 469.3,886.28 467.6,890.18" fill="#fff"/>
<text transform="translate(470.6 890.08) scale(0.74 1)" font-size="6" font-weight="bold">110</text>
<text transform="translate(483.8 890.08) scale(0.74 1)" font-size="6" font-weight="bold">Uruguay</text>
<text transform="translate(553.7 890.08) scale(0.74 1)" font-size="6" text-anchor="end" font-weight="bold">7.2</text>
<text transform="translate(572.2 890.08) scale(0.78 1)" font-size="5.6" text-anchor="end" font-weight="bold">-10.2</text>
<rect x="628" y="732.8" width="107.8" height="0.5" fill="#c9c2ba"/>
<text transform="translate(628.2 738.8) scale(0.88 1)" font-size="4.4" font-weight="bold" fill="#111">Rank/</text>
<text transform="translate(628.2 743.65) scale(0.88 1)" font-size="4.4" font-weight="bold" fill="#111">change</text>
<text transform="translate(628.2 748.5) scale(0.88 1)" font-size="4.4" font-weight="bold" fill="#111">on 2008</text>
<text transform="translate(646.8 738.8) scale(0.88 1)" font-size="4.4" font-weight="bold" fill="#111">Country</text>
<text transform="translate(704.8 738.8) scale(0.88 1)" font-size="4.4" font-weight="bold" fill="#111">Million</text>
<text transform="translate(704.8 743.65) scale(0.88 1)" font-size="4.4" font-weight="bold" fill="#111">tonnes</text>
<text transform="translate(704.8 748.5) scale(0.88 1)" font-size="4.4" font-weight="bold" fill="#111">2009</text>
<text transform="translate(721 738.8) scale(0.88 1)" font-size="4.4" font-weight="bold" fill="#111">Percent</text>
<text transform="translate(721 743.65) scale(0.88 1)" font-size="4.4" font-weight="bold" fill="#111">change</text>
<text transform="translate(721 748.5) scale(0.88 1)" font-size="4.4" font-weight="bold" fill="#111">08–09</text>
<rect x="628" y="752.4" width="107.8" height="6.04" fill="#10b28b"/>
<rect x="629.3" y="754.9" width="2.6" height="1.4" fill="#fff"/>
<text transform="translate(633.6 757.4) scale(0.74 1)" font-size="6" font-weight="bold">111</text>
<text transform="translate(646.8 757.4) scale(0.74 1)" font-size="6" font-weight="bold">Moldova</text>
<text transform="translate(716.7 757.4) scale(0.74 1)" font-size="6" text-anchor="end" font-weight="bold">7.1</text>
<text transform="translate(735.2 757.4) scale(0.78 1)" font-size="5.6" text-anchor="end" font-weight="bold">-4.1</text>
<rect x="628" y="758.72" width="107.8" height="6.04" fill="#8b7355"/>
<polygon points="628.9,763.82 632.3,763.82 630.6,759.92" fill="#fff"/>
<text transform="translate(633.6 763.72) scale(0.74 1)" font-size="6" font-weight="bold">112</text>
<text transform="translate(646.8 763.72) scale(0.74 1)" font-size="6" font-weight="bold">Ethiopia</text>
<text transform="translate(716.7 763.72) scale(0.74 1)" font-size="6" text-anchor="end" font-weight="bold">6.9</text>
<text transform="translate(735.2 763.72) scale(0.78 1)" font-size="5.6" text-anchor="end" font-weight="bold">7.1</text>
<rect x="628" y="765.04" width="107.8" height="6.04" fill="#f58220"/>
<polygon points="628.9,766.24 632.3,766.24 630.6,770.14" fill="#fff"/>
<text transform="translate(633.6 770.04) scale(0.74 1)" font-size="6" font-weight="bold">113</text>
<text transform="translate(646.8 770.04) scale(0.74 1)" font-size="6" font-weight="bold">Costa Rica</text>
<text transform="translate(716.7 770.04) scale(0.74 1)" font-size="6" text-anchor="end" font-weight="bold">6.8</text>
<text transform="translate(735.2 770.04) scale(0.78 1)" font-size="5.6" text-anchor="end" font-weight="bold">-4.4</text>
<rect x="628" y="771.35" width="107.8" height="6.04" fill="#8b7355"/>
<polygon points="628.9,776.45 632.3,776.45 630.6,772.55" fill="#fff"/>
<text transform="translate(633.6 776.35) scale(0.74 1)" font-size="6" font-weight="bold">114</text>
<text transform="translate(646.8 776.35) scale(0.74 1)" font-size="6" font-weight="bold">Tanzania</text>
<text transform="translate(716.7 776.35) scale(0.74 1)" font-size="6" text-anchor="end" font-weight="bold">6.7</text>
<text transform="translate(735.2 776.35) scale(0.78 1)" font-size="5.6" text-anchor="end" font-weight="bold">7.1</text>
<rect x="628" y="777.67" width="107.8" height="6.04" fill="#8b7355"/>
<polygon points="628.9,778.87 632.3,778.87 630.6,782.77" fill="#fff"/>
<text transform="translate(633.6 782.67) scale(0.74 1)" font-size="6" font-weight="bold">115</text>
<text transform="translate(646.8 782.67) scale(0.74 1)" font-size="6" font-weight="bold">IvoryCoast</text>
<text transform="translate(716.7 782.67) scale(0.74 1)" font-size="6" text-anchor="end" font-weight="bold">6.6</text>
<text transform="translate(735.2 782.67) scale(0.78 1)" font-size="5.6" text-anchor="end" font-weight="bold">2.2</text>
<rect x="628" y="783.99" width="107.8" height="6.04" fill="#8b7355"/>
<polygon points="628.9,789.09 632.3,789.09 630.6,785.19" fill="#fff"/>
<text transform="translate(633.6 788.99) scale(0.74 1)" font-size="6" font-weight="bold">116</text>
<text transform="translate(646.8 788.99) scale(0.74 1)" font-size="6" font-weight="bold">Congo</text>
<text transform="translate(716.7 788.99) scale(0.74 1)" font-size="6" text-anchor="end" font-weight="bold">6.3</text>
<text transform="translate(735.2 788.99) scale(0.78 1)" font-size="5.6" text-anchor="end" font-weight="bold">3.8</text>
<rect x="628" y="790.31" width="107.8" height="6.04" fill="#8b7355"/>
<rect x="629.3" y="792.81" width="2.6" height="1.4" fill="#fff"/>
<text transform="translate(633.6 795.31) scale(0.74 1)" font-size="6" font-weight="bold">117</text>
<text transform="translate(646.8 795.31) scale(0.74 1)" font-size="6" font-weight="bold">Senegal</text>
<text transform="translate(716.7 795.31) scale(0.74 1)" font-size="6" text-anchor="end" font-weight="bold">6.3</text>
<text transform="translate(735.2 795.31) scale(0.78 1)" font-size="5.6" text-anchor="end" font-weight="bold">1.8</text>
<rect x="628" y="796.63" width="107.8" height="6.04" fill="#10b28b"/>
<polygon points="628.9,797.83 632.3,797.83 630.6,801.73" fill="#fff"/>
<text transform="translate(633.6 801.63) scale(0.74 1)" font-size="6" font-weight="bold">118</text>
<text transform="translate(646.8 801.63) scale(0.74 1)" font-size="6" font-weight="bold">Tajikistan</text>
<text transform="translate(716.7 801.63) scale(0.74 1)" font-size="6" text-anchor="end" font-weight="bold">6.1</text>
<text transform="translate(735.2 801.63) scale(0.78 1)" font-size="5.6" text-anchor="end" font-weight="bold">-10.4</text>
<rect x="628" y="802.94" width="107.8" height="6.04" fill="#f58220"/>
<rect x="629.3" y="805.44" width="2.6" height="1.4" fill="#fff"/>
<text transform="translate(633.6 807.94) scale(0.74 1)" font-size="6" font-weight="bold">119</text>
<text transform="translate(646.8 807.94) scale(0.74 1)" font-size="6" font-weight="bold">El Salvador</text>
<text transform="translate(716.7 807.94) scale(0.74 1)" font-size="6" text-anchor="end" font-weight="bold">5.9</text>
<text transform="translate(735.2 807.94) scale(0.78 1)" font-size="5.6" text-anchor="end" font-weight="bold">0.0</text>
<rect x="628" y="809.26" width="107.8" height="6.04" fill="#10b28b"/>
<rect x="629.3" y="811.76" width="2.6" height="1.4" fill="#fff"/>
<text transform="translate(633.6 814.26) scale(0.74 1)" font-size="6" font-weight="bold">120</text>
<text transform="translate(646.8 814.26) scale(0.74 1)" font-size="6" font-weight="bold">Kyrgyzstan</text>
<text transform="translate(716.7 814.26) scale(0.74 1)" font-size="6" text-anchor="end" font-weight="bold">5.7</text>
<text transform="translate(735.2 814.26) scale(0.78 1)" font-size="5.6" text-anchor="end" font-weight="bold">-0.4</text>
<rect x="628" y="815.58" width="107.8" height="6.04" fill="#10b28b"/>
<rect x="629.3" y="818.08" width="2.6" height="1.4" fill="#fff"/>
<text transform="translate(633.6 820.58) scale(0.74 1)" font-size="6" font-weight="bold">121</text>
<text transform="translate(646.8 820.58) scale(0.74 1)" font-size="6" font-weight="bold">Georgia</text>
<text transform="translate(716.7 820.58) scale(0.74 1)" font-size="6" text-anchor="end" font-weight="bold">5.3</text>
<text transform="translate(735.2 820.58) scale(0.78 1)" font-size="5.6" text-anchor="end" font-weight="bold">-4.9</text>
<rect x="628" y="821.9" width="107.8" height="6.04" fill="#f58220"/>
<rect x="629.3" y="824.4" width="2.6" height="1.4" fill="#fff"/>
<text transform="translate(633.6 826.9) scale(0.74 1)" font-size="6" font-weight="bold">122</text>
<text transform="translate(646.8 826.9) scale(0.74 1)" font-size="6" font-weight="bold">Bahamas</text>
<text transform="translate(716.7 826.9) scale(0.74 1)" font-size="6" text-anchor="end" font-weight="bold">5.2</text>
<text transform="translate(735.2 826.9) scale(0.78 1)" font-size="5.6" text-anchor="end" font-weight="bold">3.1</text>
<rect x="628" y="828.22" width="107.8" height="6.04" fill="#00aeef"/>
<polygon points="628.9,833.32 632.3,833.32 630.6,829.42" fill="#fff"/>
<text transform="translate(633.6 833.22) scale(0.74 1)" font-size="6" font-weight="bold">123</text>
<text transform="translate(646.8 833.22) scale(0.74 1)" font-size="6" font-weight="bold">Papua New Guinea</text>
<text transform="translate(716.7 833.22) scale(0.74 1)" font-size="6" text-anchor="end" font-weight="bold">4.8</text>
<text transform="translate(735.2 833.22) scale(0.78 1)" font-size="5.6" text-anchor="end" font-weight="bold">6.7</text>
<rect x="628" y="834.53" width="107.8" height="6.04" fill="#ec008c"/>
<polygon points="628.9,839.63 632.3,839.63 630.6,835.73" fill="#fff"/>
<text transform="translate(633.6 839.53) scale(0.74 1)" font-size="6" font-weight="bold">124</text>
<text transform="translate(646.8 839.53) scale(0.74 1)" font-size="6" font-weight="bold">Albania</text>
<text transform="translate(716.7 839.53) scale(0.74 1)" font-size="6" text-anchor="end" font-weight="bold">4.6</text>
<text transform="translate(735.2 839.53) scale(0.78 1)" font-size="5.6" text-anchor="end" font-weight="bold">3.8</text>
<rect x="628" y="840.85" width="107.8" height="6.04" fill="#8b7355"/>
<polygon points="628.9,842.05 632.3,842.05 630.6,845.95" fill="#fff"/>
<text transform="translate(633.6 845.85) scale(0.74 1)" font-size="6" font-weight="bold">125</text>
<text transform="translate(646.8 845.85) scale(0.74 1)" font-size="6" font-weight="bold">Equatorial Guinea</text>
<text transform="translate(716.7 845.85) scale(0.74 1)" font-size="6" text-anchor="end" font-weight="bold">4.6</text>
<text transform="translate(735.2 845.85) scale(0.78 1)" font-size="5.6" text-anchor="end" font-weight="bold">-2.1</text>
<rect x="628" y="847.17" width="107.8" height="6.04" fill="#8b7355"/>
<polygon points="628.9,848.37 632.3,848.37 630.6,852.27" fill="#fff"/>
<text transform="translate(633.6 852.17) scale(0.74 1)" font-size="6" font-weight="bold">126</text>
<text transform="translate(646.8 852.17) scale(0.74 1)" font-size="6" font-weight="bold">Gabon</text>
<text transform="translate(716.7 852.17) scale(0.74 1)" font-size="6" text-anchor="end" font-weight="bold">4.6</text>
<text transform="translate(735.2 852.17) scale(0.78 1)" font-size="5.6" text-anchor="end" font-weight="bold">-3.2</text>
<rect x="628" y="853.49" width="107.8" height="6.04" fill="#8b7355"/>
<polygon points="628.9,854.69 632.3,854.69 630.6,858.59" fill="#fff"/>
<text transform="translate(633.6 858.49) scale(0.74 1)" font-size="6" font-weight="bold">127</text>
<text transform="translate(646.8 858.49) scale(0.74 1)" font-size="6" font-weight="bold">Mauritius</text>
<text transform="translate(716.7 858.49) scale(0.74 1)" font-size="6" text-anchor="end" font-weight="bold">4.6</text>
<text transform="translate(735.2 858.49) scale(0.78 1)" font-size="5.6" text-anchor="end" font-weight="bold">-1.0</text>
<rect x="628" y="859.81" width="107.8" height="6.04" fill="#8b7355"/>
<polygon points="628.9,864.91 632.3,864.91 630.6,861.01" fill="#fff"/>
<text transform="translate(633.6 864.81) scale(0.74 1)" font-size="6" font-weight="bold">128</text>
<text transform="translate(646.8 864.81) scale(0.74 1)" font-size="6" font-weight="bold">Botswana</text>
<text transform="translate(716.7 864.81) scale(0.74 1)" font-size="6" text-anchor="end" font-weight="bold">4.5</text>
<text transform="translate(735.2 864.81) scale(0.78 1)" font-size="5.6" text-anchor="end" font-weight="bold">7.7</text>
<rect x="628" y="866.12" width="107.8" height="6.04" fill="#f58220"/>
<polygon points="628.9,867.32 632.3,867.32 630.6,871.22" fill="#fff"/>
<text transform="translate(633.6 871.12) scale(0.74 1)" font-size="6" font-weight="bold">129</text>
<text transform="translate(646.8 871.12) scale(0.74 1)" font-size="6" font-weight="bold">Nicaragua</text>
<text transform="translate(716.7 871.12) scale(0.74 1)" font-size="6" text-anchor="end" font-weight="bold">4.5</text>
<text transform="translate(735.2 871.12) scale(0.78 1)" font-size="5.6" text-anchor="end" font-weight="bold">-2.9</text>
<rect x="628" y="872.44" width="107.8" height="6.04" fill="#ec008c"/>
<polygon points="628.9,873.64 632.3,873.64 630.6,877.54" fill="#fff"/>
<text transform="translate(633.6 877.44) scale(0.74 1)" font-size="6" font-weight="bold">130</text>
<text transform="translate(646.8 877.44) scale(0.74 1)" font-size="6" font-weight="bold">Gibraltar</text>
<text transform="translate(716.7 877.44) scale(0.74 1)" font-size="6" text-anchor="end" font-weight="bold">4.4</text>
<text transform="translate(735.2 877.44) scale(0.78 1)" font-size="5.6" text-anchor="end" font-weight="bold">-3.8</text>
<rect x="628" y="878.76" width="107.8" height="6.04" fill="#8b7355"/>
<polygon points="628.9,883.86 632.3,883.86 630.6,879.96" fill="#fff"/>
<text transform="translate(633.6 883.76) scale(0.74 1)" font-size="6" font-weight="bold">131</text>
<text transform="translate(646.8 883.76) scale(0.74 1)" font-size="6" font-weight="bold">Namibia</text>
<text transform="translate(716.7 883.76) scale(0.74 1)" font-size="6" text-anchor="end" font-weight="bold">4.1</text>
<text transform="translate(735.2 883.76) scale(0.78 1)" font-size="5.6" text-anchor="end" font-weight="bold">3.7</text>
<rect x="628" y="885.08" width="107.8" height="6.04" fill="#f58220"/>
<polygon points="628.9,890.18 632.3,890.18 630.6,886.28" fill="#fff"/>
<text transform="translate(633.6 890.08) scale(0.74 1)" font-size="6" font-weight="bold">132</text>
<text transform="translate(646.8 890.08) scale(0.74 1)" font-size="6" font-weight="bold">Paraguay</text>
<text transform="translate(716.7 890.08) scale(0.74 1)" font-size="6" text-anchor="end" font-weight="bold">4.0</text>
<text transform="translate(735.2 890.08) scale(0.78 1)" font-size="5.6" text-anchor="end" font-weight="bold">3.7</text>
<rect x="744.25" y="732.8" width="107.8" height="0.5" fill="#c9c2ba"/>
<text transform="translate(744.45 738.8) scale(0.88 1)" font-size="4.4" font-weight="bold" fill="#111">Rank/</text>
<text transform="translate(744.45 743.65) scale(0.88 1)" font-size="4.4" font-weight="bold" fill="#111">change</text>
<text transform="translate(744.45 748.5) scale(0.88 1)" font-size="4.4" font-weight="bold" fill="#111">on 2008</text>
<text transform="translate(763.05 738.8) scale(0.88 1)" font-size="4.4" font-weight="bold" fill="#111">Country</text>
<text transform="translate(821.05 738.8) scale(0.88 1)" font-size="4.4" font-weight="bold" fill="#111">Million</text>
<text transform="translate(821.05 743.65) scale(0.88 1)" font-size="4.4" font-weight="bold" fill="#111">tonnes</text>
<text transform="translate(821.05 748.5) scale(0.88 1)" font-size="4.4" font-weight="bold" fill="#111">2009</text>
<text transform="translate(837.25 738.8) scale(0.88 1)" font-size="4.4" font-weight="bold" fill="#111">Percent</text>
<text transform="translate(837.25 743.65) scale(0.88 1)" font-size="4.4" font-weight="bold" fill="#111">change</text>
<text transform="translate(837.25 748.5) scale(0.88 1)" font-size="4.4" font-weight="bold" fill="#111">08–09</text>
<rect x="744.25" y="752.4" width="107.8" height="6.04" fill="#00aeef"/>
<polygon points="745.15,753.6 748.55,753.6 746.85,757.5" fill="#fff"/>
<text transform="translate(749.85 757.4) scale(0.74 1)" font-size="6" font-weight="bold">133</text>
<text transform="translate(763.05 757.4) scale(0.74 1)" font-size="6" font-weight="bold">Cambodia</text>
<text transform="translate(832.95 757.4) scale(0.74 1)" font-size="6" text-anchor="end" font-weight="bold">3.9</text>
<text transform="translate(851.45 757.4) scale(0.78 1)" font-size="5.6" text-anchor="end" font-weight="bold">-6.1</text>
<rect x="744.25" y="758.72" width="107.8" height="6.04" fill="#8b7355"/>
<polygon points="745.15,763.82 748.55,763.82 746.85,759.92" fill="#fff"/>
<text transform="translate(749.85 763.72) scale(0.74 1)" font-size="6" font-weight="bold">134</text>
<text transform="translate(763.05 763.72) scale(0.74 1)" font-size="6" font-weight="bold">Benin</text>
<text transform="translate(832.95 763.72) scale(0.74 1)" font-size="6" text-anchor="end" font-weight="bold">3.5</text>
<text transform="translate(851.45 763.72) scale(0.78 1)" font-size="5.6" text-anchor="end" font-weight="bold">4.3</text>
<rect x="744.25" y="765.04" width="107.8" height="6.04" fill="#00aeef"/>
<polygon points="745.15,770.14 748.55,770.14 746.85,766.24" fill="#fff"/>
<text transform="translate(749.85 770.04) scale(0.74 1)" font-size="6" font-weight="bold">135</text>
<text transform="translate(763.05 770.04) scale(0.74 1)" font-size="6" font-weight="bold">Nepal</text>
<text transform="translate(832.95 770.04) scale(0.74 1)" font-size="6" text-anchor="end" font-weight="bold">3.4</text>
<text transform="translate(851.45 770.04) scale(0.78 1)" font-size="5.6" text-anchor="end" font-weight="bold">3.8</text>
<rect x="744.25" y="771.35" width="107.8" height="6.04" fill="#ec008c"/>
<polygon points="745.15,772.55 748.55,772.55 746.85,776.45" fill="#fff"/>
<text transform="translate(749.85 776.35) scale(0.74 1)" font-size="6" font-weight="bold">136</text>
<text transform="translate(763.05 776.35) scale(0.74 1)" font-size="6" font-weight="bold">Iceland</text>
<text transform="translate(832.95 776.35) scale(0.74 1)" font-size="6" text-anchor="end" font-weight="bold">3.4</text>
<text transform="translate(851.45 776.35) scale(0.78 1)" font-size="5.6" text-anchor="end" font-weight="bold">-7.4</text>
<rect x="744.25" y="777.67" width="107.8" height="6.04" fill="#fdb813"/>
<polygon points="745.15,782.77 748.55,782.77 746.85,778.87" fill="#fff"/>
<text transform="translate(749.85 782.67) scale(0.74 1)" font-size="6" font-weight="bold">137</text>
<text transform="translate(763.05 782.67) scale(0.74 1)" font-size="6" font-weight="bold">Palestine</text>
<text transform="translate(832.95 782.67) scale(0.74 1)" font-size="6" text-anchor="end" font-weight="bold">3.2</text>
<text transform="translate(851.45 782.67) scale(0.78 1)" font-size="5.6" text-anchor="end" font-weight="bold">4.3</text>
<rect x="744.25" y="783.99" width="107.8" height="6.04" fill="#8b7355"/>
<polygon points="745.15,789.09 748.55,789.09 746.85,785.19" fill="#fff"/>
<text transform="translate(749.85 788.99) scale(0.74 1)" font-size="6" font-weight="bold">138</text>
<text transform="translate(763.05 788.99) scale(0.74 1)" font-size="6" font-weight="bold">Madagascar</text>
<text transform="translate(832.95 788.99) scale(0.74 1)" font-size="6" text-anchor="end" font-weight="bold">3.1</text>
<text transform="translate(851.45 788.99) scale(0.78 1)" font-size="5.6" text-anchor="end" font-weight="bold">13.4</text>
<rect x="744.25" y="790.31" width="107.8" height="6.04" fill="#ec008c"/>
<polygon points="745.15,791.51 748.55,791.51 746.85,795.41" fill="#fff"/>
<text transform="translate(749.85 795.31) scale(0.74 1)" font-size="6" font-weight="bold">139</text>
<text transform="translate(763.05 795.31) scale(0.74 1)" font-size="6" font-weight="bold">Malta</text>
<text transform="translate(832.95 795.31) scale(0.74 1)" font-size="6" text-anchor="end" font-weight="bold">3.1</text>
<text transform="translate(851.45 795.31) scale(0.78 1)" font-size="5.6" text-anchor="end" font-weight="bold">-2.5</text>
<rect x="744.25" y="796.63" width="107.8" height="6.04" fill="#00aeef"/>
<polygon points="745.15,797.83 748.55,797.83 746.85,801.73" fill="#fff"/>
<text transform="translate(749.85 801.63) scale(0.74 1)" font-size="6" font-weight="bold">140</text>
<text transform="translate(763.05 801.63) scale(0.74 1)" font-size="6" font-weight="bold">New Caledonia</text>
<text transform="translate(832.95 801.63) scale(0.74 1)" font-size="6" text-anchor="end" font-weight="bold">3.0</text>
<text transform="translate(851.45 801.63) scale(0.78 1)" font-size="5.6" text-anchor="end" font-weight="bold">0.0</text>
<rect x="744.25" y="802.94" width="107.8" height="6.04" fill="#8b7355"/>
<polygon points="745.15,808.04 748.55,808.04 746.85,804.14" fill="#fff"/>
<text transform="translate(749.85 807.94) scale(0.74 1)" font-size="6" font-weight="bold">141</text>
<text transform="translate(763.05 807.94) scale(0.74 1)" font-size="6" font-weight="bold">Togo</text>
<text transform="translate(832.95 807.94) scale(0.74 1)" font-size="6" text-anchor="end" font-weight="bold">2.8</text>
<text transform="translate(851.45 807.94) scale(0.78 1)" font-size="5.6" text-anchor="end" font-weight="bold">5.6</text>
<rect x="744.25" y="809.26" width="107.8" height="6.04" fill="#8b7355"/>
<polygon points="745.15,810.46 748.55,810.46 746.85,814.36" fill="#fff"/>
<text transform="translate(749.85 814.26) scale(0.74 1)" font-size="6" font-weight="bold">142</text>
<text transform="translate(763.05 814.26) scale(0.74 1)" font-size="6" font-weight="bold">Reunion</text>
<text transform="translate(832.95 814.26) scale(0.74 1)" font-size="6" text-anchor="end" font-weight="bold">2.8</text>
<text transform="translate(851.45 814.26) scale(0.78 1)" font-size="5.6" text-anchor="end" font-weight="bold">0.0</text>
<rect x="744.25" y="815.58" width="107.8" height="6.04" fill="#8b7355"/>
<polygon points="745.15,820.68 748.55,820.68 746.85,816.78" fill="#fff"/>
<text transform="translate(749.85 820.58) scale(0.74 1)" font-size="6" font-weight="bold">143</text>
<text transform="translate(763.05 820.58) scale(0.74 1)" font-size="6" font-weight="bold">Mauritania</text>
<text transform="translate(832.95 820.58) scale(0.74 1)" font-size="6" text-anchor="end" font-weight="bold">2.7</text>
<text transform="translate(851.45 820.58) scale(0.78 1)" font-size="5.6" text-anchor="end" font-weight="bold">5.3</text>
<rect x="744.25" y="821.9" width="107.8" height="6.04" fill="#8b7355"/>
<polygon points="745.15,827 748.55,827 746.85,823.1" fill="#fff"/>
<text transform="translate(749.85 826.9) scale(0.74 1)" font-size="6" font-weight="bold">144</text>
<text transform="translate(763.05 826.9) scale(0.74 1)" font-size="6" font-weight="bold">Zambia</text>
<text transform="translate(832.95 826.9) scale(0.74 1)" font-size="6" text-anchor="end" font-weight="bold">2.7</text>
<text transform="translate(851.45 826.9) scale(0.78 1)" font-size="5.6" text-anchor="end" font-weight="bold">18.8</text>
<rect x="744.25" y="828.22" width="107.8" height="6.04" fill="#8b7355"/>
<polygon points="745.15,829.42 748.55,829.42 746.85,833.32" fill="#fff"/>
<text transform="translate(749.85 833.22) scale(0.74 1)" font-size="6" font-weight="bold">145</text>
<text transform="translate(763.05 833.22) scale(0.74 1)" font-size="6" font-weight="bold">Congo, Dem Rep</text>
<text transform="translate(832.95 833.22) scale(0.74 1)" font-size="6" text-anchor="end" font-weight="bold">2.7</text>
<text transform="translate(851.45 833.22) scale(0.78 1)" font-size="5.6" text-anchor="end" font-weight="bold">-2.6</text>
<rect x="744.25" y="834.53" width="107.8" height="6.04" fill="#f58220"/>
<polygon points="745.15,835.73 748.55,835.73 746.85,839.63" fill="#fff"/>
<text transform="translate(749.85 839.53) scale(0.74 1)" font-size="6" font-weight="bold">146</text>
<text transform="translate(763.05 839.53) scale(0.74 1)" font-size="6" font-weight="bold">Martinique</text>
<text transform="translate(832.95 839.53) scale(0.74 1)" font-size="6" text-anchor="end" font-weight="bold">2.6</text>
<text transform="translate(851.45 839.53) scale(0.78 1)" font-size="5.6" text-anchor="end" font-weight="bold">6.3</text>
<rect x="744.25" y="840.85" width="107.8" height="6.04" fill="#00aeef"/>
<polygon points="745.15,842.05 748.55,842.05 746.85,845.95" fill="#fff"/>
<text transform="translate(749.85 845.85) scale(0.74 1)" font-size="6" font-weight="bold">147</text>
<text transform="translate(763.05 845.85) scale(0.74 1)" font-size="6" font-weight="bold">Macau</text>
<text transform="translate(832.95 845.85) scale(0.74 1)" font-size="6" text-anchor="end" font-weight="bold">2.4</text>
<text transform="translate(851.45 845.85) scale(0.78 1)" font-size="5.6" text-anchor="end" font-weight="bold">1.3</text>
<rect x="744.25" y="847.17" width="107.8" height="6.04" fill="#8b7355"/>
<polygon points="745.15,852.27 748.55,852.27 746.85,848.37" fill="#fff"/>
<text transform="translate(749.85 852.17) scale(0.74 1)" font-size="6" font-weight="bold">148</text>
<text transform="translate(763.05 852.17) scale(0.74 1)" font-size="6" font-weight="bold">Mozambique</text>
<text transform="translate(832.95 852.17) scale(0.74 1)" font-size="6" text-anchor="end" font-weight="bold">2.3</text>
<text transform="translate(851.45 852.17) scale(0.78 1)" font-size="5.6" text-anchor="end" font-weight="bold">4.6</text>
<rect x="744.25" y="853.49" width="107.8" height="6.04" fill="#f58220"/>
<polygon points="745.15,854.69 748.55,854.69 746.85,858.59" fill="#fff"/>
<text transform="translate(749.85 858.49) scale(0.74 1)" font-size="6" font-weight="bold">149</text>
<text transform="translate(763.05 858.49) scale(0.74 1)" font-size="6" font-weight="bold">Guadeloupe</text>
<text transform="translate(832.95 858.49) scale(0.74 1)" font-size="6" text-anchor="end" font-weight="bold">2.2</text>
<text transform="translate(851.45 858.49) scale(0.78 1)" font-size="5.6" text-anchor="end" font-weight="bold">-6.1</text>
<rect x="744.25" y="859.81" width="107.8" height="6.04" fill="#f58220"/>
<polygon points="745.15,864.91 748.55,864.91 746.85,861.01" fill="#fff"/>
<text transform="translate(749.85 864.81) scale(0.74 1)" font-size="6" font-weight="bold">150</text>
<text transform="translate(763.05 864.81) scale(0.74 1)" font-size="6" font-weight="bold">Haiti</text>
<text transform="translate(832.95 864.81) scale(0.74 1)" font-size="6" text-anchor="end" font-weight="bold">2.1</text>
<text transform="translate(851.45 864.81) scale(0.78 1)" font-size="5.6" text-anchor="end" font-weight="bold">2.9</text>
<rect x="744.25" y="866.12" width="107.8" height="6.04" fill="#f58220"/>
<polygon points="745.15,871.22 748.55,871.22 746.85,867.32" fill="#fff"/>
<text transform="translate(749.85 871.12) scale(0.74 1)" font-size="6" font-weight="bold">151</text>
<text transform="translate(763.05 871.12) scale(0.74 1)" font-size="6" font-weight="bold">Suriname</text>
<text transform="translate(832.95 871.12) scale(0.74 1)" font-size="6" text-anchor="end" font-weight="bold">2.0</text>
<text transform="translate(851.45 871.12) scale(0.78 1)" font-size="5.6" text-anchor="end" font-weight="bold">4.0</text>
<rect x="744.25" y="872.44" width="107.8" height="6.04" fill="#8b7355"/>
<rect x="745.55" y="874.94" width="2.6" height="1.4" fill="#fff"/>
<text transform="translate(749.85 877.44) scale(0.74 1)" font-size="6" font-weight="bold">152</text>
<text transform="translate(763.05 877.44) scale(0.74 1)" font-size="6" font-weight="bold">Uganda</text>
<text transform="translate(832.95 877.44) scale(0.74 1)" font-size="6" text-anchor="end" font-weight="bold">1.9</text>
<text transform="translate(851.45 877.44) scale(0.78 1)" font-size="5.6" text-anchor="end" font-weight="bold">-1.0</text>
<rect x="744.25" y="878.76" width="107.8" height="6.04" fill="#00aeef"/>
<polygon points="745.15,879.96 748.55,879.96 746.85,883.86" fill="#fff"/>
<text transform="translate(749.85 883.76) scale(0.74 1)" font-size="6" font-weight="bold">153</text>
<text transform="translate(763.05 883.76) scale(0.74 1)" font-size="6" font-weight="bold">Fiji</text>
<text transform="translate(832.95 883.76) scale(0.74 1)" font-size="6" text-anchor="end" font-weight="bold">1.9</text>
<text transform="translate(851.45 883.76) scale(0.78 1)" font-size="5.6" text-anchor="end" font-weight="bold">-6.2</text>
<rect x="744.25" y="885.08" width="107.8" height="6.04" fill="#ec008c"/>
<rect x="745.55" y="887.58" width="2.6" height="1.4" fill="#fff"/>
<text transform="translate(749.85 890.08) scale(0.74 1)" font-size="6" font-weight="bold">154</text>
<text transform="translate(763.05 890.08) scale(0.74 1)" font-size="6" font-weight="bold">Montenegro</text>
<text transform="translate(832.95 890.08) scale(0.74 1)" font-size="6" text-anchor="end" font-weight="bold">1.9</text>
<text transform="translate(851.45 890.08) scale(0.78 1)" font-size="5.6" text-anchor="end" font-weight="bold">4.3</text>
<rect x="860.5" y="732.8" width="107.8" height="0.5" fill="#c9c2ba"/>
<text transform="translate(860.7 738.8) scale(0.88 1)" font-size="4.4" font-weight="bold" fill="#111">Rank/</text>
<text transform="translate(860.7 743.65) scale(0.88 1)" font-size="4.4" font-weight="bold" fill="#111">change</text>
<text transform="translate(860.7 748.5) scale(0.88 1)" font-size="4.4" font-weight="bold" fill="#111">on 2008</text>
<text transform="translate(879.3 738.8) scale(0.88 1)" font-size="4.4" font-weight="bold" fill="#111">Country</text>
<text transform="translate(937.3 738.8) scale(0.88 1)" font-size="4.4" font-weight="bold" fill="#111">Million</text>
<text transform="translate(937.3 743.65) scale(0.88 1)" font-size="4.4" font-weight="bold" fill="#111">tonnes</text>
<text transform="translate(937.3 748.5) scale(0.88 1)" font-size="4.4" font-weight="bold" fill="#111">2009</text>
<text transform="translate(953.5 738.8) scale(0.88 1)" font-size="4.4" font-weight="bold" fill="#111">Percent</text>
<text transform="translate(953.5 743.65) scale(0.88 1)" font-size="4.4" font-weight="bold" fill="#111">change</text>
<text transform="translate(953.5 748.5) scale(0.88 1)" font-size="4.4" font-weight="bold" fill="#111">08–09</text>
<rect x="860.5" y="752.4" width="107.8" height="6.04" fill="#8b7355"/>
<polygon points="861.4,757.5 864.8,757.5 863.1,753.6" fill="#fff"/>
<text transform="translate(866.1 757.4) scale(0.74 1)" font-size="6" font-weight="bold">155</text>
<text transform="translate(879.3 757.4) scale(0.74 1)" font-size="6" font-weight="bold">Djibouti</text>
<text transform="translate(949.2 757.4) scale(0.74 1)" font-size="6" text-anchor="end" font-weight="bold">1.8</text>
<text transform="translate(967.7 757.4) scale(0.78 1)" font-size="5.6" text-anchor="end" font-weight="bold">3.4</text>
<rect x="860.5" y="758.72" width="107.8" height="6.04" fill="#00aeef"/>
<polygon points="861.4,759.92 864.8,759.92 863.1,763.82" fill="#fff"/>
<text transform="translate(866.1 763.72) scale(0.74 1)" font-size="6" font-weight="bold">156</text>
<text transform="translate(879.3 763.72) scale(0.74 1)" font-size="6" font-weight="bold">Guam</text>
<text transform="translate(949.2 763.72) scale(0.74 1)" font-size="6" text-anchor="end" font-weight="bold">1.7</text>
<text transform="translate(967.7 763.72) scale(0.78 1)" font-size="5.6" text-anchor="end" font-weight="bold">-3.5</text>
<rect x="860.5" y="765.04" width="107.8" height="6.04" fill="#f58220"/>
<rect x="861.8" y="767.54" width="2.6" height="1.4" fill="#fff"/>
<text transform="translate(866.1 770.04) scale(0.74 1)" font-size="6" font-weight="bold">157</text>
<text transform="translate(879.3 770.04) scale(0.74 1)" font-size="6" font-weight="bold">Guyana</text>
<text transform="translate(949.2 770.04) scale(0.74 1)" font-size="6" text-anchor="end" font-weight="bold">1.5</text>
<text transform="translate(967.7 770.04) scale(0.78 1)" font-size="5.6" text-anchor="end" font-weight="bold">0.0</text>
<rect x="860.5" y="771.35" width="107.8" height="6.04" fill="#8b7355"/>
<polygon points="861.4,776.45 864.8,776.45 863.1,772.55" fill="#fff"/>
<text transform="translate(866.1 776.35) scale(0.74 1)" font-size="6" font-weight="bold">158</text>
<text transform="translate(879.3 776.35) scale(0.74 1)" font-size="6" font-weight="bold">Burkina Faso</text>
<text transform="translate(949.2 776.35) scale(0.74 1)" font-size="6" text-anchor="end" font-weight="bold">1.4</text>
<text transform="translate(967.7 776.35) scale(0.78 1)" font-size="5.6" text-anchor="end" font-weight="bold">2.1</text>
<rect x="860.5" y="777.67" width="107.8" height="6.04" fill="#8b7355"/>
<polygon points="861.4,782.77 864.8,782.77 863.1,778.87" fill="#fff"/>
<text transform="translate(866.1 782.67) scale(0.74 1)" font-size="6" font-weight="bold">159</text>
<text transform="translate(879.3 782.67) scale(0.74 1)" font-size="6" font-weight="bold">Seychelles</text>
<text transform="translate(949.2 782.67) scale(0.74 1)" font-size="6" text-anchor="end" font-weight="bold">1.4</text>
<text transform="translate(967.7 782.67) scale(0.78 1)" font-size="5.6" text-anchor="end" font-weight="bold">8.1</text>
<rect x="860.5" y="783.99" width="107.8" height="6.04" fill="#f58220"/>
<polygon points="861.4,785.19 864.8,785.19 863.1,789.09" fill="#fff"/>
<text transform="translate(866.1 788.99) scale(0.74 1)" font-size="6" font-weight="bold">160</text>
<text transform="translate(879.3 788.99) scale(0.74 1)" font-size="6" font-weight="bold">Barbados</text>
<text transform="translate(949.2 788.99) scale(0.74 1)" font-size="6" text-anchor="end" font-weight="bold">1.4</text>
<text transform="translate(967.7 788.99) scale(0.78 1)" font-size="5.6" text-anchor="end" font-weight="bold">-4.0</text>
<rect x="860.5" y="790.31" width="107.8" height="6.04" fill="#8b7355"/>
<polygon points="861.4,795.41 864.8,795.41 863.1,791.51" fill="#fff"/>
<text transform="translate(866.1 795.31) scale(0.74 1)" font-size="6" font-weight="bold">161</text>
<text transform="translate(879.3 795.31) scale(0.74 1)" font-size="6" font-weight="bold">Swaziland</text>
<text transform="translate(949.2 795.31) scale(0.74 1)" font-size="6" text-anchor="end" font-weight="bold">1.4</text>
<text transform="translate(967.7 795.31) scale(0.78 1)" font-size="5.6" text-anchor="end" font-weight="bold">17.0</text>
<rect x="860.5" y="796.63" width="107.8" height="6.04" fill="#8b7355"/>
<rect x="861.8" y="799.13" width="2.6" height="1.4" fill="#fff"/>
<text transform="translate(866.1 801.63) scale(0.74 1)" font-size="6" font-weight="bold">162</text>
<text transform="translate(879.3 801.63) scale(0.74 1)" font-size="6" font-weight="bold">Niger</text>
<text transform="translate(949.2 801.63) scale(0.74 1)" font-size="6" text-anchor="end" font-weight="bold">1.3</text>
<text transform="translate(967.7 801.63) scale(0.78 1)" font-size="5.6" text-anchor="end" font-weight="bold">3.5</text>
<rect x="860.5" y="802.94" width="107.8" height="6.04" fill="#8b7355"/>
<polygon points="861.4,804.14 864.8,804.14 863.1,808.04" fill="#fff"/>
<text transform="translate(866.1 807.94) scale(0.74 1)" font-size="6" font-weight="bold">163</text>
<text transform="translate(879.3 807.94) scale(0.74 1)" font-size="6" font-weight="bold">Guinea</text>
<text transform="translate(949.2 807.94) scale(0.74 1)" font-size="6" text-anchor="end" font-weight="bold">1.3</text>
<text transform="translate(967.7 807.94) scale(0.78 1)" font-size="5.6" text-anchor="end" font-weight="bold">-1.2</text>
<rect x="860.5" y="809.26" width="107.8" height="6.04" fill="#8b7355"/>
<polygon points="861.4,814.36 864.8,814.36 863.1,810.46" fill="#fff"/>
<text transform="translate(866.1 814.26) scale(0.74 1)" font-size="6" font-weight="bold">164</text>
<text transform="translate(879.3 814.26) scale(0.74 1)" font-size="6" font-weight="bold">Sierra Leone</text>
<text transform="translate(949.2 814.26) scale(0.74 1)" font-size="6" text-anchor="end" font-weight="bold">1.3</text>
<text transform="translate(967.7 814.26) scale(0.78 1)" font-size="5.6" text-anchor="end" font-weight="bold">5.9</text>
<rect x="860.5" y="815.58" width="107.8" height="6.04" fill="#8b7355"/>
<polygon points="861.4,816.78 864.8,816.78 863.1,820.68" fill="#fff"/>
<text transform="translate(866.1 820.58) scale(0.74 1)" font-size="6" font-weight="bold">165</text>
<text transform="translate(879.3 820.58) scale(0.74 1)" font-size="6" font-weight="bold">Malawi</text>
<text transform="translate(949.2 820.58) scale(0.74 1)" font-size="6" text-anchor="end" font-weight="bold">1.3</text>
<text transform="translate(967.7 820.58) scale(0.78 1)" font-size="5.6" text-anchor="end" font-weight="bold">4.6</text>
<rect x="860.5" y="821.9" width="107.8" height="6.04" fill="#00aeef"/>
<rect x="861.8" y="824.4" width="2.6" height="1.4" fill="#fff"/>
<text transform="translate(866.1 826.9) scale(0.74 1)" font-size="6" font-weight="bold">166</text>
<text transform="translate(879.3 826.9) scale(0.74 1)" font-size="6" font-weight="bold">Laos</text>
<text transform="translate(949.2 826.9) scale(0.74 1)" font-size="6" text-anchor="end" font-weight="bold">1.2</text>
<text transform="translate(967.7 826.9) scale(0.78 1)" font-size="5.6" text-anchor="end" font-weight="bold">1.1</text>
<rect x="860.5" y="828.22" width="107.8" height="6.04" fill="#00aeef"/>
<polygon points="861.4,829.42 864.8,829.42 863.1,833.32" fill="#fff"/>
<text transform="translate(866.1 833.22) scale(0.74 1)" font-size="6" font-weight="bold">167</text>
<text transform="translate(879.3 833.22) scale(0.74 1)" font-size="6" font-weight="bold">Wake Island</text>
<text transform="translate(949.2 833.22) scale(0.74 1)" font-size="6" text-anchor="end" font-weight="bold">1.2</text>
<text transform="translate(967.7 833.22) scale(0.78 1)" font-size="5.6" text-anchor="end" font-weight="bold">-6.3</text>
<rect x="860.5" y="834.53" width="107.8" height="6.04" fill="#f58220"/>
<rect x="861.8" y="837.03" width="2.6" height="1.4" fill="#fff"/>
<text transform="translate(866.1 839.53) scale(0.74 1)" font-size="6" font-weight="bold">168</text>
<text transform="translate(879.3 839.53) scale(0.74 1)" font-size="6" font-weight="bold">French Guiana</text>
<text transform="translate(949.2 839.53) scale(0.74 1)" font-size="6" text-anchor="end" font-weight="bold">1.1</text>
<text transform="translate(967.7 839.53) scale(0.78 1)" font-size="5.6" text-anchor="end" font-weight="bold">6.1</text>
<rect x="860.5" y="840.85" width="107.8" height="6.04" fill="#f58220"/>
<rect x="861.8" y="843.35" width="2.6" height="1.4" fill="#fff"/>
<text transform="translate(866.1 845.85) scale(0.74 1)" font-size="6" font-weight="bold">169</text>
<text transform="translate(879.3 845.85) scale(0.74 1)" font-size="6" font-weight="bold">Aruba</text>
<text transform="translate(949.2 845.85) scale(0.74 1)" font-size="6" text-anchor="end" font-weight="bold">1.1</text>
<text transform="translate(967.7 845.85) scale(0.78 1)" font-size="5.6" text-anchor="end" font-weight="bold">4.2</text>
<rect x="860.5" y="847.17" width="107.8" height="6.04" fill="#00aeef"/>
<polygon points="861.4,852.27 864.8,852.27 863.1,848.37" fill="#fff"/>
<text transform="translate(866.1 852.17) scale(0.74 1)" font-size="6" font-weight="bold">170</text>
<text transform="translate(879.3 852.17) scale(0.74 1)" font-size="6" font-weight="bold">French Polynesia</text>
<text transform="translate(949.2 852.17) scale(0.74 1)" font-size="6" text-anchor="end" font-weight="bold">1.1</text>
<text transform="translate(967.7 852.17) scale(0.78 1)" font-size="5.6" text-anchor="end" font-weight="bold">2.7</text>
<rect x="860.5" y="853.49" width="107.8" height="6.04" fill="#f58220"/>
<polygon points="861.4,854.69 864.8,854.69 863.1,858.59" fill="#fff"/>
<text transform="translate(866.1 858.49) scale(0.74 1)" font-size="6" font-weight="bold">171</text>
<text transform="translate(879.3 858.49) scale(0.74 1)" font-size="6" font-weight="bold">Belize</text>
<text transform="translate(949.2 858.49) scale(0.74 1)" font-size="6" text-anchor="end" font-weight="bold">0.94</text>
<text transform="translate(967.7 858.49) scale(0.78 1)" font-size="5.6" text-anchor="end" font-weight="bold">-5.4</text>
<rect x="860.5" y="859.81" width="107.8" height="6.04" fill="#00aeef"/>
<rect x="861.8" y="862.31" width="2.6" height="1.4" fill="#fff"/>
<text transform="translate(866.1 864.81) scale(0.74 1)" font-size="6" font-weight="bold">172</text>
<text transform="translate(879.3 864.81) scale(0.74 1)" font-size="6" font-weight="bold">Maldives</text>
<text transform="translate(949.2 864.81) scale(0.74 1)" font-size="6" text-anchor="end" font-weight="bold">0.92</text>
<text transform="translate(967.7 864.81) scale(0.78 1)" font-size="5.6" text-anchor="end" font-weight="bold">3.4</text>
<rect x="860.5" y="866.12" width="107.8" height="6.04" fill="#8b7355"/>
<rect x="861.8" y="868.62" width="2.6" height="1.4" fill="#fff"/>
<text transform="translate(866.1 871.12) scale(0.74 1)" font-size="6" font-weight="bold">173</text>
<text transform="translate(879.3 871.12) scale(0.74 1)" font-size="6" font-weight="bold">Somalia</text>
<text transform="translate(949.2 871.12) scale(0.74 1)" font-size="6" text-anchor="end" font-weight="bold">0.90</text>
<text transform="translate(967.7 871.12) scale(0.78 1)" font-size="5.6" text-anchor="end" font-weight="bold">3.4</text>
<rect x="860.5" y="872.44" width="107.8" height="6.04" fill="#00aeef"/>
<rect x="861.8" y="874.94" width="2.6" height="1.4" fill="#fff"/>
<text transform="translate(866.1 877.44) scale(0.74 1)" font-size="6" font-weight="bold">174</text>
<text transform="translate(879.3 877.44) scale(0.74 1)" font-size="6" font-weight="bold">Afghanistan</text>
<text transform="translate(949.2 877.44) scale(0.74 1)" font-size="6" text-anchor="end" font-weight="bold">0.83</text>
<text transform="translate(967.7 877.44) scale(0.78 1)" font-size="5.6" text-anchor="end" font-weight="bold">-2.9</text>
<rect x="860.5" y="878.76" width="107.8" height="6.04" fill="#ec008c"/>
<rect x="861.8" y="881.26" width="2.6" height="1.4" fill="#fff"/>
<text transform="translate(866.1 883.76) scale(0.74 1)" font-size="6" font-weight="bold">175</text>
<text transform="translate(879.3 883.76) scale(0.74 1)" font-size="6" font-weight="bold">Faroe Islands</text>
<text transform="translate(949.2 883.76) scale(0.74 1)" font-size="6" text-anchor="end" font-weight="bold">0.80</text>
<text transform="translate(967.7 883.76) scale(0.78 1)" font-size="5.6" text-anchor="end" font-weight="bold">6.4</text>
<rect x="860.5" y="885.08" width="107.8" height="6.04" fill="#8b7355"/>
<polygon points="861.4,890.18 864.8,890.18 863.1,886.28" fill="#fff"/>
<text transform="translate(866.1 890.08) scale(0.74 1)" font-size="6" font-weight="bold">176</text>
<text transform="translate(879.3 890.08) scale(0.74 1)" font-size="6" font-weight="bold">Eritrea</text>
<text transform="translate(949.2 890.08) scale(0.74 1)" font-size="6" text-anchor="end" font-weight="bold">0.77</text>
<text transform="translate(967.7 890.08) scale(0.78 1)" font-size="5.6" text-anchor="end" font-weight="bold">6.4</text>
<rect x="976.25" y="732.8" width="107.8" height="0.5" fill="#c9c2ba"/>
<text transform="translate(976.45 738.8) scale(0.88 1)" font-size="4.4" font-weight="bold" fill="#111">Rank/</text>
<text transform="translate(976.45 743.65) scale(0.88 1)" font-size="4.4" font-weight="bold" fill="#111">change</text>
<text transform="translate(976.45 748.5) scale(0.88 1)" font-size="4.4" font-weight="bold" fill="#111">on 2008</text>
<text transform="translate(995.05 738.8) scale(0.88 1)" font-size="4.4" font-weight="bold" fill="#111">Country</text>
<text transform="translate(1053.05 738.8) scale(0.88 1)" font-size="4.4" font-weight="bold" fill="#111">Million</text>
<text transform="translate(1053.05 743.65) scale(0.88 1)" font-size="4.4" font-weight="bold" fill="#111">tonnes</text>
<text transform="translate(1053.05 748.5) scale(0.88 1)" font-size="4.4" font-weight="bold" fill="#111">2009</text>
<text transform="translate(1069.25 738.8) scale(0.88 1)" font-size="4.4" font-weight="bold" fill="#111">Percent</text>
<text transform="translate(1069.25 743.65) scale(0.88 1)" font-size="4.4" font-weight="bold" fill="#111">change</text>
<text transform="translate(1069.25 748.5) scale(0.88 1)" font-size="4.4" font-weight="bold" fill="#111">08–09</text>
<rect x="976.25" y="752.4" width="107.8" height="6.04" fill="#8b7355"/>
<polygon points="977.15,757.5 980.55,757.5 978.85,753.6" fill="#fff"/>
<text transform="translate(981.85 757.4) scale(0.74 1)" font-size="6" font-weight="bold">177</text>
<text transform="translate(995.05 757.4) scale(0.74 1)" font-size="6" font-weight="bold">Mali</text>
<text transform="translate(1064.95 757.4) scale(0.74 1)" font-size="6" text-anchor="end" font-weight="bold">0.74</text>
<text transform="translate(1083.45 757.4) scale(0.78 1)" font-size="5.6" text-anchor="end" font-weight="bold">6.4</text>
<rect x="976.25" y="758.72" width="107.8" height="6.04" fill="#8b7355"/>
<polygon points="977.15,759.92 980.55,759.92 978.85,763.82" fill="#fff"/>
<text transform="translate(981.85 763.72) scale(0.74 1)" font-size="6" font-weight="bold">178</text>
<text transform="translate(995.05 763.72) scale(0.74 1)" font-size="6" font-weight="bold">Rwanda</text>
<text transform="translate(1064.95 763.72) scale(0.74 1)" font-size="6" text-anchor="end" font-weight="bold">0.74</text>
<text transform="translate(1083.45 763.72) scale(0.78 1)" font-size="5.6" text-anchor="end" font-weight="bold">0.0</text>
<rect x="976.25" y="765.04" width="107.8" height="6.04" fill="#ed1c24"/>
<rect x="977.55" y="767.54" width="2.6" height="1.4" fill="#fff"/>
<text transform="translate(981.85 770.04) scale(0.74 1)" font-size="6" font-weight="bold">179</text>
<text transform="translate(995.05 770.04) scale(0.74 1)" font-size="6" font-weight="bold">Bermuda</text>
<text transform="translate(1064.95 770.04) scale(0.74 1)" font-size="6" text-anchor="end" font-weight="bold">0.71</text>
<text transform="translate(1083.45 770.04) scale(0.78 1)" font-size="5.6" text-anchor="end" font-weight="bold">4.2</text>
<rect x="976.25" y="771.35" width="107.8" height="6.04" fill="#8b7355"/>
<rect x="977.55" y="773.85" width="2.6" height="1.4" fill="#fff"/>
<text transform="translate(981.85 776.35) scale(0.74 1)" font-size="6" font-weight="bold">180</text>
<text transform="translate(995.05 776.35) scale(0.74 1)" font-size="6" font-weight="bold">Liberia</text>
<text transform="translate(1064.95 776.35) scale(0.74 1)" font-size="6" text-anchor="end" font-weight="bold">0.69</text>
<text transform="translate(1083.45 776.35) scale(0.78 1)" font-size="5.6" text-anchor="end" font-weight="bold">2.2</text>
<rect x="976.25" y="777.67" width="107.8" height="6.04" fill="#f58220"/>
<rect x="977.55" y="780.17" width="2.6" height="1.4" fill="#fff"/>
<text transform="translate(981.85 782.67) scale(0.74 1)" font-size="6" font-weight="bold">181</text>
<text transform="translate(995.05 782.67) scale(0.74 1)" font-size="6" font-weight="bold">Antigua and Barbuda</text>
<text transform="translate(1064.95 782.67) scale(0.74 1)" font-size="6" text-anchor="end" font-weight="bold">0.69</text>
<text transform="translate(1083.45 782.67) scale(0.78 1)" font-size="5.6" text-anchor="end" font-weight="bold">4.4</text>
<rect x="976.25" y="783.99" width="107.8" height="6.04" fill="#00aeef"/>
<rect x="977.55" y="786.49" width="2.6" height="1.4" fill="#fff"/>
<text transform="translate(981.85 788.99) scale(0.74 1)" font-size="6" font-weight="bold">182</text>
<text transform="translate(995.05 788.99) scale(0.74 1)" font-size="6" font-weight="bold">American Samoa</text>
<text transform="translate(1064.95 788.99) scale(0.74 1)" font-size="6" text-anchor="end" font-weight="bold">0.67</text>
<text transform="translate(1083.45 788.99) scale(0.78 1)" font-size="5.6" text-anchor="end" font-weight="bold">2.2</text>
<rect x="976.25" y="790.31" width="107.8" height="6.04" fill="#00aeef"/>
<polygon points="977.15,795.41 980.55,795.41 978.85,791.51" fill="#fff"/>
<text transform="translate(981.85 795.31) scale(0.74 1)" font-size="6" font-weight="bold">183</text>
<text transform="translate(995.05 795.31) scale(0.74 1)" font-size="6" font-weight="bold">East Timor</text>
<text transform="translate(1064.95 795.31) scale(0.74 1)" font-size="6" text-anchor="end" font-weight="bold">0.63</text>
<text transform="translate(1083.45 795.31) scale(0.78 1)" font-size="5.6" text-anchor="end" font-weight="bold">9.7</text>
<rect x="976.25" y="796.63" width="107.8" height="6.04" fill="#ed1c24"/>
<polygon points="977.15,797.83 980.55,797.83 978.85,801.73" fill="#fff"/>
<text transform="translate(981.85 801.63) scale(0.74 1)" font-size="6" font-weight="bold">184</text>
<text transform="translate(995.05 801.63) scale(0.74 1)" font-size="6" font-weight="bold">Greenland</text>
<text transform="translate(1064.95 801.63) scale(0.74 1)" font-size="6" text-anchor="end" font-weight="bold">0.61</text>
<text transform="translate(1083.45 801.63) scale(0.78 1)" font-size="5.6" text-anchor="end" font-weight="bold">-4.8</text>
<rect x="976.25" y="802.94" width="107.8" height="6.04" fill="#8b7355"/>
<polygon points="977.15,808.04 980.55,808.04 978.85,804.14" fill="#fff"/>
<text transform="translate(981.85 807.94) scale(0.74 1)" font-size="6" font-weight="bold">185</text>
<text transform="translate(995.05 807.94) scale(0.74 1)" font-size="6" font-weight="bold">Guinea-Bissau</text>
<text transform="translate(1064.95 807.94) scale(0.74 1)" font-size="6" text-anchor="end" font-weight="bold">0.46</text>
<text transform="translate(1083.45 807.94) scale(0.78 1)" font-size="5.6" text-anchor="end" font-weight="bold">0.0</text>
<rect x="976.25" y="809.26" width="107.8" height="6.04" fill="#8b7355"/>
<polygon points="977.15,814.36 980.55,814.36 978.85,810.46" fill="#fff"/>
<text transform="translate(981.85 814.26) scale(0.74 1)" font-size="6" font-weight="bold">186</text>
<text transform="translate(995.05 814.26) scale(0.74 1)" font-size="6" font-weight="bold">Gambia</text>
<text transform="translate(1064.95 814.26) scale(0.74 1)" font-size="6" text-anchor="end" font-weight="bold">0.44</text>
<text transform="translate(1083.45 814.26) scale(0.78 1)" font-size="5.6" text-anchor="end" font-weight="bold">15.4</text>
<rect x="976.25" y="815.58" width="107.8" height="6.04" fill="#f58220"/>
<polygon points="977.15,816.78 980.55,816.78 978.85,820.68" fill="#fff"/>
<text transform="translate(981.85 820.58) scale(0.74 1)" font-size="6" font-weight="bold">187</text>
<text transform="translate(995.05 820.58) scale(0.74 1)" font-size="6" font-weight="bold">Cayman Islands</text>
<text transform="translate(1064.95 820.58) scale(0.74 1)" font-size="6" text-anchor="end" font-weight="bold">0.43</text>
<text transform="translate(1083.45 820.58) scale(0.78 1)" font-size="5.6" text-anchor="end" font-weight="bold">-11.8</text>
<rect x="976.25" y="821.9" width="107.8" height="6.04" fill="#f58220"/>
<polygon points="977.15,823.1 980.55,823.1 978.85,827" fill="#fff"/>
<text transform="translate(981.85 826.9) scale(0.74 1)" font-size="6" font-weight="bold">188</text>
<text transform="translate(995.05 826.9) scale(0.74 1)" font-size="6" font-weight="bold">Saint Lucia</text>
<text transform="translate(1064.95 826.9) scale(0.74 1)" font-size="6" text-anchor="end" font-weight="bold">0.41</text>
<text transform="translate(1083.45 826.9) scale(0.78 1)" font-size="5.6" text-anchor="end" font-weight="bold">0.0</text>
<rect x="976.25" y="828.22" width="107.8" height="6.04" fill="#8b7355"/>
<polygon points="977.15,833.32 980.55,833.32 978.85,829.42" fill="#fff"/>
<text transform="translate(981.85 833.22) scale(0.74 1)" font-size="6" font-weight="bold">189</text>
<text transform="translate(995.05 833.22) scale(0.74 1)" font-size="6" font-weight="bold">Burundi</text>
<text transform="translate(1064.95 833.22) scale(0.74 1)" font-size="6" text-anchor="end" font-weight="bold">0.37</text>
<text transform="translate(1083.45 833.22) scale(0.78 1)" font-size="5.6" text-anchor="end" font-weight="bold">4.0</text>
<rect x="976.25" y="834.53" width="107.8" height="6.04" fill="#8b7355"/>
<polygon points="977.15,839.63 980.55,839.63 978.85,835.73" fill="#fff"/>
<text transform="translate(981.85 839.53) scale(0.74 1)" font-size="6" font-weight="bold">190</text>
<text transform="translate(995.05 839.53) scale(0.74 1)" font-size="6" font-weight="bold">Cape Verde</text>
<text transform="translate(1064.95 839.53) scale(0.74 1)" font-size="6" text-anchor="end" font-weight="bold">0.34</text>
<text transform="translate(1083.45 839.53) scale(0.78 1)" font-size="5.6" text-anchor="end" font-weight="bold">4.5</text>
<rect x="976.25" y="840.85" width="107.8" height="6.04" fill="#00aeef"/>
<polygon points="977.15,842.05 980.55,842.05 978.85,845.95" fill="#fff"/>
<text transform="translate(981.85 845.85) scale(0.74 1)" font-size="6" font-weight="bold">191</text>
<text transform="translate(995.05 845.85) scale(0.74 1)" font-size="6" font-weight="bold">Bhutan</text>
<text transform="translate(1064.95 845.85) scale(0.74 1)" font-size="6" text-anchor="end" font-weight="bold">0.33</text>
<text transform="translate(1083.45 845.85) scale(0.78 1)" font-size="5.6" text-anchor="end" font-weight="bold">-11.1</text>
<rect x="976.25" y="847.17" width="107.8" height="6.04" fill="#8b7355"/>
<polygon points="977.15,852.27 980.55,852.27 978.85,848.37" fill="#fff"/>
<text transform="translate(981.85 852.17) scale(0.74 1)" font-size="6" font-weight="bold">192</text>
<text transform="translate(995.05 852.17) scale(0.74 1)" font-size="6" font-weight="bold">Western Sahara</text>
<text transform="translate(1064.95 852.17) scale(0.74 1)" font-size="6" text-anchor="end" font-weight="bold">0.32</text>
<text transform="translate(1083.45 852.17) scale(0.78 1)" font-size="5.6" text-anchor="end" font-weight="bold">0.0</text>
<rect x="976.25" y="853.49" width="107.8" height="6.04" fill="#f58220"/>
<polygon points="977.15,858.59 980.55,858.59 978.85,854.69" fill="#fff"/>
<text transform="translate(981.85 858.49) scale(0.74 1)" font-size="6" font-weight="bold">193</text>
<text transform="translate(995.05 858.49) scale(0.74 1)" font-size="6" font-weight="bold">Antarctica</text>
<text transform="translate(1064.95 858.49) scale(0.74 1)" font-size="6" text-anchor="end" font-weight="bold">0.31</text>
<text transform="translate(1083.45 858.49) scale(0.78 1)" font-size="5.6" text-anchor="end" font-weight="bold">17.6</text>
<rect x="976.25" y="859.81" width="107.8" height="6.04" fill="#f58220"/>
<polygon points="977.15,864.91 980.55,864.91 978.85,861.01" fill="#fff"/>
<text transform="translate(981.85 864.81) scale(0.74 1)" font-size="6" font-weight="bold">194</text>
<text transform="translate(995.05 864.81) scale(0.74 1)" font-size="6" font-weight="bold">Saint Kitts and Nevis</text>
<text transform="translate(1064.95 864.81) scale(0.74 1)" font-size="6" text-anchor="end" font-weight="bold">0.30</text>
<text transform="translate(1083.45 864.81) scale(0.78 1)" font-size="5.6" text-anchor="end" font-weight="bold">11.1</text>
<rect x="976.25" y="866.12" width="107.8" height="6.04" fill="#f58220"/>
<rect x="977.55" y="868.62" width="2.6" height="1.4" fill="#fff"/>
<text transform="translate(981.85 871.12) scale(0.74 1)" font-size="6" font-weight="bold">195</text>
<text transform="translate(995.05 871.12) scale(0.74 1)" font-size="6" font-weight="bold">Grenada</text>
<text transform="translate(1064.95 871.12) scale(0.74 1)" font-size="6" text-anchor="end" font-weight="bold">0.30</text>
<text transform="translate(1083.45 871.12) scale(0.78 1)" font-size="5.6" text-anchor="end" font-weight="bold">4.8</text>
<rect x="976.25" y="872.44" width="107.8" height="6.04" fill="#8b7355"/>
<polygon points="977.15,873.64 980.55,873.64 978.85,877.54" fill="#fff"/>
<text transform="translate(981.85 877.44) scale(0.74 1)" font-size="6" font-weight="bold">196</text>
<text transform="translate(995.05 877.44) scale(0.74 1)" font-size="6" font-weight="bold">Central African Republic</text>
<text transform="translate(1064.95 877.44) scale(0.74 1)" font-size="6" text-anchor="end" font-weight="bold">0.29</text>
<text transform="translate(1083.45 877.44) scale(0.78 1)" font-size="5.6" text-anchor="end" font-weight="bold">-13.0</text>
<rect x="976.25" y="878.76" width="107.8" height="6.04" fill="#00aeef"/>
<polygon points="977.15,883.86 980.55,883.86 978.85,879.96" fill="#fff"/>
<text transform="translate(981.85 883.76) scale(0.74 1)" font-size="6" font-weight="bold">197</text>
<text transform="translate(995.05 883.76) scale(0.74 1)" font-size="6" font-weight="bold">Solomon Islands</text>
<text transform="translate(1064.95 883.76) scale(0.74 1)" font-size="6" text-anchor="end" font-weight="bold">0.29</text>
<text transform="translate(1083.45 883.76) scale(0.78 1)" font-size="5.6" text-anchor="end" font-weight="bold">25.0</text>
<rect x="976.25" y="885.08" width="107.8" height="6.04" fill="#00aeef"/>
<polygon points="977.15,886.28 980.55,886.28 978.85,890.18" fill="#fff"/>
<text transform="translate(981.85 890.08) scale(0.74 1)" font-size="6" font-weight="bold">198</text>
<text transform="translate(995.05 890.08) scale(0.74 1)" font-size="6" font-weight="bold">US Pacific Islands</text>
<text transform="translate(1064.95 890.08) scale(0.74 1)" font-size="6" text-anchor="end" font-weight="bold">0.29</text>
<text transform="translate(1083.45 890.08) scale(0.78 1)" font-size="5.6" text-anchor="end" font-weight="bold">0.0</text>
<rect x="1092.5" y="732.8" width="107.8" height="0.5" fill="#c9c2ba"/>
<text transform="translate(1092.7 738.8) scale(0.88 1)" font-size="4.4" font-weight="bold" fill="#111">Rank/</text>
<text transform="translate(1092.7 743.65) scale(0.88 1)" font-size="4.4" font-weight="bold" fill="#111">change</text>
<text transform="translate(1092.7 748.5) scale(0.88 1)" font-size="4.4" font-weight="bold" fill="#111">on 2008</text>
<text transform="translate(1111.3 738.8) scale(0.88 1)" font-size="4.4" font-weight="bold" fill="#111">Country</text>
<text transform="translate(1169.3 738.8) scale(0.88 1)" font-size="4.4" font-weight="bold" fill="#111">Million</text>
<text transform="translate(1169.3 743.65) scale(0.88 1)" font-size="4.4" font-weight="bold" fill="#111">tonnes</text>
<text transform="translate(1169.3 748.5) scale(0.88 1)" font-size="4.4" font-weight="bold" fill="#111">2009</text>
<text transform="translate(1185.5 738.8) scale(0.88 1)" font-size="4.4" font-weight="bold" fill="#111">Percent</text>
<text transform="translate(1185.5 743.65) scale(0.88 1)" font-size="4.4" font-weight="bold" fill="#111">change</text>
<text transform="translate(1185.5 748.5) scale(0.88 1)" font-size="4.4" font-weight="bold" fill="#111">08–09</text>
<rect x="1092.5" y="752.4" width="107.8" height="6.04" fill="#8b7355"/>
<polygon points="1093.4,753.6 1096.8,753.6 1095.1,757.5" fill="#fff"/>
<text transform="translate(1098.1 757.4) scale(0.74 1)" font-size="6" font-weight="bold">199</text>
<text transform="translate(1111.3 757.4) scale(0.74 1)" font-size="6" font-weight="bold">Chad</text>
<text transform="translate(1181.2 757.4) scale(0.74 1)" font-size="6" text-anchor="end" font-weight="bold">0.29</text>
<text transform="translate(1199.7 757.4) scale(0.78 1)" font-size="5.6" text-anchor="end" font-weight="bold">11.1</text>
<rect x="1092.5" y="758.72" width="107.8" height="6.04" fill="#8b7355"/>
<polygon points="1093.4,759.92 1096.8,759.92 1095.1,763.82" fill="#fff"/>
<text transform="translate(1098.1 763.72) scale(0.74 1)" font-size="6" font-weight="bold">200</text>
<text transform="translate(1111.3 763.72) scale(0.74 1)" font-size="6" font-weight="bold">Lesotho</text>
<text transform="translate(1181.2 763.72) scale(0.74 1)" font-size="6" text-anchor="end" font-weight="bold">0.27</text>
<text transform="translate(1199.7 763.72) scale(0.78 1)" font-size="5.6" text-anchor="end" font-weight="bold">5.9</text>
<rect x="1092.5" y="765.04" width="107.8" height="6.04" fill="#f58220"/>
<rect x="1093.8" y="767.54" width="2.6" height="1.4" fill="#fff"/>
<text transform="translate(1098.1 770.04) scale(0.74 1)" font-size="6" font-weight="bold">201</text>
<text transform="translate(1111.3 770.04) scale(0.74 1)" font-size="6" font-weight="bold">Saint Vincent/Grenadines</text>
<text transform="translate(1181.2 770.04) scale(0.74 1)" font-size="6" text-anchor="end" font-weight="bold">0.27</text>
<text transform="translate(1199.7 770.04) scale(0.78 1)" font-size="5.6" text-anchor="end" font-weight="bold">13.6</text>
<rect x="1092.5" y="771.35" width="107.8" height="6.04" fill="#00aeef"/>
<polygon points="1093.4,776.45 1096.8,776.45 1095.1,772.55" fill="#fff"/>
<text transform="translate(1098.1 776.35) scale(0.74 1)" font-size="6" font-weight="bold">202</text>
<text transform="translate(1111.3 776.35) scale(0.74 1)" font-size="6" font-weight="bold">Nauru</text>
<text transform="translate(1181.2 776.35) scale(0.74 1)" font-size="6" text-anchor="end" font-weight="bold">0.30</text>
<text transform="translate(1199.7 776.35) scale(0.78 1)" font-size="5.6" text-anchor="end" font-weight="bold">9.1</text>
<rect x="1092.5" y="777.67" width="107.8" height="6.04" fill="#00aeef"/>
<polygon points="1093.4,778.87 1096.8,778.87 1095.1,782.77" fill="#fff"/>
<text transform="translate(1098.1 782.67) scale(0.74 1)" font-size="6" font-weight="bold">203</text>
<text transform="translate(1111.3 782.67) scale(0.74 1)" font-size="6" font-weight="bold">Tonga</text>
<text transform="translate(1181.2 782.67) scale(0.74 1)" font-size="6" text-anchor="end" font-weight="bold">0.15</text>
<text transform="translate(1199.7 782.67) scale(0.78 1)" font-size="5.6" text-anchor="end" font-weight="bold">-23.1</text>
<rect x="1092.5" y="783.99" width="107.8" height="6.04" fill="#00aeef"/>
<polygon points="1093.4,789.09 1096.8,789.09 1095.1,785.19" fill="#fff"/>
<text transform="translate(1098.1 788.99) scale(0.74 1)" font-size="6" font-weight="bold">204</text>
<text transform="translate(1111.3 788.99) scale(0.74 1)" font-size="6" font-weight="bold">Cook Islands</text>
<text transform="translate(1181.2 788.99) scale(0.74 1)" font-size="6" text-anchor="end" font-weight="bold">0.15</text>
<text transform="translate(1199.7 788.99) scale(0.78 1)" font-size="5.6" text-anchor="end" font-weight="bold">66.7</text>
<rect x="1092.5" y="790.31" width="107.8" height="6.04" fill="#8b7355"/>
<polygon points="1093.4,795.41 1096.8,795.41 1095.1,791.51" fill="#fff"/>
<text transform="translate(1098.1 795.31) scale(0.74 1)" font-size="6" font-weight="bold">205</text>
<text transform="translate(1111.3 795.31) scale(0.74 1)" font-size="6" font-weight="bold">Comoros</text>
<text transform="translate(1181.2 795.31) scale(0.74 1)" font-size="6" text-anchor="end" font-weight="bold">0.15</text>
<text transform="translate(1199.7 795.31) scale(0.78 1)" font-size="5.6" text-anchor="end" font-weight="bold">25.0</text>
<rect x="1092.5" y="796.63" width="107.8" height="6.04" fill="#8b7355"/>
<polygon points="1093.4,797.83 1096.8,797.83 1095.1,801.73" fill="#fff"/>
<text transform="translate(1098.1 801.63) scale(0.74 1)" font-size="6" font-weight="bold">206</text>
<text transform="translate(1111.3 801.63) scale(0.74 1)" font-size="6" font-weight="bold">Sao Tome and Principe</text>
<text transform="translate(1181.2 801.63) scale(0.74 1)" font-size="6" text-anchor="end" font-weight="bold">0.15</text>
<text transform="translate(1199.7 801.63) scale(0.78 1)" font-size="5.6" text-anchor="end" font-weight="bold">11.1</text>
<rect x="1092.5" y="802.94" width="107.8" height="6.04" fill="#00aeef"/>
<polygon points="1093.4,808.04 1096.8,808.04 1095.1,804.14" fill="#fff"/>
<text transform="translate(1098.1 807.94) scale(0.74 1)" font-size="6" font-weight="bold">207</text>
<text transform="translate(1111.3 807.94) scale(0.74 1)" font-size="6" font-weight="bold">Vanuatu</text>
<text transform="translate(1181.2 807.94) scale(0.74 1)" font-size="6" text-anchor="end" font-weight="bold">0.15</text>
<text transform="translate(1199.7 807.94) scale(0.78 1)" font-size="5.6" text-anchor="end" font-weight="bold">25.0</text>
<rect x="1092.5" y="809.26" width="107.8" height="6.04" fill="#f58220"/>
<polygon points="1093.4,814.36 1096.8,814.36 1095.1,810.46" fill="#fff"/>
<text transform="translate(1098.1 814.26) scale(0.74 1)" font-size="6" font-weight="bold">208</text>
<text transform="translate(1111.3 814.26) scale(0.74 1)" font-size="6" font-weight="bold">British Virgin Islands</text>
<text transform="translate(1181.2 814.26) scale(0.74 1)" font-size="6" text-anchor="end" font-weight="bold">0.15</text>
<text transform="translate(1199.7 814.26) scale(0.78 1)" font-size="5.6" text-anchor="end" font-weight="bold">25.0</text>
<rect x="1092.5" y="815.58" width="107.8" height="6.04" fill="#00aeef"/>
<polygon points="1093.4,816.78 1096.8,816.78 1095.1,820.68" fill="#fff"/>
<text transform="translate(1098.1 820.58) scale(0.74 1)" font-size="6" font-weight="bold">209</text>
<text transform="translate(1111.3 820.58) scale(0.74 1)" font-size="6" font-weight="bold">Samoa</text>
<text transform="translate(1181.2 820.58) scale(0.74 1)" font-size="6" text-anchor="end" font-weight="bold">0.15</text>
<text transform="translate(1199.7 820.58) scale(0.78 1)" font-size="5.6" text-anchor="end" font-weight="bold">-16.7</text>
<rect x="1092.5" y="821.9" width="107.8" height="6.04" fill="#f58220"/>
<rect x="1093.8" y="824.4" width="2.6" height="1.4" fill="#fff"/>
<text transform="translate(1098.1 826.9) scale(0.74 1)" font-size="6" font-weight="bold">210</text>
<text transform="translate(1111.3 826.9) scale(0.74 1)" font-size="6" font-weight="bold">Montserrat</text>
<text transform="translate(1181.2 826.9) scale(0.74 1)" font-size="6" text-anchor="end" font-weight="bold">0.15</text>
<text transform="translate(1199.7 826.9) scale(0.78 1)" font-size="5.6" text-anchor="end" font-weight="bold">58.7</text>
<rect x="1092.5" y="828.22" width="107.8" height="6.04" fill="#f58220"/>
<polygon points="1093.4,829.42 1096.8,829.42 1095.1,833.32" fill="#fff"/>
<text transform="translate(1098.1 833.22) scale(0.74 1)" font-size="6" font-weight="bold">211</text>
<text transform="translate(1111.3 833.22) scale(0.74 1)" font-size="6" font-weight="bold">Dominica</text>
<text transform="translate(1181.2 833.22) scale(0.74 1)" font-size="6" text-anchor="end" font-weight="bold">0.14</text>
<text transform="translate(1199.7 833.22) scale(0.78 1)" font-size="5.6" text-anchor="end" font-weight="bold">11.1</text>
<rect x="1092.5" y="834.53" width="107.8" height="6.04" fill="#ed1c24"/>
<polygon points="1093.4,835.73 1096.8,835.73 1095.1,839.63" fill="#fff"/>
<text transform="translate(1098.1 839.53) scale(0.74 1)" font-size="6" font-weight="bold">212</text>
<text transform="translate(1111.3 839.53) scale(0.74 1)" font-size="6" font-weight="bold">Saint Pierre and Miquelon</text>
<text transform="translate(1181.2 839.53) scale(0.74 1)" font-size="6" text-anchor="end" font-weight="bold">0.11</text>
<text transform="translate(1199.7 839.53) scale(0.78 1)" font-size="5.6" text-anchor="end" font-weight="bold">16.7</text>
<rect x="1092.5" y="840.85" width="107.8" height="6.04" fill="#f58220"/>
<rect x="1093.8" y="843.35" width="2.6" height="1.4" fill="#fff"/>
<text transform="translate(1098.1 845.85) scale(0.74 1)" font-size="6" font-weight="bold">213</text>
<text transform="translate(1111.3 845.85) scale(0.74 1)" font-size="6" font-weight="bold">Turks and Caicos Islands</text>
<text transform="translate(1181.2 845.85) scale(0.74 1)" font-size="6" text-anchor="end" font-weight="bold">0.08</text>
<text transform="translate(1199.7 845.85) scale(0.78 1)" font-size="5.6" text-anchor="end" font-weight="bold">0.0</text>
<rect x="1092.5" y="847.17" width="107.8" height="6.04" fill="#f58220"/>
<rect x="1093.8" y="849.67" width="2.6" height="1.4" fill="#fff"/>
<text transform="translate(1098.1 852.17) scale(0.74 1)" font-size="6" font-weight="bold">214</text>
<text transform="translate(1111.3 852.17) scale(0.74 1)" font-size="6" font-weight="bold">Falkland Islands</text>
<text transform="translate(1181.2 852.17) scale(0.74 1)" font-size="6" text-anchor="end" font-weight="bold">0.05</text>
<text transform="translate(1199.7 852.17) scale(0.78 1)" font-size="5.6" text-anchor="end" font-weight="bold">0.0</text>
<rect x="1092.5" y="853.49" width="107.8" height="6.04" fill="#00aeef"/>
<rect x="1093.8" y="855.99" width="2.6" height="1.4" fill="#fff"/>
<text transform="translate(1098.1 858.49) scale(0.74 1)" font-size="6" font-weight="bold">215</text>
<text transform="translate(1111.3 858.49) scale(0.74 1)" font-size="6" font-weight="bold">Kiribati</text>
<text transform="translate(1181.2 858.49) scale(0.74 1)" font-size="6" text-anchor="end" font-weight="bold">0.04</text>
<text transform="translate(1199.7 858.49) scale(0.78 1)" font-size="5.6" text-anchor="end" font-weight="bold">0.0</text>
<rect x="1092.5" y="859.81" width="107.8" height="6.04" fill="#8b7355"/>
<rect x="1093.8" y="862.31" width="2.6" height="1.4" fill="#fff"/>
<text transform="translate(1098.1 864.81) scale(0.74 1)" font-size="6" font-weight="bold">216</text>
<text transform="translate(1111.3 864.81) scale(0.74 1)" font-size="6" font-weight="bold">Saint Helena</text>
<text transform="translate(1181.2 864.81) scale(0.74 1)" font-size="6" text-anchor="end" font-weight="bold">0.01</text>
<text transform="translate(1199.7 864.81) scale(0.78 1)" font-size="5.6" text-anchor="end" font-weight="bold">11.2</text>
<rect x="1092.5" y="866.12" width="107.8" height="6.04" fill="#00aeef"/>
<rect x="1093.8" y="868.62" width="2.6" height="1.4" fill="#fff"/>
<text transform="translate(1098.1 871.12) scale(0.74 1)" font-size="6" font-weight="bold">217</text>
<text transform="translate(1111.3 871.12) scale(0.74 1)" font-size="6" font-weight="bold">Niue</text>
<text transform="translate(1181.2 871.12) scale(0.74 1)" font-size="6" text-anchor="end" font-weight="bold">0.01</text>
<text transform="translate(1199.7 871.12) scale(0.78 1)" font-size="5.6" text-anchor="end" font-weight="bold">2.9</text>
</g>
<g class="s">
<text x="1092.7" y="877.2" font-size="3.7" fill="#111">Table shows total carbon dioxide emissions</text>
<text x="1092.7" y="882" font-size="3.7" fill="#111">from the consumption of energy</text>
<text x="1092.7" y="889.3" font-size="3.3" fill="#333">GRAPHIC: MARK McCORMICK, PAUL SCRUTON</text>
<text x="1172" y="889.3" font-size="3.3" fill="#333">SOURCE: EIA</text>
</g>
</g>
</svg></body></html>
